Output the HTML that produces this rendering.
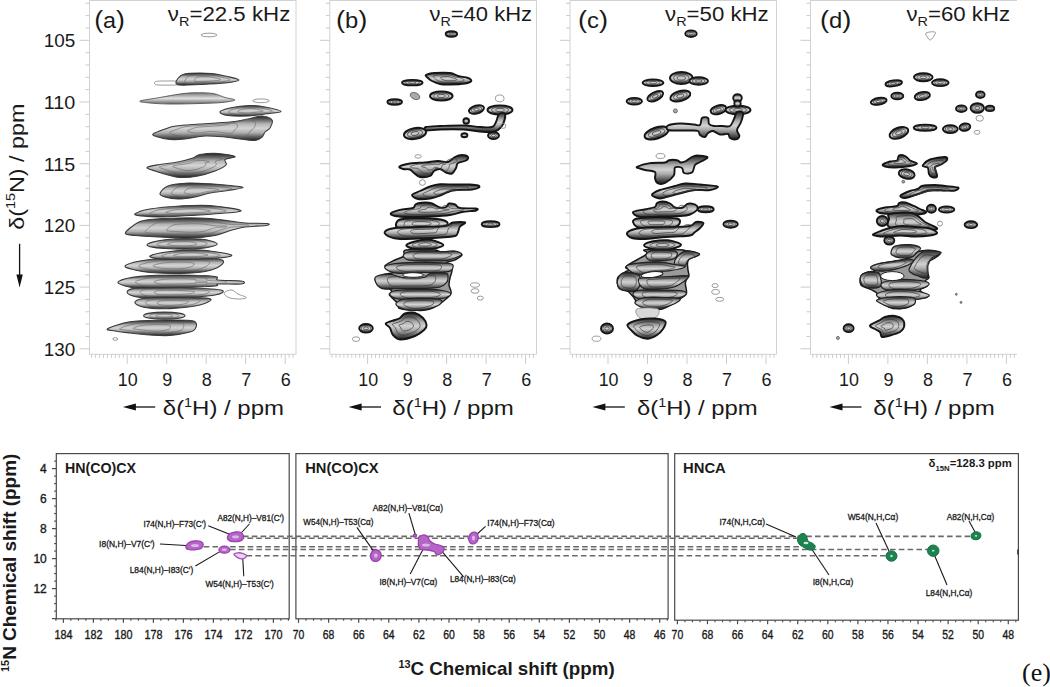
<!DOCTYPE html>
<html><head><meta charset="utf-8"><title>NMR spectra</title>
<style>
html,body{margin:0;padding:0;background:#fff;}
body{width:1050px;height:687px;overflow:hidden;}
svg{display:block;font-family:"Liberation Sans", sans-serif;}
</style></head>
<body>
<svg width="1050" height="687" viewBox="0 0 1050 687" fill="#1a1a1a">
<style>
.pa{fill:url(#ga);stroke:#3a3a3a;stroke-width:1.1}
.pal{fill:url(#gal);stroke:#555;stroke-width:0.9}
.pb,.pbn{fill:url(#gb);stroke:#151515;stroke-width:1.9}
.pbl{fill:#aaa;stroke:#555;stroke-width:0.8}
.ol{fill:none;stroke:#808080;stroke-width:0.8}
.hole{fill:#fff;stroke:#222;stroke-width:1}
.ia{fill:none;stroke:#666;stroke-width:0.6}
.ib{fill:none;stroke:#3a3a3a;stroke-width:0.7}
.neck{fill:#d8d8d8;stroke:#888;stroke-width:0.8}
.base{fill:#9a9a9a;stroke:#1a1a1a;stroke-width:1.5}
.bd{fill:url(#gb);stroke:#222;stroke-width:1.2}
.pu{fill:#b466c6;stroke:#9a40b0;stroke-width:1.3}
.gr{fill:#1c8250;stroke:#177445;stroke-width:1}
.grl{fill:#cfe3d8}
.pul{fill:#dcb6e4}
.puo{fill:#e9d3ee;stroke:#a84cbb;stroke-width:1.3}
</style>
<defs>
<linearGradient id="ga" x1="0" y1="0" x2="0" y2="1"><stop offset="0" stop-color="#222"/><stop offset="0.13" stop-color="#5a5a5a"/><stop offset="0.32" stop-color="#b4b4b4"/><stop offset="0.5" stop-color="#d4d4d4"/><stop offset="0.68" stop-color="#b0b0b0"/><stop offset="0.87" stop-color="#555"/><stop offset="1" stop-color="#222"/></linearGradient>
<linearGradient id="gal" x1="0" y1="0" x2="0" y2="1"><stop offset="0" stop-color="#777"/><stop offset="0.5" stop-color="#e0e0e0"/><stop offset="1" stop-color="#666"/></linearGradient>
<linearGradient id="gb" x1="0" y1="0" x2="0" y2="1"><stop offset="0" stop-color="#1e1e1e"/><stop offset="0.15" stop-color="#5e5e5e"/><stop offset="0.35" stop-color="#b0b0b0"/><stop offset="0.5" stop-color="#d2d2d2"/><stop offset="0.65" stop-color="#acacac"/><stop offset="0.85" stop-color="#585858"/><stop offset="1" stop-color="#1a1a1a"/></linearGradient>
</defs>
<line x1="89.50" y1="0.50" x2="296.00" y2="0.50" stroke="#d2d2d2" stroke-width="1.2"/>
<line x1="89.50" y1="0.50" x2="89.50" y2="354.30" stroke="#d2d2d2" stroke-width="1"/>
<line x1="89.50" y1="354.30" x2="296.00" y2="354.30" stroke="#d2d2d2" stroke-width="1"/>
<line x1="296.00" y1="0.50" x2="296.00" y2="354.30" stroke="#d2d2d2" stroke-width="1"/>
<line x1="85.50" y1="3.28" x2="89.50" y2="3.28" stroke="#cbcbcb" stroke-width="1"/>
<line x1="85.50" y1="15.62" x2="89.50" y2="15.62" stroke="#cbcbcb" stroke-width="1"/>
<line x1="85.50" y1="27.96" x2="89.50" y2="27.96" stroke="#cbcbcb" stroke-width="1"/>
<line x1="79.50" y1="40.30" x2="89.50" y2="40.30" stroke="#cbcbcb" stroke-width="1"/>
<line x1="85.50" y1="52.64" x2="89.50" y2="52.64" stroke="#cbcbcb" stroke-width="1"/>
<line x1="85.50" y1="64.98" x2="89.50" y2="64.98" stroke="#cbcbcb" stroke-width="1"/>
<line x1="85.50" y1="77.32" x2="89.50" y2="77.32" stroke="#cbcbcb" stroke-width="1"/>
<line x1="85.50" y1="89.66" x2="89.50" y2="89.66" stroke="#cbcbcb" stroke-width="1"/>
<line x1="79.50" y1="102.00" x2="89.50" y2="102.00" stroke="#cbcbcb" stroke-width="1"/>
<line x1="85.50" y1="114.34" x2="89.50" y2="114.34" stroke="#cbcbcb" stroke-width="1"/>
<line x1="85.50" y1="126.68" x2="89.50" y2="126.68" stroke="#cbcbcb" stroke-width="1"/>
<line x1="85.50" y1="139.02" x2="89.50" y2="139.02" stroke="#cbcbcb" stroke-width="1"/>
<line x1="85.50" y1="151.36" x2="89.50" y2="151.36" stroke="#cbcbcb" stroke-width="1"/>
<line x1="79.50" y1="163.70" x2="89.50" y2="163.70" stroke="#cbcbcb" stroke-width="1"/>
<line x1="85.50" y1="176.04" x2="89.50" y2="176.04" stroke="#cbcbcb" stroke-width="1"/>
<line x1="85.50" y1="188.38" x2="89.50" y2="188.38" stroke="#cbcbcb" stroke-width="1"/>
<line x1="85.50" y1="200.72" x2="89.50" y2="200.72" stroke="#cbcbcb" stroke-width="1"/>
<line x1="85.50" y1="213.06" x2="89.50" y2="213.06" stroke="#cbcbcb" stroke-width="1"/>
<line x1="79.50" y1="225.40" x2="89.50" y2="225.40" stroke="#cbcbcb" stroke-width="1"/>
<line x1="85.50" y1="237.74" x2="89.50" y2="237.74" stroke="#cbcbcb" stroke-width="1"/>
<line x1="85.50" y1="250.08" x2="89.50" y2="250.08" stroke="#cbcbcb" stroke-width="1"/>
<line x1="85.50" y1="262.42" x2="89.50" y2="262.42" stroke="#cbcbcb" stroke-width="1"/>
<line x1="85.50" y1="274.76" x2="89.50" y2="274.76" stroke="#cbcbcb" stroke-width="1"/>
<line x1="79.50" y1="287.10" x2="89.50" y2="287.10" stroke="#cbcbcb" stroke-width="1"/>
<line x1="85.50" y1="299.44" x2="89.50" y2="299.44" stroke="#cbcbcb" stroke-width="1"/>
<line x1="85.50" y1="311.78" x2="89.50" y2="311.78" stroke="#cbcbcb" stroke-width="1"/>
<line x1="85.50" y1="324.12" x2="89.50" y2="324.12" stroke="#cbcbcb" stroke-width="1"/>
<line x1="85.50" y1="336.46" x2="89.50" y2="336.46" stroke="#cbcbcb" stroke-width="1"/>
<line x1="79.50" y1="348.80" x2="89.50" y2="348.80" stroke="#cbcbcb" stroke-width="1"/>
<line x1="91.65" y1="354.30" x2="91.65" y2="357.80" stroke="#cbcbcb" stroke-width="1"/>
<line x1="95.60" y1="354.30" x2="95.60" y2="357.80" stroke="#cbcbcb" stroke-width="1"/>
<line x1="99.55" y1="354.30" x2="99.55" y2="357.80" stroke="#cbcbcb" stroke-width="1"/>
<line x1="103.50" y1="354.30" x2="103.50" y2="357.80" stroke="#cbcbcb" stroke-width="1"/>
<line x1="107.45" y1="354.30" x2="107.45" y2="357.80" stroke="#cbcbcb" stroke-width="1"/>
<line x1="111.40" y1="354.30" x2="111.40" y2="357.80" stroke="#cbcbcb" stroke-width="1"/>
<line x1="115.35" y1="354.30" x2="115.35" y2="357.80" stroke="#cbcbcb" stroke-width="1"/>
<line x1="119.30" y1="354.30" x2="119.30" y2="357.80" stroke="#cbcbcb" stroke-width="1"/>
<line x1="123.25" y1="354.30" x2="123.25" y2="357.80" stroke="#cbcbcb" stroke-width="1"/>
<line x1="127.20" y1="354.30" x2="127.20" y2="363.80" stroke="#cbcbcb" stroke-width="1"/>
<line x1="131.15" y1="354.30" x2="131.15" y2="357.80" stroke="#cbcbcb" stroke-width="1"/>
<line x1="135.10" y1="354.30" x2="135.10" y2="357.80" stroke="#cbcbcb" stroke-width="1"/>
<line x1="139.05" y1="354.30" x2="139.05" y2="357.80" stroke="#cbcbcb" stroke-width="1"/>
<line x1="143.00" y1="354.30" x2="143.00" y2="357.80" stroke="#cbcbcb" stroke-width="1"/>
<line x1="146.95" y1="354.30" x2="146.95" y2="357.80" stroke="#cbcbcb" stroke-width="1"/>
<line x1="150.90" y1="354.30" x2="150.90" y2="357.80" stroke="#cbcbcb" stroke-width="1"/>
<line x1="154.85" y1="354.30" x2="154.85" y2="357.80" stroke="#cbcbcb" stroke-width="1"/>
<line x1="158.80" y1="354.30" x2="158.80" y2="357.80" stroke="#cbcbcb" stroke-width="1"/>
<line x1="162.75" y1="354.30" x2="162.75" y2="357.80" stroke="#cbcbcb" stroke-width="1"/>
<line x1="166.70" y1="354.30" x2="166.70" y2="363.80" stroke="#cbcbcb" stroke-width="1"/>
<line x1="170.65" y1="354.30" x2="170.65" y2="357.80" stroke="#cbcbcb" stroke-width="1"/>
<line x1="174.60" y1="354.30" x2="174.60" y2="357.80" stroke="#cbcbcb" stroke-width="1"/>
<line x1="178.55" y1="354.30" x2="178.55" y2="357.80" stroke="#cbcbcb" stroke-width="1"/>
<line x1="182.50" y1="354.30" x2="182.50" y2="357.80" stroke="#cbcbcb" stroke-width="1"/>
<line x1="186.45" y1="354.30" x2="186.45" y2="357.80" stroke="#cbcbcb" stroke-width="1"/>
<line x1="190.40" y1="354.30" x2="190.40" y2="357.80" stroke="#cbcbcb" stroke-width="1"/>
<line x1="194.35" y1="354.30" x2="194.35" y2="357.80" stroke="#cbcbcb" stroke-width="1"/>
<line x1="198.30" y1="354.30" x2="198.30" y2="357.80" stroke="#cbcbcb" stroke-width="1"/>
<line x1="202.25" y1="354.30" x2="202.25" y2="357.80" stroke="#cbcbcb" stroke-width="1"/>
<line x1="206.20" y1="354.30" x2="206.20" y2="363.80" stroke="#cbcbcb" stroke-width="1"/>
<line x1="210.15" y1="354.30" x2="210.15" y2="357.80" stroke="#cbcbcb" stroke-width="1"/>
<line x1="214.10" y1="354.30" x2="214.10" y2="357.80" stroke="#cbcbcb" stroke-width="1"/>
<line x1="218.05" y1="354.30" x2="218.05" y2="357.80" stroke="#cbcbcb" stroke-width="1"/>
<line x1="222.00" y1="354.30" x2="222.00" y2="357.80" stroke="#cbcbcb" stroke-width="1"/>
<line x1="225.95" y1="354.30" x2="225.95" y2="357.80" stroke="#cbcbcb" stroke-width="1"/>
<line x1="229.90" y1="354.30" x2="229.90" y2="357.80" stroke="#cbcbcb" stroke-width="1"/>
<line x1="233.85" y1="354.30" x2="233.85" y2="357.80" stroke="#cbcbcb" stroke-width="1"/>
<line x1="237.80" y1="354.30" x2="237.80" y2="357.80" stroke="#cbcbcb" stroke-width="1"/>
<line x1="241.75" y1="354.30" x2="241.75" y2="357.80" stroke="#cbcbcb" stroke-width="1"/>
<line x1="245.70" y1="354.30" x2="245.70" y2="363.80" stroke="#cbcbcb" stroke-width="1"/>
<line x1="249.65" y1="354.30" x2="249.65" y2="357.80" stroke="#cbcbcb" stroke-width="1"/>
<line x1="253.60" y1="354.30" x2="253.60" y2="357.80" stroke="#cbcbcb" stroke-width="1"/>
<line x1="257.55" y1="354.30" x2="257.55" y2="357.80" stroke="#cbcbcb" stroke-width="1"/>
<line x1="261.50" y1="354.30" x2="261.50" y2="357.80" stroke="#cbcbcb" stroke-width="1"/>
<line x1="265.45" y1="354.30" x2="265.45" y2="357.80" stroke="#cbcbcb" stroke-width="1"/>
<line x1="269.40" y1="354.30" x2="269.40" y2="357.80" stroke="#cbcbcb" stroke-width="1"/>
<line x1="273.35" y1="354.30" x2="273.35" y2="357.80" stroke="#cbcbcb" stroke-width="1"/>
<line x1="277.30" y1="354.30" x2="277.30" y2="357.80" stroke="#cbcbcb" stroke-width="1"/>
<line x1="281.25" y1="354.30" x2="281.25" y2="357.80" stroke="#cbcbcb" stroke-width="1"/>
<line x1="285.20" y1="354.30" x2="285.20" y2="363.80" stroke="#cbcbcb" stroke-width="1"/>
<line x1="289.15" y1="354.30" x2="289.15" y2="357.80" stroke="#cbcbcb" stroke-width="1"/>
<line x1="293.10" y1="354.30" x2="293.10" y2="357.80" stroke="#cbcbcb" stroke-width="1"/>
<text x="127.8" y="386.2" font-size="18" text-anchor="middle" textLength="19.9" lengthAdjust="spacingAndGlyphs">10</text>
<text x="167.3" y="386.2" font-size="18" text-anchor="middle">9</text>
<text x="206.8" y="386.2" font-size="18" text-anchor="middle">8</text>
<text x="246.3" y="386.2" font-size="18" text-anchor="middle">7</text>
<text x="285.8" y="386.2" font-size="18" text-anchor="middle">6</text>
<line x1="132.90" y1="407.00" x2="155.20" y2="407.00" stroke="#111" stroke-width="1.3"/>
<path d="M122.9 407.0 L135.9 403.6 L135.9 410.4 Z" fill="#111"/>
<text x="162.8" y="415.3" font-size="20" textLength="121.2" lengthAdjust="spacingAndGlyphs">δ(<tspan font-size="12" dy="-8">1</tspan><tspan dy="8">H) / ppm</tspan></text>
<line x1="329.80" y1="0.50" x2="536.50" y2="0.50" stroke="#d2d2d2" stroke-width="1.2"/>
<line x1="329.80" y1="0.50" x2="329.80" y2="354.30" stroke="#d2d2d2" stroke-width="1"/>
<line x1="329.80" y1="354.30" x2="536.50" y2="354.30" stroke="#d2d2d2" stroke-width="1"/>
<line x1="536.50" y1="0.50" x2="536.50" y2="354.30" stroke="#d2d2d2" stroke-width="1"/>
<line x1="325.80" y1="3.28" x2="329.80" y2="3.28" stroke="#cbcbcb" stroke-width="1"/>
<line x1="325.80" y1="15.62" x2="329.80" y2="15.62" stroke="#cbcbcb" stroke-width="1"/>
<line x1="325.80" y1="27.96" x2="329.80" y2="27.96" stroke="#cbcbcb" stroke-width="1"/>
<line x1="319.80" y1="40.30" x2="329.80" y2="40.30" stroke="#cbcbcb" stroke-width="1"/>
<line x1="325.80" y1="52.64" x2="329.80" y2="52.64" stroke="#cbcbcb" stroke-width="1"/>
<line x1="325.80" y1="64.98" x2="329.80" y2="64.98" stroke="#cbcbcb" stroke-width="1"/>
<line x1="325.80" y1="77.32" x2="329.80" y2="77.32" stroke="#cbcbcb" stroke-width="1"/>
<line x1="325.80" y1="89.66" x2="329.80" y2="89.66" stroke="#cbcbcb" stroke-width="1"/>
<line x1="319.80" y1="102.00" x2="329.80" y2="102.00" stroke="#cbcbcb" stroke-width="1"/>
<line x1="325.80" y1="114.34" x2="329.80" y2="114.34" stroke="#cbcbcb" stroke-width="1"/>
<line x1="325.80" y1="126.68" x2="329.80" y2="126.68" stroke="#cbcbcb" stroke-width="1"/>
<line x1="325.80" y1="139.02" x2="329.80" y2="139.02" stroke="#cbcbcb" stroke-width="1"/>
<line x1="325.80" y1="151.36" x2="329.80" y2="151.36" stroke="#cbcbcb" stroke-width="1"/>
<line x1="319.80" y1="163.70" x2="329.80" y2="163.70" stroke="#cbcbcb" stroke-width="1"/>
<line x1="325.80" y1="176.04" x2="329.80" y2="176.04" stroke="#cbcbcb" stroke-width="1"/>
<line x1="325.80" y1="188.38" x2="329.80" y2="188.38" stroke="#cbcbcb" stroke-width="1"/>
<line x1="325.80" y1="200.72" x2="329.80" y2="200.72" stroke="#cbcbcb" stroke-width="1"/>
<line x1="325.80" y1="213.06" x2="329.80" y2="213.06" stroke="#cbcbcb" stroke-width="1"/>
<line x1="319.80" y1="225.40" x2="329.80" y2="225.40" stroke="#cbcbcb" stroke-width="1"/>
<line x1="325.80" y1="237.74" x2="329.80" y2="237.74" stroke="#cbcbcb" stroke-width="1"/>
<line x1="325.80" y1="250.08" x2="329.80" y2="250.08" stroke="#cbcbcb" stroke-width="1"/>
<line x1="325.80" y1="262.42" x2="329.80" y2="262.42" stroke="#cbcbcb" stroke-width="1"/>
<line x1="325.80" y1="274.76" x2="329.80" y2="274.76" stroke="#cbcbcb" stroke-width="1"/>
<line x1="319.80" y1="287.10" x2="329.80" y2="287.10" stroke="#cbcbcb" stroke-width="1"/>
<line x1="325.80" y1="299.44" x2="329.80" y2="299.44" stroke="#cbcbcb" stroke-width="1"/>
<line x1="325.80" y1="311.78" x2="329.80" y2="311.78" stroke="#cbcbcb" stroke-width="1"/>
<line x1="325.80" y1="324.12" x2="329.80" y2="324.12" stroke="#cbcbcb" stroke-width="1"/>
<line x1="325.80" y1="336.46" x2="329.80" y2="336.46" stroke="#cbcbcb" stroke-width="1"/>
<line x1="319.80" y1="348.80" x2="329.80" y2="348.80" stroke="#cbcbcb" stroke-width="1"/>
<line x1="332.05" y1="354.30" x2="332.05" y2="357.80" stroke="#cbcbcb" stroke-width="1"/>
<line x1="336.00" y1="354.30" x2="336.00" y2="357.80" stroke="#cbcbcb" stroke-width="1"/>
<line x1="339.95" y1="354.30" x2="339.95" y2="357.80" stroke="#cbcbcb" stroke-width="1"/>
<line x1="343.90" y1="354.30" x2="343.90" y2="357.80" stroke="#cbcbcb" stroke-width="1"/>
<line x1="347.85" y1="354.30" x2="347.85" y2="357.80" stroke="#cbcbcb" stroke-width="1"/>
<line x1="351.80" y1="354.30" x2="351.80" y2="357.80" stroke="#cbcbcb" stroke-width="1"/>
<line x1="355.75" y1="354.30" x2="355.75" y2="357.80" stroke="#cbcbcb" stroke-width="1"/>
<line x1="359.70" y1="354.30" x2="359.70" y2="357.80" stroke="#cbcbcb" stroke-width="1"/>
<line x1="363.65" y1="354.30" x2="363.65" y2="357.80" stroke="#cbcbcb" stroke-width="1"/>
<line x1="367.60" y1="354.30" x2="367.60" y2="363.80" stroke="#cbcbcb" stroke-width="1"/>
<line x1="371.55" y1="354.30" x2="371.55" y2="357.80" stroke="#cbcbcb" stroke-width="1"/>
<line x1="375.50" y1="354.30" x2="375.50" y2="357.80" stroke="#cbcbcb" stroke-width="1"/>
<line x1="379.45" y1="354.30" x2="379.45" y2="357.80" stroke="#cbcbcb" stroke-width="1"/>
<line x1="383.40" y1="354.30" x2="383.40" y2="357.80" stroke="#cbcbcb" stroke-width="1"/>
<line x1="387.35" y1="354.30" x2="387.35" y2="357.80" stroke="#cbcbcb" stroke-width="1"/>
<line x1="391.30" y1="354.30" x2="391.30" y2="357.80" stroke="#cbcbcb" stroke-width="1"/>
<line x1="395.25" y1="354.30" x2="395.25" y2="357.80" stroke="#cbcbcb" stroke-width="1"/>
<line x1="399.20" y1="354.30" x2="399.20" y2="357.80" stroke="#cbcbcb" stroke-width="1"/>
<line x1="403.15" y1="354.30" x2="403.15" y2="357.80" stroke="#cbcbcb" stroke-width="1"/>
<line x1="407.10" y1="354.30" x2="407.10" y2="363.80" stroke="#cbcbcb" stroke-width="1"/>
<line x1="411.05" y1="354.30" x2="411.05" y2="357.80" stroke="#cbcbcb" stroke-width="1"/>
<line x1="415.00" y1="354.30" x2="415.00" y2="357.80" stroke="#cbcbcb" stroke-width="1"/>
<line x1="418.95" y1="354.30" x2="418.95" y2="357.80" stroke="#cbcbcb" stroke-width="1"/>
<line x1="422.90" y1="354.30" x2="422.90" y2="357.80" stroke="#cbcbcb" stroke-width="1"/>
<line x1="426.85" y1="354.30" x2="426.85" y2="357.80" stroke="#cbcbcb" stroke-width="1"/>
<line x1="430.80" y1="354.30" x2="430.80" y2="357.80" stroke="#cbcbcb" stroke-width="1"/>
<line x1="434.75" y1="354.30" x2="434.75" y2="357.80" stroke="#cbcbcb" stroke-width="1"/>
<line x1="438.70" y1="354.30" x2="438.70" y2="357.80" stroke="#cbcbcb" stroke-width="1"/>
<line x1="442.65" y1="354.30" x2="442.65" y2="357.80" stroke="#cbcbcb" stroke-width="1"/>
<line x1="446.60" y1="354.30" x2="446.60" y2="363.80" stroke="#cbcbcb" stroke-width="1"/>
<line x1="450.55" y1="354.30" x2="450.55" y2="357.80" stroke="#cbcbcb" stroke-width="1"/>
<line x1="454.50" y1="354.30" x2="454.50" y2="357.80" stroke="#cbcbcb" stroke-width="1"/>
<line x1="458.45" y1="354.30" x2="458.45" y2="357.80" stroke="#cbcbcb" stroke-width="1"/>
<line x1="462.40" y1="354.30" x2="462.40" y2="357.80" stroke="#cbcbcb" stroke-width="1"/>
<line x1="466.35" y1="354.30" x2="466.35" y2="357.80" stroke="#cbcbcb" stroke-width="1"/>
<line x1="470.30" y1="354.30" x2="470.30" y2="357.80" stroke="#cbcbcb" stroke-width="1"/>
<line x1="474.25" y1="354.30" x2="474.25" y2="357.80" stroke="#cbcbcb" stroke-width="1"/>
<line x1="478.20" y1="354.30" x2="478.20" y2="357.80" stroke="#cbcbcb" stroke-width="1"/>
<line x1="482.15" y1="354.30" x2="482.15" y2="357.80" stroke="#cbcbcb" stroke-width="1"/>
<line x1="486.10" y1="354.30" x2="486.10" y2="363.80" stroke="#cbcbcb" stroke-width="1"/>
<line x1="490.05" y1="354.30" x2="490.05" y2="357.80" stroke="#cbcbcb" stroke-width="1"/>
<line x1="494.00" y1="354.30" x2="494.00" y2="357.80" stroke="#cbcbcb" stroke-width="1"/>
<line x1="497.95" y1="354.30" x2="497.95" y2="357.80" stroke="#cbcbcb" stroke-width="1"/>
<line x1="501.90" y1="354.30" x2="501.90" y2="357.80" stroke="#cbcbcb" stroke-width="1"/>
<line x1="505.85" y1="354.30" x2="505.85" y2="357.80" stroke="#cbcbcb" stroke-width="1"/>
<line x1="509.80" y1="354.30" x2="509.80" y2="357.80" stroke="#cbcbcb" stroke-width="1"/>
<line x1="513.75" y1="354.30" x2="513.75" y2="357.80" stroke="#cbcbcb" stroke-width="1"/>
<line x1="517.70" y1="354.30" x2="517.70" y2="357.80" stroke="#cbcbcb" stroke-width="1"/>
<line x1="521.65" y1="354.30" x2="521.65" y2="357.80" stroke="#cbcbcb" stroke-width="1"/>
<line x1="525.60" y1="354.30" x2="525.60" y2="363.80" stroke="#cbcbcb" stroke-width="1"/>
<line x1="529.55" y1="354.30" x2="529.55" y2="357.80" stroke="#cbcbcb" stroke-width="1"/>
<line x1="533.50" y1="354.30" x2="533.50" y2="357.80" stroke="#cbcbcb" stroke-width="1"/>
<text x="368.2" y="386.2" font-size="18" text-anchor="middle" textLength="19.9" lengthAdjust="spacingAndGlyphs">10</text>
<text x="407.7" y="386.2" font-size="18" text-anchor="middle">9</text>
<text x="447.2" y="386.2" font-size="18" text-anchor="middle">8</text>
<text x="486.7" y="386.2" font-size="18" text-anchor="middle">7</text>
<text x="526.2" y="386.2" font-size="18" text-anchor="middle">6</text>
<line x1="358.60" y1="407.00" x2="381.00" y2="407.00" stroke="#111" stroke-width="1.3"/>
<path d="M348.6 407.0 L361.6 403.6 L361.6 410.4 Z" fill="#111"/>
<text x="392.3" y="415.3" font-size="20" textLength="121.6" lengthAdjust="spacingAndGlyphs">δ(<tspan font-size="12" dy="-8">1</tspan><tspan dy="8">H) / ppm</tspan></text>
<line x1="570.00" y1="0.50" x2="776.50" y2="0.50" stroke="#d2d2d2" stroke-width="1.2"/>
<line x1="570.00" y1="0.50" x2="570.00" y2="354.30" stroke="#d2d2d2" stroke-width="1"/>
<line x1="570.00" y1="354.30" x2="776.50" y2="354.30" stroke="#d2d2d2" stroke-width="1"/>
<line x1="776.50" y1="0.50" x2="776.50" y2="354.30" stroke="#d2d2d2" stroke-width="1"/>
<line x1="566.00" y1="3.28" x2="570.00" y2="3.28" stroke="#cbcbcb" stroke-width="1"/>
<line x1="566.00" y1="15.62" x2="570.00" y2="15.62" stroke="#cbcbcb" stroke-width="1"/>
<line x1="566.00" y1="27.96" x2="570.00" y2="27.96" stroke="#cbcbcb" stroke-width="1"/>
<line x1="560.00" y1="40.30" x2="570.00" y2="40.30" stroke="#cbcbcb" stroke-width="1"/>
<line x1="566.00" y1="52.64" x2="570.00" y2="52.64" stroke="#cbcbcb" stroke-width="1"/>
<line x1="566.00" y1="64.98" x2="570.00" y2="64.98" stroke="#cbcbcb" stroke-width="1"/>
<line x1="566.00" y1="77.32" x2="570.00" y2="77.32" stroke="#cbcbcb" stroke-width="1"/>
<line x1="566.00" y1="89.66" x2="570.00" y2="89.66" stroke="#cbcbcb" stroke-width="1"/>
<line x1="560.00" y1="102.00" x2="570.00" y2="102.00" stroke="#cbcbcb" stroke-width="1"/>
<line x1="566.00" y1="114.34" x2="570.00" y2="114.34" stroke="#cbcbcb" stroke-width="1"/>
<line x1="566.00" y1="126.68" x2="570.00" y2="126.68" stroke="#cbcbcb" stroke-width="1"/>
<line x1="566.00" y1="139.02" x2="570.00" y2="139.02" stroke="#cbcbcb" stroke-width="1"/>
<line x1="566.00" y1="151.36" x2="570.00" y2="151.36" stroke="#cbcbcb" stroke-width="1"/>
<line x1="560.00" y1="163.70" x2="570.00" y2="163.70" stroke="#cbcbcb" stroke-width="1"/>
<line x1="566.00" y1="176.04" x2="570.00" y2="176.04" stroke="#cbcbcb" stroke-width="1"/>
<line x1="566.00" y1="188.38" x2="570.00" y2="188.38" stroke="#cbcbcb" stroke-width="1"/>
<line x1="566.00" y1="200.72" x2="570.00" y2="200.72" stroke="#cbcbcb" stroke-width="1"/>
<line x1="566.00" y1="213.06" x2="570.00" y2="213.06" stroke="#cbcbcb" stroke-width="1"/>
<line x1="560.00" y1="225.40" x2="570.00" y2="225.40" stroke="#cbcbcb" stroke-width="1"/>
<line x1="566.00" y1="237.74" x2="570.00" y2="237.74" stroke="#cbcbcb" stroke-width="1"/>
<line x1="566.00" y1="250.08" x2="570.00" y2="250.08" stroke="#cbcbcb" stroke-width="1"/>
<line x1="566.00" y1="262.42" x2="570.00" y2="262.42" stroke="#cbcbcb" stroke-width="1"/>
<line x1="566.00" y1="274.76" x2="570.00" y2="274.76" stroke="#cbcbcb" stroke-width="1"/>
<line x1="560.00" y1="287.10" x2="570.00" y2="287.10" stroke="#cbcbcb" stroke-width="1"/>
<line x1="566.00" y1="299.44" x2="570.00" y2="299.44" stroke="#cbcbcb" stroke-width="1"/>
<line x1="566.00" y1="311.78" x2="570.00" y2="311.78" stroke="#cbcbcb" stroke-width="1"/>
<line x1="566.00" y1="324.12" x2="570.00" y2="324.12" stroke="#cbcbcb" stroke-width="1"/>
<line x1="566.00" y1="336.46" x2="570.00" y2="336.46" stroke="#cbcbcb" stroke-width="1"/>
<line x1="560.00" y1="348.80" x2="570.00" y2="348.80" stroke="#cbcbcb" stroke-width="1"/>
<line x1="572.45" y1="354.30" x2="572.45" y2="357.80" stroke="#cbcbcb" stroke-width="1"/>
<line x1="576.40" y1="354.30" x2="576.40" y2="357.80" stroke="#cbcbcb" stroke-width="1"/>
<line x1="580.35" y1="354.30" x2="580.35" y2="357.80" stroke="#cbcbcb" stroke-width="1"/>
<line x1="584.30" y1="354.30" x2="584.30" y2="357.80" stroke="#cbcbcb" stroke-width="1"/>
<line x1="588.25" y1="354.30" x2="588.25" y2="357.80" stroke="#cbcbcb" stroke-width="1"/>
<line x1="592.20" y1="354.30" x2="592.20" y2="357.80" stroke="#cbcbcb" stroke-width="1"/>
<line x1="596.15" y1="354.30" x2="596.15" y2="357.80" stroke="#cbcbcb" stroke-width="1"/>
<line x1="600.10" y1="354.30" x2="600.10" y2="357.80" stroke="#cbcbcb" stroke-width="1"/>
<line x1="604.05" y1="354.30" x2="604.05" y2="357.80" stroke="#cbcbcb" stroke-width="1"/>
<line x1="608.00" y1="354.30" x2="608.00" y2="363.80" stroke="#cbcbcb" stroke-width="1"/>
<line x1="611.95" y1="354.30" x2="611.95" y2="357.80" stroke="#cbcbcb" stroke-width="1"/>
<line x1="615.90" y1="354.30" x2="615.90" y2="357.80" stroke="#cbcbcb" stroke-width="1"/>
<line x1="619.85" y1="354.30" x2="619.85" y2="357.80" stroke="#cbcbcb" stroke-width="1"/>
<line x1="623.80" y1="354.30" x2="623.80" y2="357.80" stroke="#cbcbcb" stroke-width="1"/>
<line x1="627.75" y1="354.30" x2="627.75" y2="357.80" stroke="#cbcbcb" stroke-width="1"/>
<line x1="631.70" y1="354.30" x2="631.70" y2="357.80" stroke="#cbcbcb" stroke-width="1"/>
<line x1="635.65" y1="354.30" x2="635.65" y2="357.80" stroke="#cbcbcb" stroke-width="1"/>
<line x1="639.60" y1="354.30" x2="639.60" y2="357.80" stroke="#cbcbcb" stroke-width="1"/>
<line x1="643.55" y1="354.30" x2="643.55" y2="357.80" stroke="#cbcbcb" stroke-width="1"/>
<line x1="647.50" y1="354.30" x2="647.50" y2="363.80" stroke="#cbcbcb" stroke-width="1"/>
<line x1="651.45" y1="354.30" x2="651.45" y2="357.80" stroke="#cbcbcb" stroke-width="1"/>
<line x1="655.40" y1="354.30" x2="655.40" y2="357.80" stroke="#cbcbcb" stroke-width="1"/>
<line x1="659.35" y1="354.30" x2="659.35" y2="357.80" stroke="#cbcbcb" stroke-width="1"/>
<line x1="663.30" y1="354.30" x2="663.30" y2="357.80" stroke="#cbcbcb" stroke-width="1"/>
<line x1="667.25" y1="354.30" x2="667.25" y2="357.80" stroke="#cbcbcb" stroke-width="1"/>
<line x1="671.20" y1="354.30" x2="671.20" y2="357.80" stroke="#cbcbcb" stroke-width="1"/>
<line x1="675.15" y1="354.30" x2="675.15" y2="357.80" stroke="#cbcbcb" stroke-width="1"/>
<line x1="679.10" y1="354.30" x2="679.10" y2="357.80" stroke="#cbcbcb" stroke-width="1"/>
<line x1="683.05" y1="354.30" x2="683.05" y2="357.80" stroke="#cbcbcb" stroke-width="1"/>
<line x1="687.00" y1="354.30" x2="687.00" y2="363.80" stroke="#cbcbcb" stroke-width="1"/>
<line x1="690.95" y1="354.30" x2="690.95" y2="357.80" stroke="#cbcbcb" stroke-width="1"/>
<line x1="694.90" y1="354.30" x2="694.90" y2="357.80" stroke="#cbcbcb" stroke-width="1"/>
<line x1="698.85" y1="354.30" x2="698.85" y2="357.80" stroke="#cbcbcb" stroke-width="1"/>
<line x1="702.80" y1="354.30" x2="702.80" y2="357.80" stroke="#cbcbcb" stroke-width="1"/>
<line x1="706.75" y1="354.30" x2="706.75" y2="357.80" stroke="#cbcbcb" stroke-width="1"/>
<line x1="710.70" y1="354.30" x2="710.70" y2="357.80" stroke="#cbcbcb" stroke-width="1"/>
<line x1="714.65" y1="354.30" x2="714.65" y2="357.80" stroke="#cbcbcb" stroke-width="1"/>
<line x1="718.60" y1="354.30" x2="718.60" y2="357.80" stroke="#cbcbcb" stroke-width="1"/>
<line x1="722.55" y1="354.30" x2="722.55" y2="357.80" stroke="#cbcbcb" stroke-width="1"/>
<line x1="726.50" y1="354.30" x2="726.50" y2="363.80" stroke="#cbcbcb" stroke-width="1"/>
<line x1="730.45" y1="354.30" x2="730.45" y2="357.80" stroke="#cbcbcb" stroke-width="1"/>
<line x1="734.40" y1="354.30" x2="734.40" y2="357.80" stroke="#cbcbcb" stroke-width="1"/>
<line x1="738.35" y1="354.30" x2="738.35" y2="357.80" stroke="#cbcbcb" stroke-width="1"/>
<line x1="742.30" y1="354.30" x2="742.30" y2="357.80" stroke="#cbcbcb" stroke-width="1"/>
<line x1="746.25" y1="354.30" x2="746.25" y2="357.80" stroke="#cbcbcb" stroke-width="1"/>
<line x1="750.20" y1="354.30" x2="750.20" y2="357.80" stroke="#cbcbcb" stroke-width="1"/>
<line x1="754.15" y1="354.30" x2="754.15" y2="357.80" stroke="#cbcbcb" stroke-width="1"/>
<line x1="758.10" y1="354.30" x2="758.10" y2="357.80" stroke="#cbcbcb" stroke-width="1"/>
<line x1="762.05" y1="354.30" x2="762.05" y2="357.80" stroke="#cbcbcb" stroke-width="1"/>
<line x1="766.00" y1="354.30" x2="766.00" y2="363.80" stroke="#cbcbcb" stroke-width="1"/>
<line x1="769.95" y1="354.30" x2="769.95" y2="357.80" stroke="#cbcbcb" stroke-width="1"/>
<line x1="773.90" y1="354.30" x2="773.90" y2="357.80" stroke="#cbcbcb" stroke-width="1"/>
<text x="608.6" y="386.2" font-size="18" text-anchor="middle" textLength="19.9" lengthAdjust="spacingAndGlyphs">10</text>
<text x="648.1" y="386.2" font-size="18" text-anchor="middle">9</text>
<text x="687.6" y="386.2" font-size="18" text-anchor="middle">8</text>
<text x="727.1" y="386.2" font-size="18" text-anchor="middle">7</text>
<text x="766.6" y="386.2" font-size="18" text-anchor="middle">6</text>
<line x1="602.40" y1="407.00" x2="624.80" y2="407.00" stroke="#111" stroke-width="1.3"/>
<path d="M592.4 407.0 L605.4 403.6 L605.4 410.4 Z" fill="#111"/>
<text x="637.1" y="415.3" font-size="20" textLength="120.6" lengthAdjust="spacingAndGlyphs">δ(<tspan font-size="12" dy="-8">1</tspan><tspan dy="8">H) / ppm</tspan></text>
<line x1="810.50" y1="0.50" x2="1017.00" y2="0.50" stroke="#d2d2d2" stroke-width="1.2"/>
<line x1="810.50" y1="0.50" x2="810.50" y2="354.30" stroke="#d2d2d2" stroke-width="1"/>
<line x1="810.50" y1="354.30" x2="1017.00" y2="354.30" stroke="#d2d2d2" stroke-width="1"/>
<line x1="806.50" y1="3.28" x2="810.50" y2="3.28" stroke="#cbcbcb" stroke-width="1"/>
<line x1="806.50" y1="15.62" x2="810.50" y2="15.62" stroke="#cbcbcb" stroke-width="1"/>
<line x1="806.50" y1="27.96" x2="810.50" y2="27.96" stroke="#cbcbcb" stroke-width="1"/>
<line x1="800.50" y1="40.30" x2="810.50" y2="40.30" stroke="#cbcbcb" stroke-width="1"/>
<line x1="806.50" y1="52.64" x2="810.50" y2="52.64" stroke="#cbcbcb" stroke-width="1"/>
<line x1="806.50" y1="64.98" x2="810.50" y2="64.98" stroke="#cbcbcb" stroke-width="1"/>
<line x1="806.50" y1="77.32" x2="810.50" y2="77.32" stroke="#cbcbcb" stroke-width="1"/>
<line x1="806.50" y1="89.66" x2="810.50" y2="89.66" stroke="#cbcbcb" stroke-width="1"/>
<line x1="800.50" y1="102.00" x2="810.50" y2="102.00" stroke="#cbcbcb" stroke-width="1"/>
<line x1="806.50" y1="114.34" x2="810.50" y2="114.34" stroke="#cbcbcb" stroke-width="1"/>
<line x1="806.50" y1="126.68" x2="810.50" y2="126.68" stroke="#cbcbcb" stroke-width="1"/>
<line x1="806.50" y1="139.02" x2="810.50" y2="139.02" stroke="#cbcbcb" stroke-width="1"/>
<line x1="806.50" y1="151.36" x2="810.50" y2="151.36" stroke="#cbcbcb" stroke-width="1"/>
<line x1="800.50" y1="163.70" x2="810.50" y2="163.70" stroke="#cbcbcb" stroke-width="1"/>
<line x1="806.50" y1="176.04" x2="810.50" y2="176.04" stroke="#cbcbcb" stroke-width="1"/>
<line x1="806.50" y1="188.38" x2="810.50" y2="188.38" stroke="#cbcbcb" stroke-width="1"/>
<line x1="806.50" y1="200.72" x2="810.50" y2="200.72" stroke="#cbcbcb" stroke-width="1"/>
<line x1="806.50" y1="213.06" x2="810.50" y2="213.06" stroke="#cbcbcb" stroke-width="1"/>
<line x1="800.50" y1="225.40" x2="810.50" y2="225.40" stroke="#cbcbcb" stroke-width="1"/>
<line x1="806.50" y1="237.74" x2="810.50" y2="237.74" stroke="#cbcbcb" stroke-width="1"/>
<line x1="806.50" y1="250.08" x2="810.50" y2="250.08" stroke="#cbcbcb" stroke-width="1"/>
<line x1="806.50" y1="262.42" x2="810.50" y2="262.42" stroke="#cbcbcb" stroke-width="1"/>
<line x1="806.50" y1="274.76" x2="810.50" y2="274.76" stroke="#cbcbcb" stroke-width="1"/>
<line x1="800.50" y1="287.10" x2="810.50" y2="287.10" stroke="#cbcbcb" stroke-width="1"/>
<line x1="806.50" y1="299.44" x2="810.50" y2="299.44" stroke="#cbcbcb" stroke-width="1"/>
<line x1="806.50" y1="311.78" x2="810.50" y2="311.78" stroke="#cbcbcb" stroke-width="1"/>
<line x1="806.50" y1="324.12" x2="810.50" y2="324.12" stroke="#cbcbcb" stroke-width="1"/>
<line x1="806.50" y1="336.46" x2="810.50" y2="336.46" stroke="#cbcbcb" stroke-width="1"/>
<line x1="800.50" y1="348.80" x2="810.50" y2="348.80" stroke="#cbcbcb" stroke-width="1"/>
<line x1="812.85" y1="354.30" x2="812.85" y2="357.80" stroke="#cbcbcb" stroke-width="1"/>
<line x1="816.80" y1="354.30" x2="816.80" y2="357.80" stroke="#cbcbcb" stroke-width="1"/>
<line x1="820.75" y1="354.30" x2="820.75" y2="357.80" stroke="#cbcbcb" stroke-width="1"/>
<line x1="824.70" y1="354.30" x2="824.70" y2="357.80" stroke="#cbcbcb" stroke-width="1"/>
<line x1="828.65" y1="354.30" x2="828.65" y2="357.80" stroke="#cbcbcb" stroke-width="1"/>
<line x1="832.60" y1="354.30" x2="832.60" y2="357.80" stroke="#cbcbcb" stroke-width="1"/>
<line x1="836.55" y1="354.30" x2="836.55" y2="357.80" stroke="#cbcbcb" stroke-width="1"/>
<line x1="840.50" y1="354.30" x2="840.50" y2="357.80" stroke="#cbcbcb" stroke-width="1"/>
<line x1="844.45" y1="354.30" x2="844.45" y2="357.80" stroke="#cbcbcb" stroke-width="1"/>
<line x1="848.40" y1="354.30" x2="848.40" y2="363.80" stroke="#cbcbcb" stroke-width="1"/>
<line x1="852.35" y1="354.30" x2="852.35" y2="357.80" stroke="#cbcbcb" stroke-width="1"/>
<line x1="856.30" y1="354.30" x2="856.30" y2="357.80" stroke="#cbcbcb" stroke-width="1"/>
<line x1="860.25" y1="354.30" x2="860.25" y2="357.80" stroke="#cbcbcb" stroke-width="1"/>
<line x1="864.20" y1="354.30" x2="864.20" y2="357.80" stroke="#cbcbcb" stroke-width="1"/>
<line x1="868.15" y1="354.30" x2="868.15" y2="357.80" stroke="#cbcbcb" stroke-width="1"/>
<line x1="872.10" y1="354.30" x2="872.10" y2="357.80" stroke="#cbcbcb" stroke-width="1"/>
<line x1="876.05" y1="354.30" x2="876.05" y2="357.80" stroke="#cbcbcb" stroke-width="1"/>
<line x1="880.00" y1="354.30" x2="880.00" y2="357.80" stroke="#cbcbcb" stroke-width="1"/>
<line x1="883.95" y1="354.30" x2="883.95" y2="357.80" stroke="#cbcbcb" stroke-width="1"/>
<line x1="887.90" y1="354.30" x2="887.90" y2="363.80" stroke="#cbcbcb" stroke-width="1"/>
<line x1="891.85" y1="354.30" x2="891.85" y2="357.80" stroke="#cbcbcb" stroke-width="1"/>
<line x1="895.80" y1="354.30" x2="895.80" y2="357.80" stroke="#cbcbcb" stroke-width="1"/>
<line x1="899.75" y1="354.30" x2="899.75" y2="357.80" stroke="#cbcbcb" stroke-width="1"/>
<line x1="903.70" y1="354.30" x2="903.70" y2="357.80" stroke="#cbcbcb" stroke-width="1"/>
<line x1="907.65" y1="354.30" x2="907.65" y2="357.80" stroke="#cbcbcb" stroke-width="1"/>
<line x1="911.60" y1="354.30" x2="911.60" y2="357.80" stroke="#cbcbcb" stroke-width="1"/>
<line x1="915.55" y1="354.30" x2="915.55" y2="357.80" stroke="#cbcbcb" stroke-width="1"/>
<line x1="919.50" y1="354.30" x2="919.50" y2="357.80" stroke="#cbcbcb" stroke-width="1"/>
<line x1="923.45" y1="354.30" x2="923.45" y2="357.80" stroke="#cbcbcb" stroke-width="1"/>
<line x1="927.40" y1="354.30" x2="927.40" y2="363.80" stroke="#cbcbcb" stroke-width="1"/>
<line x1="931.35" y1="354.30" x2="931.35" y2="357.80" stroke="#cbcbcb" stroke-width="1"/>
<line x1="935.30" y1="354.30" x2="935.30" y2="357.80" stroke="#cbcbcb" stroke-width="1"/>
<line x1="939.25" y1="354.30" x2="939.25" y2="357.80" stroke="#cbcbcb" stroke-width="1"/>
<line x1="943.20" y1="354.30" x2="943.20" y2="357.80" stroke="#cbcbcb" stroke-width="1"/>
<line x1="947.15" y1="354.30" x2="947.15" y2="357.80" stroke="#cbcbcb" stroke-width="1"/>
<line x1="951.10" y1="354.30" x2="951.10" y2="357.80" stroke="#cbcbcb" stroke-width="1"/>
<line x1="955.05" y1="354.30" x2="955.05" y2="357.80" stroke="#cbcbcb" stroke-width="1"/>
<line x1="959.00" y1="354.30" x2="959.00" y2="357.80" stroke="#cbcbcb" stroke-width="1"/>
<line x1="962.95" y1="354.30" x2="962.95" y2="357.80" stroke="#cbcbcb" stroke-width="1"/>
<line x1="966.90" y1="354.30" x2="966.90" y2="363.80" stroke="#cbcbcb" stroke-width="1"/>
<line x1="970.85" y1="354.30" x2="970.85" y2="357.80" stroke="#cbcbcb" stroke-width="1"/>
<line x1="974.80" y1="354.30" x2="974.80" y2="357.80" stroke="#cbcbcb" stroke-width="1"/>
<line x1="978.75" y1="354.30" x2="978.75" y2="357.80" stroke="#cbcbcb" stroke-width="1"/>
<line x1="982.70" y1="354.30" x2="982.70" y2="357.80" stroke="#cbcbcb" stroke-width="1"/>
<line x1="986.65" y1="354.30" x2="986.65" y2="357.80" stroke="#cbcbcb" stroke-width="1"/>
<line x1="990.60" y1="354.30" x2="990.60" y2="357.80" stroke="#cbcbcb" stroke-width="1"/>
<line x1="994.55" y1="354.30" x2="994.55" y2="357.80" stroke="#cbcbcb" stroke-width="1"/>
<line x1="998.50" y1="354.30" x2="998.50" y2="357.80" stroke="#cbcbcb" stroke-width="1"/>
<line x1="1002.45" y1="354.30" x2="1002.45" y2="357.80" stroke="#cbcbcb" stroke-width="1"/>
<line x1="1006.40" y1="354.30" x2="1006.40" y2="363.80" stroke="#cbcbcb" stroke-width="1"/>
<line x1="1010.35" y1="354.30" x2="1010.35" y2="357.80" stroke="#cbcbcb" stroke-width="1"/>
<line x1="1014.30" y1="354.30" x2="1014.30" y2="357.80" stroke="#cbcbcb" stroke-width="1"/>
<text x="849.0" y="386.2" font-size="18" text-anchor="middle" textLength="19.9" lengthAdjust="spacingAndGlyphs">10</text>
<text x="888.5" y="386.2" font-size="18" text-anchor="middle">9</text>
<text x="928.0" y="386.2" font-size="18" text-anchor="middle">8</text>
<text x="967.5" y="386.2" font-size="18" text-anchor="middle">7</text>
<text x="1007.0" y="386.2" font-size="18" text-anchor="middle">6</text>
<line x1="839.50" y1="407.00" x2="861.50" y2="407.00" stroke="#111" stroke-width="1.3"/>
<path d="M829.5 407.0 L842.5 403.6 L842.5 410.4 Z" fill="#111"/>
<text x="873.3" y="415.3" font-size="20" textLength="121.5" lengthAdjust="spacingAndGlyphs">δ(<tspan font-size="12" dy="-8">1</tspan><tspan dy="8">H) / ppm</tspan></text>
<text x="94.2" y="27.5" font-size="24.6" textLength="30.8" lengthAdjust="spacingAndGlyphs">(<tspan font-size="21.5">a</tspan>)</text>
<text x="167.8" y="21.3" font-size="20" textLength="122.5" lengthAdjust="spacingAndGlyphs">ν<tspan font-size="13" dy="5">R</tspan><tspan dy="-5">=22.5 kHz</tspan></text>
<text x="336.0" y="27.5" font-size="24.6" textLength="31.4" lengthAdjust="spacingAndGlyphs">(<tspan font-size="21.5">b</tspan>)</text>
<text x="429.5" y="21.3" font-size="20" textLength="102.5" lengthAdjust="spacingAndGlyphs">ν<tspan font-size="13" dy="5">R</tspan><tspan dy="-5">=40 kHz</tspan></text>
<text x="578.0" y="27.5" font-size="24.6" textLength="30.0" lengthAdjust="spacingAndGlyphs">(<tspan font-size="21.5">c</tspan>)</text>
<text x="665.1" y="21.3" font-size="20" textLength="103.5" lengthAdjust="spacingAndGlyphs">ν<tspan font-size="13" dy="5">R</tspan><tspan dy="-5">=50 kHz</tspan></text>
<text x="820.0" y="27.5" font-size="24.6" textLength="31.4" lengthAdjust="spacingAndGlyphs">(<tspan font-size="21.5">d</tspan>)</text>
<text x="906.5" y="21.3" font-size="20" textLength="103.5" lengthAdjust="spacingAndGlyphs">ν<tspan font-size="13" dy="5">R</tspan><tspan dy="-5">=60 kHz</tspan></text>
<text x="75.2" y="47.1" font-size="19" text-anchor="end" textLength="31.5" lengthAdjust="spacingAndGlyphs">105</text>
<text x="75.2" y="108.8" font-size="19" text-anchor="end" textLength="31.5" lengthAdjust="spacingAndGlyphs">110</text>
<text x="75.2" y="170.5" font-size="19" text-anchor="end" textLength="31.5" lengthAdjust="spacingAndGlyphs">115</text>
<text x="75.2" y="232.2" font-size="19" text-anchor="end" textLength="31.5" lengthAdjust="spacingAndGlyphs">120</text>
<text x="75.2" y="293.9" font-size="19" text-anchor="end" textLength="31.5" lengthAdjust="spacingAndGlyphs">125</text>
<text x="75.2" y="355.6" font-size="19" text-anchor="end" textLength="31.5" lengthAdjust="spacingAndGlyphs">130</text>
<g transform="translate(24.0,229.8) rotate(-90)">
<text x="0.0" y="0.0" font-size="21" textLength="126.2" lengthAdjust="spacingAndGlyphs">δ(<tspan font-size="13" dy="-9">15</tspan><tspan dy="9">N) / ppm</tspan></text>
</g>
<line x1="19.60" y1="243.80" x2="19.60" y2="276.00" stroke="#111" stroke-width="1.3"/>
<path d="M19.6 287.5 L16.4 274.4 L22.8 274.4 Z" fill="#111"/>
<ellipse class="ol" cx="209.0" cy="35.0" rx="8.0" ry="1.8"/>
<path class="ol" d="M154.5 83.0C154.5 82.4 154.4 81.5 158.0 81.2C161.6 80.9 172.0 81.0 176.0 81.0C180.0 81.0 181.0 80.9 182.0 81.5C183.0 82.1 183.0 83.9 182.0 84.5C181.0 85.1 180.0 84.9 176.0 85.0C172.0 85.1 161.6 85.3 158.0 85.0C154.4 84.7 154.5 83.6 154.5 83.0Z"/>
<path class="pa" d="M176.0 82.0C176.2 80.4 178.7 77.0 181.0 75.5C183.3 74.0 184.8 73.6 190.0 73.3C195.2 73.0 206.2 73.0 212.0 73.5C217.8 74.0 220.5 74.9 225.0 76.0C229.5 77.1 239.0 78.8 239.0 80.0C239.0 81.2 231.5 82.2 225.0 83.0C218.5 83.8 207.5 84.2 200.0 84.5C192.5 84.8 184.0 85.4 180.0 85.0C176.0 84.6 175.8 83.6 176.0 82.0Z"/><path class="ia" d="M184.8 81.2C184.9 80.1 186.7 77.6 188.4 76.5C190.1 75.5 191.2 75.2 194.9 74.9C198.6 74.7 206.5 74.8 210.7 75.1C214.9 75.4 216.9 76.1 220.1 76.9C223.3 77.7 230.2 78.9 230.2 79.8C230.2 80.6 224.8 81.4 220.1 81.9C215.4 82.5 207.5 82.8 202.1 83.0C196.7 83.2 190.6 83.7 187.7 83.4C184.8 83.1 184.7 82.3 184.8 81.2Z"/><path class="ia" d="M194.3 80.3C194.3 79.7 195.4 78.2 196.4 77.6C197.3 77.0 198.0 76.8 200.2 76.7C202.3 76.6 206.9 76.6 209.4 76.8C211.8 77.0 213.0 77.4 214.8 77.8C216.7 78.3 220.7 79.0 220.7 79.5C220.7 80.0 217.6 80.5 214.8 80.8C212.1 81.1 207.5 81.3 204.3 81.4C201.2 81.5 197.6 81.8 195.9 81.6C194.3 81.4 194.2 81.0 194.3 80.3Z"/>
<path class="pal" d="M140.0 101.0C141.7 100.1 153.3 98.7 160.0 97.5C166.7 96.3 174.2 94.8 180.0 94.0C185.8 93.2 189.5 92.9 195.0 92.8C200.5 92.7 208.0 92.7 213.0 93.5C218.0 94.3 221.3 96.4 225.0 97.5C228.7 98.6 235.5 99.2 235.0 100.0C234.5 100.8 227.8 101.9 222.0 102.5C216.2 103.1 208.7 103.2 200.0 103.5C191.3 103.8 178.3 104.1 170.0 104.0C161.7 103.9 155.0 103.5 150.0 103.0C145.0 102.5 138.3 101.9 140.0 101.0Z"/>
<ellipse class="ol" cx="261.0" cy="100.8" rx="8.3" ry="1.9"/>
<path class="pa" d="M220.0 112.0C220.3 110.8 225.0 109.1 230.0 108.0C235.0 106.9 244.2 105.7 250.0 105.5C255.8 105.3 259.8 106.0 265.0 107.0C270.2 108.0 281.0 110.3 281.0 111.5C281.0 112.7 270.5 113.2 265.0 114.0C259.5 114.8 254.2 115.8 248.0 116.0C241.8 116.2 232.7 116.2 228.0 115.5C223.3 114.8 219.7 113.2 220.0 112.0Z"/><path class="ia" d="M228.5 111.7C228.8 110.8 232.1 109.5 235.7 108.8C239.3 108.0 245.9 107.1 250.1 107.0C254.3 106.8 257.2 107.3 260.9 108.0C264.7 108.8 272.5 110.5 272.5 111.3C272.5 112.1 264.9 112.6 260.9 113.1C257.0 113.6 253.1 114.3 248.7 114.5C244.3 114.7 237.7 114.7 234.3 114.2C230.9 113.7 228.3 112.6 228.5 111.7Z"/><path class="ia" d="M237.7 111.3C237.8 110.8 239.8 110.0 241.9 109.6C244.0 109.1 247.8 108.6 250.3 108.5C252.7 108.5 254.4 108.8 256.6 109.2C258.8 109.6 263.3 110.6 263.3 111.1C263.3 111.6 258.9 111.8 256.6 112.1C254.3 112.4 252.0 112.8 249.4 113.0C246.9 113.1 243.0 113.0 241.1 112.7C239.1 112.5 237.6 111.8 237.7 111.3Z"/>
<path class="pa" d="M153.0 134.0C154.2 132.7 161.2 130.3 165.0 129.0C168.8 127.7 170.2 126.8 176.0 126.0C181.8 125.2 191.0 124.7 200.0 124.0C209.0 123.3 222.0 122.8 230.0 122.0C238.0 121.2 242.7 120.0 248.0 119.0C253.3 118.0 258.0 115.8 262.0 116.0C266.0 116.2 270.7 118.0 272.0 120.0C273.3 122.0 271.2 126.0 270.0 128.0C268.8 130.0 266.3 130.5 265.0 132.0C263.7 133.5 263.7 135.6 262.0 137.0C260.3 138.4 258.7 140.2 255.0 140.5C251.3 140.8 245.0 139.6 240.0 139.0C235.0 138.4 230.8 137.5 225.0 137.0C219.2 136.5 211.7 135.7 205.0 136.0C198.3 136.3 190.8 138.4 185.0 139.0C179.2 139.6 174.5 139.8 170.0 139.5C165.5 139.2 160.8 137.9 158.0 137.0C155.2 136.1 151.8 135.3 153.0 134.0Z"/><path class="ia" d="M169.7 132.4C170.5 131.4 175.5 129.8 178.3 128.8C181.1 127.8 182.0 127.2 186.2 126.6C190.4 126.0 197.0 125.7 203.5 125.2C210.0 124.7 219.3 124.3 225.1 123.8C230.9 123.2 234.2 122.3 238.1 121.6C241.9 120.9 245.3 119.3 248.1 119.4C251.0 119.6 254.4 120.9 255.3 122.3C256.3 123.8 254.7 126.6 253.9 128.1C253.1 129.5 251.3 129.9 250.3 130.9C249.3 132.0 249.3 133.5 248.1 134.6C246.9 135.6 245.7 136.8 243.1 137.1C240.5 137.3 235.9 136.4 232.3 136.0C228.7 135.6 225.7 134.9 221.5 134.6C217.3 134.2 211.9 133.6 207.1 133.8C202.3 134.1 196.9 135.6 192.7 136.0C188.5 136.4 185.1 136.6 181.9 136.3C178.7 136.1 175.3 135.2 173.3 134.6C171.2 133.9 168.8 133.3 169.7 132.4Z"/><path class="ia" d="M187.5 130.7C188.0 130.1 190.9 129.1 192.6 128.6C194.2 128.0 194.7 127.7 197.2 127.3C199.6 127.0 203.5 126.7 207.2 126.5C211.0 126.2 216.5 126.0 219.8 125.6C223.2 125.3 225.2 124.8 227.4 124.4C229.7 123.9 231.6 123.0 233.3 123.1C235.0 123.2 236.9 123.9 237.5 124.8C238.1 125.6 237.1 127.3 236.7 128.1C236.2 129.0 235.1 129.2 234.6 129.8C234.0 130.5 234.0 131.3 233.3 131.9C232.6 132.5 231.9 133.3 230.3 133.4C228.8 133.5 226.2 133.0 224.1 132.8C222.0 132.5 220.2 132.1 217.8 131.9C215.3 131.7 212.2 131.4 209.3 131.5C206.5 131.6 203.4 132.5 200.9 132.8C198.5 133.0 196.5 133.1 194.7 133.0C192.8 132.8 190.8 132.3 189.6 131.9C188.4 131.5 187.0 131.2 187.5 130.7Z"/>
<path class="pa" d="M147.0 167.5C147.8 166.4 154.8 165.4 160.0 164.5C165.2 163.6 172.5 163.1 178.0 162.0C183.5 160.9 189.3 159.2 193.0 158.0C196.7 156.8 195.8 155.2 200.0 154.5C204.2 153.8 212.2 153.2 218.0 153.5C223.8 153.8 233.8 155.4 235.0 156.4C236.2 157.4 226.5 158.1 225.0 159.5C223.5 160.9 227.7 163.1 226.0 165.0C224.3 166.9 219.7 169.2 215.0 171.0C210.3 172.8 203.8 174.9 198.0 176.0C192.2 177.1 185.0 177.7 180.0 177.5C175.0 177.3 172.2 176.1 168.0 175.0C163.8 173.9 158.5 172.2 155.0 171.0C151.5 169.8 146.2 168.6 147.0 167.5Z"/><path class="ia" d="M159.3 166.9C159.9 166.2 165.0 165.4 168.7 164.8C172.4 164.1 177.7 163.8 181.6 163.0C185.6 162.2 189.8 161.0 192.4 160.1C195.1 159.2 194.5 158.1 197.5 157.6C200.5 157.0 206.2 156.6 210.4 156.9C214.6 157.1 221.8 158.2 222.7 158.9C223.5 159.7 216.6 160.1 215.5 161.2C214.4 162.2 217.4 163.8 216.2 165.1C215.0 166.5 211.6 168.1 208.3 169.5C204.9 170.8 200.2 172.3 196.0 173.1C191.8 173.8 186.7 174.3 183.1 174.1C179.5 174.0 177.4 173.1 174.4 172.3C171.4 171.6 167.6 170.4 165.1 169.5C162.6 168.6 158.7 167.7 159.3 166.9Z"/><path class="ia" d="M172.5 166.3C172.9 165.9 175.8 165.5 178.0 165.1C180.1 164.7 183.2 164.5 185.5 164.0C187.8 163.6 190.3 162.9 191.8 162.3C193.4 161.8 193.0 161.2 194.8 160.9C196.5 160.6 199.9 160.3 202.3 160.5C204.8 160.6 209.0 161.3 209.5 161.7C210.0 162.1 205.9 162.4 205.3 163.0C204.7 163.6 206.4 164.5 205.7 165.3C205.0 166.1 203.0 167.0 201.1 167.8C199.1 168.6 196.4 169.5 193.9 169.9C191.5 170.4 188.5 170.6 186.4 170.5C184.3 170.5 183.1 169.9 181.3 169.5C179.6 169.0 177.3 168.3 175.9 167.8C174.4 167.3 172.2 166.8 172.5 166.3Z"/>
<path class="pa" d="M160.0 193.5C160.5 191.7 163.8 187.7 168.0 186.0C172.2 184.3 178.0 183.6 185.0 183.2C192.0 182.8 202.5 183.4 210.0 183.8C217.5 184.2 224.5 184.9 230.0 185.5C235.5 186.1 243.3 186.8 243.0 187.6C242.7 188.4 233.5 189.6 228.0 190.5C222.5 191.4 215.5 191.9 210.0 193.0C204.5 194.1 200.3 196.0 195.0 197.0C189.7 198.0 183.0 199.0 178.0 199.0C173.0 199.0 168.0 197.9 165.0 197.0C162.0 196.1 159.5 195.3 160.0 193.5Z"/><path class="ia" d="M171.6 192.8C172.0 191.5 174.4 188.7 177.4 187.4C180.4 186.2 184.6 185.7 189.6 185.4C194.7 185.1 202.2 185.6 207.6 185.8C213.0 186.1 218.1 186.6 222.0 187.1C226.0 187.5 231.6 188.0 231.4 188.6C231.1 189.2 224.5 190.0 220.6 190.7C216.6 191.3 211.6 191.7 207.6 192.5C203.7 193.2 200.7 194.6 196.8 195.3C193.0 196.1 188.2 196.8 184.6 196.8C181.0 196.8 177.4 196.0 175.2 195.3C173.1 194.7 171.3 194.1 171.6 192.8Z"/><path class="ia" d="M184.1 192.1C184.3 191.3 185.7 189.7 187.4 189.0C189.2 188.2 191.6 187.9 194.6 187.8C197.5 187.6 201.9 187.9 205.1 188.0C208.2 188.2 211.2 188.5 213.5 188.7C215.8 189.0 219.1 189.3 218.9 189.6C218.8 190.0 214.9 190.5 212.6 190.8C210.3 191.2 207.4 191.4 205.1 191.9C202.8 192.4 201.0 193.2 198.8 193.6C196.5 194.0 193.7 194.4 191.6 194.4C189.5 194.4 187.4 194.0 186.2 193.6C184.9 193.2 183.9 192.9 184.1 192.1Z"/>
<path class="pa" d="M135.0 214.0C136.3 212.8 142.5 210.3 150.0 209.0C157.5 207.7 170.0 206.6 180.0 206.0C190.0 205.4 199.8 204.7 210.0 205.5C220.2 206.3 239.3 209.3 241.0 210.6C242.7 211.9 228.5 212.7 220.0 213.5C211.5 214.3 200.0 214.9 190.0 215.5C180.0 216.1 168.0 216.9 160.0 217.0C152.0 217.1 146.2 216.5 142.0 216.0C137.8 215.5 133.7 215.2 135.0 214.0Z"/><path class="ia" d="M149.8 213.2C150.8 212.4 155.2 210.6 160.6 209.6C166.0 208.7 175.0 207.9 182.2 207.5C189.4 207.1 196.5 206.6 203.8 207.1C211.2 207.7 225.0 209.8 226.2 210.8C227.4 211.7 217.2 212.3 211.0 212.9C204.9 213.5 196.6 213.9 189.4 214.3C182.2 214.7 173.6 215.3 167.8 215.4C162.1 215.4 157.9 215.0 154.9 214.7C151.9 214.3 148.9 214.1 149.8 213.2Z"/><path class="ia" d="M165.7 212.4C166.3 211.9 168.9 210.9 172.0 210.3C175.2 209.7 180.4 209.3 184.6 209.0C188.8 208.8 193.0 208.5 197.2 208.8C201.5 209.2 209.6 210.4 210.3 211.0C211.0 211.5 205.0 211.9 201.4 212.2C197.9 212.5 193.0 212.8 188.8 213.0C184.6 213.3 179.6 213.6 176.2 213.7C172.9 213.7 170.4 213.5 168.7 213.2C166.9 213.0 165.2 212.9 165.7 212.4Z"/>
<path class="pa" d="M125.4 232.9C125.9 230.7 133.9 224.7 138.0 222.5C142.1 220.3 143.0 220.2 150.0 219.5C157.0 218.8 170.0 218.2 180.0 218.0C190.0 217.8 201.7 218.0 210.0 218.5C218.3 219.0 224.2 220.2 230.0 221.0C235.8 221.8 238.8 222.6 245.0 223.0C251.2 223.4 263.5 223.1 267.0 223.5C270.5 223.9 269.7 224.9 266.0 225.5C262.3 226.1 250.7 226.2 245.0 227.0C239.3 227.8 237.0 228.6 232.0 230.0C227.0 231.4 222.0 234.2 215.0 235.5C208.0 236.8 199.2 237.8 190.0 238.0C180.8 238.2 169.2 237.4 160.0 237.0C150.8 236.6 140.8 236.2 135.0 235.5C129.2 234.8 124.9 235.1 125.4 232.9Z"/><path class="ia" d="M145.2 231.5C145.6 230.0 151.3 225.6 154.3 224.0C157.2 222.4 157.9 222.4 162.9 221.9C168.0 221.3 177.3 220.9 184.5 220.8C191.7 220.7 200.1 220.8 206.1 221.2C212.1 221.5 216.3 222.4 220.5 223.0C224.7 223.5 226.9 224.1 231.3 224.4C235.8 224.7 244.7 224.5 247.2 224.8C249.7 225.1 249.1 225.8 246.5 226.2C243.8 226.6 235.4 226.7 231.3 227.3C227.3 227.8 225.6 228.4 222.0 229.4C218.4 230.5 214.8 232.4 209.7 233.4C204.7 234.4 198.3 235.0 191.7 235.2C185.1 235.4 176.7 234.8 170.1 234.5C163.5 234.2 156.3 233.9 152.1 233.4C148.0 232.9 144.9 233.1 145.2 231.5Z"/><path class="ia" d="M166.5 230.1C166.7 229.1 170.0 226.6 171.8 225.7C173.5 224.8 173.9 224.7 176.8 224.4C179.7 224.1 185.2 223.9 189.4 223.8C193.6 223.7 198.5 223.8 202.0 224.0C205.5 224.2 207.9 224.7 210.4 225.1C212.8 225.4 214.1 225.7 216.7 225.9C219.3 226.1 224.5 225.9 225.9 226.1C227.4 226.3 227.1 226.7 225.5 226.9C224.0 227.2 219.1 227.3 216.7 227.6C214.3 227.9 213.3 228.2 211.2 228.8C209.1 229.4 207.0 230.6 204.1 231.2C201.2 231.7 197.4 232.1 193.6 232.2C189.7 232.3 184.8 232.0 181.0 231.8C177.1 231.6 172.9 231.4 170.5 231.2C168.1 230.9 166.3 231.0 166.5 230.1Z"/>
<path class="pa" d="M147.0 244.9C147.0 243.4 156.2 240.7 165.0 239.7C173.8 238.7 191.3 238.3 200.0 239.0C208.7 239.7 217.2 242.4 217.2 244.0C217.2 245.6 208.7 247.8 200.0 248.5C191.3 249.2 173.8 249.1 165.0 248.5C156.2 247.9 147.0 246.4 147.0 244.9Z"/><path class="ia" d="M156.8 244.6C156.8 243.5 163.4 241.5 169.8 240.8C176.1 240.1 188.7 239.8 195.0 240.3C201.3 240.8 207.4 242.8 207.4 243.9C207.4 245.1 201.3 246.6 195.0 247.2C188.7 247.7 176.1 247.6 169.8 247.2C163.4 246.7 156.8 245.6 156.8 244.6Z"/><path class="ia" d="M167.4 244.2C167.4 243.6 171.2 242.5 174.9 242.0C178.6 241.6 186.0 241.5 189.6 241.8C193.3 242.1 196.8 243.2 196.8 243.9C196.8 244.5 193.3 245.4 189.6 245.7C186.0 246.1 178.6 246.0 174.9 245.7C171.2 245.5 167.4 244.8 167.4 244.2Z"/>
<path class="pa" d="M125.0 266.0C125.8 264.5 133.3 262.3 140.0 261.0C146.7 259.7 155.0 258.6 165.0 258.0C175.0 257.4 190.5 257.2 200.0 257.5C209.5 257.8 218.7 258.6 222.0 260.0C225.3 261.4 222.8 264.1 220.0 266.0C217.2 267.9 211.7 270.2 205.0 271.5C198.3 272.8 189.2 273.3 180.0 273.5C170.8 273.7 157.5 273.1 150.0 272.5C142.5 271.9 139.2 271.1 135.0 270.0C130.8 268.9 124.2 267.5 125.0 266.0Z"/><path class="ia" d="M138.6 265.9C139.2 264.8 144.6 263.2 149.4 262.3C154.2 261.3 160.2 260.5 167.4 260.1C174.6 259.7 185.7 259.5 192.6 259.7C199.4 260.0 206.0 260.5 208.4 261.5C210.8 262.6 209.0 264.5 207.0 265.9C204.9 267.2 201.0 268.9 196.2 269.8C191.4 270.7 184.8 271.1 178.2 271.3C171.6 271.4 162.0 271.0 156.6 270.5C151.2 270.1 148.8 269.5 145.8 268.7C142.8 268.0 138.0 266.9 138.6 265.9Z"/><path class="ia" d="M153.1 265.7C153.5 265.1 156.6 264.2 159.4 263.6C162.2 263.1 165.7 262.6 169.9 262.4C174.1 262.1 180.6 262.0 184.6 262.1C188.6 262.3 192.5 262.6 193.9 263.2C195.3 263.8 194.2 264.9 193.0 265.7C191.8 266.5 189.5 267.5 186.7 268.0C183.9 268.5 180.1 268.8 176.2 268.9C172.4 268.9 166.8 268.7 163.6 268.4C160.5 268.2 159.1 267.8 157.3 267.4C155.6 266.9 152.8 266.3 153.1 265.7Z"/>
<path class="pa" d="M150.0 256.0C151.7 254.8 161.7 252.5 170.0 251.5C178.3 250.5 189.8 249.4 200.0 250.0C210.2 250.6 228.9 253.6 231.4 255.0C233.9 256.4 223.6 257.8 215.0 258.5C206.4 259.2 189.2 259.4 180.0 259.5C170.8 259.6 165.0 259.6 160.0 259.0C155.0 258.4 148.3 257.2 150.0 256.0Z"/><path class="ia" d="M161.4 255.7C162.6 254.8 169.8 253.1 175.8 252.4C181.8 251.7 190.0 250.9 197.4 251.3C204.8 251.8 218.2 253.9 220.0 254.9C221.8 255.9 214.4 256.9 208.2 257.4C202.0 258.0 189.6 258.1 183.0 258.2C176.4 258.2 172.2 258.2 168.6 257.8C165.0 257.4 160.2 256.6 161.4 255.7Z"/><path class="ia" d="M173.6 255.3C174.3 254.8 178.5 253.8 182.0 253.4C185.5 253.0 190.3 252.5 194.6 252.8C198.9 253.0 206.7 254.3 207.8 254.9C208.8 255.4 204.5 256.0 200.9 256.3C197.3 256.6 190.1 256.7 186.2 256.7C182.4 256.8 179.9 256.8 177.8 256.5C175.7 256.3 172.9 255.8 173.6 255.3Z"/>
<path class="pa" d="M127.0 292.0C127.0 290.3 131.2 288.2 140.0 287.5C148.8 286.8 166.6 287.1 180.0 287.5C193.4 287.9 214.9 288.8 220.7 290.0C226.5 291.2 221.8 293.8 215.0 295.0C208.2 296.2 192.5 297.1 180.0 297.5C167.5 297.9 148.8 298.4 140.0 297.5C131.2 296.6 127.0 293.7 127.0 292.0Z"/><path class="ia" d="M140.1 292.1C140.1 290.9 143.1 289.4 149.5 288.9C155.8 288.4 168.6 288.6 178.3 288.9C188.0 289.2 203.4 289.8 207.6 290.7C211.8 291.6 208.4 293.4 203.5 294.3C198.6 295.2 187.3 295.8 178.3 296.1C169.3 296.4 155.8 296.8 149.5 296.1C143.1 295.4 140.1 293.3 140.1 292.1Z"/><path class="ia" d="M154.2 292.3C154.2 291.6 155.9 290.7 159.6 290.4C163.3 290.1 170.8 290.2 176.4 290.4C182.1 290.6 191.1 290.9 193.5 291.4C196.0 292.0 194.0 293.0 191.1 293.6C188.3 294.1 181.7 294.4 176.4 294.6C171.2 294.8 163.3 295.0 159.6 294.6C155.9 294.2 154.2 293.0 154.2 292.3Z"/>
<path class="pa" d="M135.0 302.0C135.8 300.3 140.8 298.2 150.0 297.5C159.2 296.8 179.9 297.2 190.0 297.5C200.1 297.8 209.0 297.8 210.7 299.0C212.4 300.2 206.8 303.4 200.0 305.0C193.2 306.6 179.2 308.2 170.0 308.6C160.8 309.0 150.8 308.6 145.0 307.5C139.2 306.4 134.2 303.7 135.0 302.0Z"/><path class="ia" d="M145.6 302.3C146.2 301.1 149.8 299.6 156.4 299.1C163.0 298.5 177.9 298.9 185.2 299.1C192.5 299.2 198.9 299.2 200.1 300.1C201.3 301.0 197.3 303.3 192.4 304.5C187.5 305.6 177.4 306.7 170.8 307.0C164.2 307.3 157.0 307.0 152.8 306.3C148.6 305.5 145.0 303.5 145.6 302.3Z"/><path class="ia" d="M157.0 302.6C157.3 301.9 159.4 301.0 163.3 300.7C167.1 300.4 175.8 300.6 180.1 300.7C184.3 300.8 188.0 300.8 188.7 301.3C189.4 301.9 187.1 303.2 184.3 303.9C181.4 304.5 175.5 305.2 171.7 305.4C167.8 305.6 163.6 305.4 161.2 304.9C158.7 304.5 156.6 303.3 157.0 302.6Z"/>
<path class="pa" d="M118.6 281.4C121.1 279.8 129.8 277.5 140.0 276.4C150.2 275.3 167.5 275.0 180.0 275.0C192.5 275.0 208.7 275.7 215.0 276.5C221.3 277.3 213.5 279.2 218.0 280.0C222.5 280.8 238.3 280.5 242.1 281.2C245.9 281.9 245.0 283.5 241.0 284.0C237.0 284.5 222.3 283.7 218.0 284.0C213.7 284.3 221.3 285.4 215.0 286.0C208.7 286.6 192.5 287.2 180.0 287.5C167.5 287.8 149.2 288.2 140.0 288.0C130.8 287.8 128.6 287.1 125.0 286.0C121.4 284.9 116.1 283.0 118.6 281.4Z"/><path class="ia" d="M135.9 281.4C137.7 280.3 143.9 278.6 151.3 277.8C158.7 277.1 171.1 276.8 180.1 276.8C189.1 276.8 200.7 277.3 205.3 277.9C209.9 278.5 204.2 279.9 207.5 280.4C210.7 281.0 222.1 280.8 224.8 281.3C227.6 281.8 226.9 283.0 224.0 283.3C221.1 283.6 210.6 283.1 207.5 283.3C204.3 283.5 209.9 284.3 205.3 284.7C200.7 285.2 189.1 285.6 180.1 285.8C171.1 286.1 157.9 286.4 151.3 286.2C144.7 286.0 143.1 285.5 140.5 284.7C137.9 283.9 134.1 282.6 135.9 281.4Z"/><path class="ia" d="M154.4 281.5C155.5 280.8 159.1 279.8 163.4 279.4C167.7 278.9 175.0 278.8 180.2 278.8C185.5 278.8 192.2 279.0 194.9 279.4C197.6 279.8 194.3 280.5 196.2 280.9C198.1 281.2 204.7 281.1 206.3 281.4C207.9 281.7 207.5 282.4 205.8 282.6C204.1 282.7 198.0 282.4 196.2 282.6C194.3 282.7 197.6 283.1 194.9 283.4C192.2 283.6 185.5 283.9 180.2 284.0C175.0 284.2 167.3 284.3 163.4 284.2C159.6 284.1 158.6 283.9 157.1 283.4C155.6 282.9 153.4 282.1 154.4 281.5Z"/>
<path class="ol" d="M225.0 292.0C226.2 291.2 229.8 289.7 232.0 290.0C234.2 290.3 235.6 292.8 238.0 294.0C240.4 295.2 246.1 296.7 246.4 297.5C246.7 298.3 242.7 298.9 240.0 299.0C237.3 299.1 232.5 298.7 230.0 298.0C227.5 297.3 225.8 296.0 225.0 295.0C224.2 294.0 223.8 292.8 225.0 292.0Z"/>
<ellipse class="pa" cx="164.3" cy="315.7" rx="20.7" ry="3.6"/><ellipse class="ia" cx="164.3" cy="315.7" rx="14.9" ry="2.6"/><ellipse class="ia" cx="164.3" cy="315.7" rx="8.7" ry="1.5"/>
<path class="pa" d="M107.6 328.7C110.1 327.2 121.3 323.3 130.0 321.9C138.7 320.5 150.0 320.4 160.0 320.2C170.0 320.0 184.0 320.0 190.0 320.5C196.0 321.0 195.2 321.6 196.0 323.0C196.8 324.4 196.0 327.5 195.0 329.0C194.0 330.5 194.2 330.9 190.0 332.0C185.8 333.1 176.7 335.0 170.0 335.5C163.3 336.0 156.7 335.4 150.0 335.0C143.3 334.6 135.8 333.7 130.0 333.0C124.2 332.3 118.7 331.7 115.0 331.0C111.3 330.3 105.1 330.2 107.6 328.7Z"/><path class="ia" d="M120.0 328.5C121.8 327.4 129.8 324.6 136.1 323.6C142.4 322.5 150.5 322.5 157.7 322.3C164.9 322.2 175.0 322.2 179.3 322.6C183.6 322.9 183.0 323.3 183.6 324.4C184.2 325.4 183.6 327.6 182.9 328.7C182.2 329.8 182.3 330.1 179.3 330.8C176.3 331.6 169.7 333.0 164.9 333.4C160.1 333.7 155.3 333.3 150.5 333.0C145.7 332.7 140.3 332.0 136.1 331.6C131.9 331.1 128.0 330.6 125.3 330.1C122.6 329.6 118.2 329.6 120.0 328.5Z"/><path class="ia" d="M133.2 328.2C134.3 327.6 139.0 325.9 142.6 325.4C146.3 324.8 151.0 324.7 155.2 324.6C159.4 324.5 165.3 324.6 167.8 324.8C170.4 325.0 170.0 325.2 170.4 325.8C170.7 326.4 170.4 327.7 169.9 328.3C169.5 329.0 169.6 329.1 167.8 329.6C166.1 330.0 162.2 330.9 159.4 331.1C156.6 331.3 153.8 331.0 151.0 330.9C148.2 330.7 145.1 330.3 142.6 330.0C140.2 329.7 137.9 329.5 136.3 329.2C134.8 328.9 132.2 328.8 133.2 328.2Z"/>
<ellipse class="ol" cx="115.3" cy="339.0" rx="2.5" ry="1.3"/>
<ellipse class="pb" cx="451.4" cy="34.0" rx="5.7" ry="2.7"/><ellipse class="ib" cx="451.4" cy="34.0" rx="3.9" ry="1.8"/><ellipse class="ib" cx="451.4" cy="34.0" rx="2.1" ry="1.0"/>
<ellipse class="pb" cx="412.3" cy="82.7" rx="10.3" ry="2.7"/><ellipse class="ib" cx="412.3" cy="82.7" rx="7.0" ry="1.8"/><ellipse class="ib" cx="412.3" cy="82.7" rx="3.7" ry="1.0"/>
<path class="pb" d="M426.0 75.0C427.2 74.2 431.0 73.3 435.0 73.0C439.0 72.7 446.2 72.5 450.0 73.0C453.8 73.5 455.0 75.2 458.0 76.0C461.0 76.8 465.8 77.2 468.0 78.0C470.2 78.8 471.8 80.1 471.3 81.0C470.8 81.9 468.6 82.9 465.0 83.5C461.4 84.1 454.2 84.4 450.0 84.5C445.8 84.6 443.0 84.6 440.0 84.0C437.0 83.4 434.0 82.0 432.0 81.0C430.0 80.0 429.0 79.0 428.0 78.0C427.0 77.0 424.8 75.8 426.0 75.0Z"/><path class="ib" d="M433.2 76.2C434.0 75.6 436.6 75.1 439.4 74.8C442.1 74.6 447.0 74.5 449.6 74.8C452.2 75.2 453.0 76.3 455.0 76.9C457.0 77.4 460.3 77.7 461.8 78.2C463.3 78.8 464.4 79.7 464.1 80.3C463.7 80.9 462.2 81.6 459.8 82.0C457.4 82.4 452.4 82.6 449.6 82.7C446.7 82.7 444.8 82.7 442.8 82.3C440.7 81.9 438.7 81.0 437.3 80.3C436.0 79.6 435.3 78.9 434.6 78.2C433.9 77.6 432.5 76.8 433.2 76.2Z"/><path class="ib" d="M440.5 77.4C440.9 77.1 442.3 76.8 443.7 76.7C445.2 76.6 447.8 76.5 449.1 76.7C450.5 76.9 450.9 77.5 452.0 77.8C453.1 78.1 454.8 78.2 455.6 78.5C456.4 78.8 457.0 79.2 456.8 79.6C456.6 79.9 455.8 80.2 454.5 80.5C453.3 80.7 450.6 80.8 449.1 80.8C447.6 80.8 446.6 80.8 445.5 80.6C444.5 80.4 443.4 79.9 442.7 79.6C441.9 79.2 441.6 78.8 441.2 78.5C440.9 78.1 440.1 77.7 440.5 77.4Z"/>
<ellipse class="pbl" cx="415.0" cy="96.0" rx="5.0" ry="3.2" transform="rotate(25 415.0 96.0)"/>
<ellipse class="pb" cx="441.3" cy="96.0" rx="11.3" ry="4.6"/><ellipse class="ib" cx="441.3" cy="96.0" rx="7.7" ry="3.1"/><ellipse class="ib" cx="441.3" cy="96.0" rx="4.1" ry="1.7"/>
<ellipse class="pb" cx="394.7" cy="102.0" rx="7.3" ry="2.7"/><ellipse class="ib" cx="394.7" cy="102.0" rx="5.0" ry="1.8"/><ellipse class="ib" cx="394.7" cy="102.0" rx="2.6" ry="1.0"/>
<ellipse class="pb" cx="476.5" cy="109.5" rx="7.7" ry="4.0" transform="rotate(-15 476.5 109.5)"/><ellipse class="ib" cx="476.5" cy="109.5" rx="5.2" ry="2.7" transform="rotate(-15 476.5 109.5)"/><ellipse class="ib" cx="476.5" cy="109.5" rx="2.8" ry="1.4" transform="rotate(-15 476.5 109.5)"/>
<ellipse class="pb" cx="500.0" cy="110.0" rx="12.5" ry="4.6"/><ellipse class="ib" cx="500.0" cy="110.0" rx="8.5" ry="3.1"/><ellipse class="ib" cx="500.0" cy="110.0" rx="4.5" ry="1.7"/>
<ellipse class="ol" cx="499.7" cy="98.4" rx="4.3" ry="3.4"/>
<path class="pbn" d="M426.0 127.0C428.3 126.2 433.7 126.2 440.0 126.0C446.3 125.8 457.3 125.3 464.0 125.5C470.7 125.7 475.3 126.8 480.0 127.0C484.7 127.2 489.3 127.8 492.0 127.0C494.7 126.2 494.8 124.2 496.0 122.0C497.2 119.8 497.5 115.3 499.0 114.0C500.5 112.7 504.3 112.3 505.0 114.0C505.7 115.7 504.2 121.3 503.0 124.0C501.8 126.7 499.8 128.7 498.0 130.0C496.2 131.3 495.0 131.8 492.0 132.0C489.0 132.2 484.7 131.9 480.0 131.5C475.3 131.1 470.7 129.8 464.0 129.5C457.3 129.2 446.3 129.3 440.0 129.5C433.7 129.7 428.3 130.9 426.0 130.5C423.7 130.1 423.7 127.8 426.0 127.0Z"/>
<ellipse class="pb" cx="415.0" cy="133.5" rx="11.2" ry="5.4" transform="rotate(-10 415.0 133.5)"/><ellipse class="ib" cx="415.0" cy="133.5" rx="7.6" ry="3.7" transform="rotate(-10 415.0 133.5)"/><ellipse class="ib" cx="415.0" cy="133.5" rx="4.0" ry="1.9" transform="rotate(-10 415.0 133.5)"/>
<ellipse class="pb" cx="466.2" cy="121.0" rx="2.8" ry="2.8"/>
<ellipse class="pb" cx="464.4" cy="135.2" rx="3.0" ry="2.0"/>
<ellipse class="pb" cx="493.5" cy="135.5" rx="5.5" ry="3.5"/><ellipse class="ib" cx="493.5" cy="135.5" rx="3.7" ry="2.4"/><ellipse class="ib" cx="493.5" cy="135.5" rx="2.0" ry="1.3"/>
<ellipse class="ol" cx="503.3" cy="125.9" rx="2.5" ry="2.5"/>
<ellipse class="ol" cx="418.1" cy="156.4" rx="3.3" ry="1.7"/>
<path class="pb" d="M399.5 166.5C400.7 165.6 405.8 164.2 410.0 163.5C414.2 162.8 420.3 162.9 425.0 162.5C429.7 162.1 434.2 161.1 438.0 161.0C441.8 160.9 445.2 162.7 448.0 162.0C450.8 161.3 452.7 158.2 455.0 157.0C457.3 155.8 459.8 155.0 462.0 155.0C464.2 155.0 467.3 156.1 468.0 157.0C468.7 157.9 467.7 159.5 466.0 160.5C464.3 161.5 459.7 161.8 458.0 163.0C456.3 164.2 457.0 166.2 456.0 168.0C455.0 169.8 453.7 172.8 452.0 173.5C450.3 174.2 448.0 173.2 446.0 172.5C444.0 171.8 442.0 169.2 440.0 169.0C438.0 168.8 435.7 169.8 434.0 171.0C432.3 172.2 432.3 175.0 430.0 176.0C427.7 177.0 422.7 177.5 420.0 177.0C417.3 176.5 415.7 174.2 414.0 173.0C412.3 171.8 411.8 170.2 410.0 169.5C408.2 168.8 404.8 169.5 403.0 169.0C401.2 168.5 398.3 167.4 399.5 166.5Z"/><path class="ib" d="M410.5 166.3C411.3 165.7 414.7 164.8 417.6 164.3C420.5 163.8 424.6 163.9 427.8 163.6C431.0 163.3 434.0 162.7 436.6 162.6C439.2 162.5 441.5 163.7 443.4 163.3C445.4 162.8 446.6 160.7 448.2 159.9C449.8 159.1 451.5 158.5 453.0 158.5C454.4 158.5 456.6 159.3 457.0 159.9C457.5 160.5 456.8 161.6 455.7 162.3C454.5 162.9 451.4 163.1 450.2 164.0C449.1 164.8 449.6 166.2 448.9 167.4C448.2 168.6 447.3 170.6 446.2 171.1C445.0 171.6 443.4 170.9 442.1 170.4C440.7 169.9 439.4 168.2 438.0 168.0C436.6 167.9 435.1 168.6 433.9 169.4C432.8 170.2 432.8 172.1 431.2 172.8C429.6 173.5 426.2 173.8 424.4 173.5C422.6 173.1 421.5 171.6 420.3 170.8C419.2 169.9 418.8 168.8 417.6 168.4C416.4 167.9 414.0 168.4 412.8 168.0C411.6 167.7 409.7 167.0 410.5 166.3Z"/><path class="ib" d="M421.4 166.2C421.8 165.8 423.7 165.3 425.2 165.1C426.7 164.9 428.9 164.9 430.6 164.7C432.3 164.6 433.9 164.2 435.3 164.2C436.7 164.2 437.9 164.8 438.9 164.6C439.9 164.3 440.6 163.2 441.4 162.8C442.2 162.3 443.1 162.0 443.9 162.0C444.7 162.0 445.8 162.4 446.1 162.8C446.3 163.1 446.0 163.7 445.4 164.0C444.8 164.4 443.1 164.5 442.5 164.9C441.9 165.4 442.1 166.1 441.8 166.7C441.4 167.3 440.9 168.4 440.3 168.7C439.7 169.0 438.9 168.6 438.2 168.3C437.4 168.1 436.7 167.2 436.0 167.1C435.3 167.0 434.4 167.4 433.8 167.8C433.2 168.2 433.2 169.2 432.4 169.6C431.6 170.0 429.8 170.1 428.8 170.0C427.8 169.8 427.2 169.0 426.6 168.5C426.0 168.1 425.9 167.5 425.2 167.3C424.5 167.0 423.3 167.3 422.7 167.1C422.1 166.9 421.0 166.5 421.4 166.2Z"/>
<ellipse class="ol" cx="422.4" cy="182.6" rx="3.0" ry="2.8"/>
<path class="pb" d="M412.0 195.0C412.3 193.7 417.0 192.4 420.0 191.0C423.0 189.6 426.7 187.6 430.0 186.5C433.3 185.4 435.8 184.6 440.0 184.3C444.2 184.0 450.0 184.5 455.0 184.5C460.0 184.5 466.2 184.3 470.0 184.5C473.8 184.7 476.5 185.0 478.0 185.5C479.5 186.0 480.0 186.8 479.0 187.5C478.0 188.2 476.0 189.1 472.0 189.5C468.0 189.9 459.0 189.6 455.0 190.0C451.0 190.4 450.5 191.1 448.0 192.0C445.5 192.9 443.0 194.4 440.0 195.5C437.0 196.6 433.7 197.9 430.0 198.5C426.3 199.1 421.0 199.6 418.0 199.0C415.0 198.4 411.7 196.3 412.0 195.0Z"/><path class="ib" d="M422.7 193.9C422.9 193.0 426.1 192.2 428.2 191.2C430.2 190.2 432.7 188.9 435.0 188.1C437.2 187.4 438.9 186.9 441.8 186.7C444.6 186.4 448.6 186.8 452.0 186.8C455.4 186.8 459.6 186.7 462.2 186.8C464.8 186.9 466.6 187.1 467.6 187.5C468.6 187.8 469.0 188.4 468.3 188.8C467.6 189.3 466.2 189.9 463.5 190.2C460.8 190.5 454.7 190.2 452.0 190.5C449.2 190.8 448.9 191.3 447.2 191.9C445.5 192.5 443.8 193.5 441.8 194.3C439.7 195.0 437.5 195.9 435.0 196.3C432.5 196.7 428.8 197.0 426.8 196.6C424.8 196.3 422.5 194.8 422.7 193.9Z"/><path class="ib" d="M433.4 192.9C433.6 192.4 435.2 191.9 436.3 191.4C437.4 190.9 438.7 190.2 439.9 189.8C441.1 189.4 442.0 189.1 443.5 189.0C445.0 188.9 447.1 189.1 448.9 189.1C450.7 189.1 452.9 189.0 454.3 189.1C455.7 189.1 456.7 189.3 457.2 189.4C457.7 189.6 457.9 189.9 457.6 190.2C457.2 190.4 456.5 190.7 455.0 190.9C453.6 191.0 450.4 190.9 448.9 191.1C447.5 191.2 447.3 191.4 446.4 191.8C445.5 192.1 444.6 192.6 443.5 193.0C442.4 193.4 441.2 193.9 439.9 194.1C438.6 194.3 436.7 194.5 435.6 194.3C434.5 194.1 433.3 193.3 433.4 192.9Z"/>
<path class="pb" d="M390.9 213.3C391.7 212.3 396.3 210.8 400.0 209.9C403.7 209.0 410.3 209.0 413.0 208.0C415.7 207.0 414.0 204.9 416.0 204.0C418.0 203.1 422.3 202.6 425.0 202.5C427.7 202.4 429.5 202.7 432.0 203.5C434.5 204.3 437.7 206.9 440.0 207.5C442.3 208.1 444.5 207.7 446.0 207.0C447.5 206.3 447.5 203.9 449.0 203.5C450.5 203.1 453.2 203.8 455.0 204.5C456.8 205.2 456.5 207.3 460.0 208.0C463.5 208.7 473.3 208.1 476.0 208.5C478.7 208.9 478.3 209.9 476.0 210.5C473.7 211.1 466.3 211.2 462.0 212.0C457.7 212.8 455.3 214.2 450.0 215.0C444.7 215.8 436.7 216.2 430.0 216.5C423.3 216.8 415.8 217.1 410.0 217.0C404.2 216.9 398.2 216.6 395.0 216.0C391.8 215.4 390.1 214.3 390.9 213.3Z"/><path class="ib" d="M404.5 212.2C405.1 211.5 408.2 210.5 410.7 209.9C413.2 209.3 417.7 209.2 419.5 208.6C421.4 207.9 420.2 206.5 421.6 205.8C422.9 205.2 425.9 204.9 427.7 204.8C429.5 204.8 430.8 204.9 432.5 205.5C434.2 206.1 436.3 207.8 437.9 208.2C439.5 208.6 441.0 208.3 442.0 207.9C443.0 207.4 443.0 205.8 444.0 205.5C445.0 205.2 446.9 205.7 448.1 206.2C449.4 206.7 449.1 208.1 451.5 208.6C453.9 209.0 460.6 208.6 462.4 208.9C464.2 209.2 464.0 209.9 462.4 210.3C460.8 210.7 455.8 210.8 452.9 211.3C449.9 211.8 448.3 212.8 444.7 213.3C441.1 213.8 435.6 214.1 431.1 214.3C426.6 214.6 421.5 214.7 417.5 214.7C413.5 214.6 409.5 214.4 407.3 214.0C405.1 213.6 403.9 212.9 404.5 212.2Z"/><path class="ib" d="M418.1 211.0C418.4 210.7 420.1 210.1 421.4 209.8C422.7 209.5 425.1 209.5 426.1 209.1C427.0 208.8 426.4 208.0 427.2 207.7C427.9 207.3 429.4 207.2 430.4 207.1C431.4 207.1 432.0 207.2 432.9 207.5C433.8 207.8 435.0 208.7 435.8 208.9C436.6 209.2 437.4 209.0 438.0 208.8C438.5 208.5 438.5 207.7 439.0 207.5C439.6 207.3 440.5 207.6 441.2 207.9C441.9 208.1 441.7 208.9 443.0 209.1C444.3 209.4 447.8 209.2 448.8 209.3C449.7 209.5 449.6 209.8 448.8 210.0C447.9 210.2 445.3 210.3 443.7 210.6C442.2 210.8 441.3 211.4 439.4 211.6C437.5 211.9 434.6 212.1 432.2 212.2C429.8 212.3 427.1 212.4 425.0 212.4C422.9 212.3 420.8 212.2 419.6 212.0C418.5 211.8 417.8 211.4 418.1 211.0Z"/>
<path class="pb" d="M396.0 224.0C396.3 222.6 396.8 220.5 400.0 219.5C403.2 218.5 408.8 218.1 415.0 218.0C421.2 217.9 431.7 218.3 437.0 219.0C442.3 219.7 445.7 220.7 447.0 222.0C448.3 223.3 447.8 225.8 445.0 227.0C442.2 228.2 435.8 228.7 430.0 229.0C424.2 229.3 415.3 229.2 410.0 229.0C404.7 228.8 400.3 228.8 398.0 228.0C395.7 227.2 395.7 225.4 396.0 224.0Z"/><path class="ib" d="M404.2 223.8C404.4 222.9 404.7 221.5 406.9 220.8C409.0 220.1 412.9 219.8 417.1 219.8C421.3 219.7 428.4 220.0 432.0 220.4C435.7 220.9 437.9 221.6 438.8 222.5C439.7 223.4 439.4 225.1 437.5 225.9C435.6 226.7 431.2 227.0 427.3 227.2C423.3 227.5 417.3 227.4 413.7 227.2C410.1 227.1 407.1 227.1 405.5 226.6C403.9 226.0 403.9 224.8 404.2 223.8Z"/><path class="ib" d="M412.3 223.7C412.4 223.2 412.6 222.4 413.8 222.1C414.9 221.7 416.9 221.6 419.2 221.5C421.4 221.5 425.2 221.6 427.1 221.9C429.0 222.1 430.2 222.5 430.7 223.0C431.2 223.4 431.0 224.3 430.0 224.8C428.9 225.2 426.7 225.4 424.6 225.5C422.5 225.6 419.3 225.5 417.4 225.5C415.4 225.4 413.9 225.4 413.0 225.1C412.2 224.8 412.2 224.2 412.3 223.7Z"/>
<path class="pb" d="M384.6 232.1C385.4 230.6 389.1 228.8 395.0 228.0C400.9 227.2 411.7 227.3 420.0 227.0C428.3 226.7 439.5 226.8 445.0 226.0C450.5 225.2 449.6 223.1 453.0 222.5C456.4 221.9 463.9 221.7 465.1 222.4C466.3 223.1 461.2 224.9 460.0 226.5C458.8 228.1 458.8 230.4 458.0 232.0C457.2 233.6 458.0 235.1 455.0 236.0C452.0 236.9 445.8 237.1 440.0 237.5C434.2 237.9 426.7 238.2 420.0 238.5C413.3 238.8 405.0 239.2 400.0 239.0C395.0 238.8 392.6 238.2 390.0 237.0C387.4 235.8 383.8 233.6 384.6 232.1Z"/><path class="ib" d="M397.5 231.7C398.0 230.6 400.5 229.4 404.6 228.9C408.6 228.3 415.9 228.4 421.6 228.2C427.2 228.0 434.8 228.0 438.6 227.5C442.3 227.0 441.7 225.5 444.0 225.1C446.3 224.7 451.4 224.6 452.2 225.1C453.0 225.5 449.6 226.8 448.8 227.8C447.9 228.9 448.0 230.5 447.4 231.6C446.8 232.7 447.4 233.7 445.4 234.3C443.3 234.9 439.1 235.0 435.2 235.3C431.2 235.6 426.1 235.8 421.6 236.0C417.0 236.2 411.4 236.5 408.0 236.3C404.6 236.2 402.9 235.8 401.2 235.0C399.4 234.2 396.9 232.7 397.5 231.7Z"/><path class="ib" d="M410.4 231.2C410.7 230.7 412.0 230.0 414.1 229.7C416.2 229.4 420.1 229.5 423.1 229.4C426.1 229.2 430.1 229.3 432.1 229.0C434.1 228.7 433.8 228.0 435.0 227.7C436.2 227.5 438.9 227.5 439.3 227.7C439.8 228.0 437.9 228.6 437.5 229.2C437.1 229.8 437.1 230.6 436.8 231.2C436.5 231.7 436.8 232.3 435.7 232.6C434.6 232.9 432.4 233.0 430.3 233.1C428.2 233.3 425.5 233.4 423.1 233.5C420.7 233.6 417.7 233.8 415.9 233.7C414.1 233.6 413.2 233.4 412.3 233.0C411.4 232.6 410.1 231.7 410.4 231.2Z"/>
<ellipse class="pb" cx="490.6" cy="224.2" rx="8.9" ry="2.9"/><ellipse class="ib" cx="490.6" cy="224.2" rx="6.1" ry="2.0"/><ellipse class="ib" cx="490.6" cy="224.2" rx="3.2" ry="1.0"/>
<path class="pb" d="M406.3 245.0C406.8 243.8 411.6 242.4 415.0 241.5C418.4 240.6 423.7 239.6 427.0 239.5C430.3 239.4 432.3 240.1 435.0 241.0C437.7 241.9 443.4 243.8 443.4 245.0C443.4 246.2 438.1 247.8 435.0 248.5C431.9 249.2 428.8 249.3 425.0 249.3C421.2 249.3 415.1 249.2 412.0 248.5C408.9 247.8 405.8 246.2 406.3 245.0Z"/><path class="ib" d="M412.2 244.8C412.6 244.0 415.8 243.1 418.2 242.4C420.5 241.8 424.0 241.1 426.3 241.1C428.6 241.0 429.9 241.5 431.8 242.1C433.6 242.7 437.5 244.0 437.5 244.8C437.5 245.7 433.8 246.7 431.8 247.2C429.7 247.7 427.6 247.7 425.0 247.7C422.3 247.7 418.2 247.7 416.1 247.2C414.0 246.7 411.9 245.6 412.2 244.8Z"/><path class="ib" d="M418.2 244.6C418.4 244.2 420.1 243.7 421.3 243.4C422.5 243.0 424.4 242.7 425.6 242.6C426.8 242.6 427.5 242.8 428.5 243.2C429.5 243.5 431.5 244.2 431.5 244.6C431.5 245.1 429.6 245.6 428.5 245.9C427.4 246.1 426.3 246.2 424.9 246.2C423.5 246.2 421.3 246.1 420.2 245.9C419.1 245.6 418.0 245.0 418.2 244.6Z"/>
<path class="base" d="M406.0 250.0C410.9 249.0 428.2 249.7 434.0 250.0C439.8 250.3 436.4 251.2 441.0 251.9C445.6 252.6 459.1 252.8 461.4 254.1C463.7 255.4 457.6 258.4 455.0 259.9C452.4 261.4 446.5 261.5 446.0 263.0C445.5 264.5 451.3 266.5 452.0 269.0C452.7 271.5 450.5 275.3 450.0 278.0C449.5 280.7 448.9 282.3 449.0 285.0C449.1 287.7 452.3 290.9 450.8 294.0C449.3 297.1 443.5 301.1 440.0 303.6C436.5 306.1 433.3 307.9 430.0 309.0C426.7 310.1 425.0 310.5 420.0 310.4C415.0 310.3 403.7 309.7 400.0 308.6C396.3 307.5 399.8 305.9 398.0 303.6C396.2 301.3 390.5 296.9 389.5 295.0C388.5 293.1 392.2 293.2 392.0 292.0C391.8 290.8 390.0 288.8 388.0 288.0C386.0 287.2 382.1 288.4 380.0 287.0C377.9 285.6 374.8 281.3 375.1 279.3C375.4 277.3 379.2 276.1 382.0 275.0C384.8 273.9 389.8 273.8 392.0 273.0C394.2 272.2 396.2 271.1 395.0 270.0C393.8 268.9 384.9 267.8 384.9 266.1C384.9 264.4 391.8 261.7 395.0 260.0C398.2 258.3 402.5 257.6 404.3 255.9C406.1 254.2 401.1 251.0 406.0 250.0Z"/>
<path class="bd" d="M403.3 255.5C403.6 254.1 406.4 252.3 410.0 251.5C413.6 250.7 420.3 250.9 425.0 250.9C429.7 250.9 434.5 251.4 438.0 251.5C441.5 251.6 443.2 251.6 446.0 251.5C448.8 251.4 452.4 250.6 455.0 251.0C457.6 251.4 461.7 253.0 461.7 254.2C461.7 255.4 457.6 256.9 455.0 258.0C452.4 259.1 449.7 260.2 446.4 260.7C443.1 261.2 439.4 260.9 435.0 261.0C430.6 261.1 424.5 261.2 420.0 261.0C415.5 260.8 410.8 260.9 408.0 260.0C405.2 259.1 403.0 256.9 403.3 255.5Z"/><path class="ib" d="M413.2 255.7C413.4 254.7 415.3 253.5 417.6 253.0C420.0 252.5 424.5 252.6 427.6 252.6C430.6 252.6 433.8 252.9 436.1 253.0C438.4 253.1 439.5 253.1 441.4 253.0C443.3 253.0 445.6 252.4 447.4 252.7C449.1 253.0 451.8 254.0 451.8 254.8C451.8 255.6 449.0 256.6 447.4 257.3C445.7 258.0 443.9 258.8 441.7 259.1C439.5 259.4 437.1 259.2 434.1 259.3C431.2 259.3 427.2 259.4 424.2 259.3C421.3 259.2 418.2 259.2 416.3 258.6C414.5 258.0 413.0 256.6 413.2 255.7Z"/>
<path class="bd" d="M384.7 266.7C385.5 265.4 390.8 264.2 395.0 263.5C399.2 262.8 404.2 262.7 410.0 262.5C415.8 262.3 423.3 262.3 430.0 262.5C436.7 262.7 446.2 262.7 450.0 263.5C453.8 264.3 453.3 265.9 453.0 267.3C452.7 268.7 451.8 270.8 448.0 271.7C444.2 272.6 435.5 272.4 430.0 272.5C424.5 272.6 420.0 272.3 415.0 272.5C410.0 272.7 404.2 273.7 400.0 273.5C395.8 273.3 392.6 272.6 390.0 271.5C387.4 270.4 383.9 268.0 384.7 266.7Z"/><path class="ib" d="M396.3 267.1C396.9 266.3 400.3 265.5 403.1 265.0C405.9 264.6 409.2 264.5 413.0 264.4C416.9 264.3 421.8 264.3 426.2 264.4C430.6 264.5 436.9 264.5 439.4 265.0C441.9 265.6 441.6 266.6 441.4 267.5C441.2 268.4 440.6 269.9 438.1 270.4C435.6 271.0 429.8 270.9 426.2 271.0C422.6 271.1 419.6 270.9 416.3 271.0C413.0 271.1 409.2 271.7 406.4 271.6C403.7 271.5 401.5 271.1 399.8 270.3C398.1 269.6 395.8 268.0 396.3 267.1Z"/>
<path class="bd" d="M374.9 278.2C375.2 276.4 377.1 275.6 380.0 275.0C382.9 274.4 388.3 274.1 392.0 274.5C395.7 274.9 396.7 277.0 402.0 277.5C407.3 278.0 419.3 278.2 424.0 277.5C428.7 276.8 426.3 274.2 430.0 273.5C433.7 272.8 443.0 272.2 446.0 273.0C449.0 273.8 447.9 276.4 448.0 278.0C448.1 279.6 447.7 281.1 446.4 282.6C445.1 284.1 443.6 286.0 440.0 287.0C436.4 288.0 431.7 288.2 425.0 288.5C418.3 288.8 406.7 288.4 400.0 288.5C393.3 288.6 388.7 289.5 385.0 289.1C381.3 288.7 379.7 287.8 378.0 286.0C376.3 284.2 374.6 280.0 374.9 278.2Z"/><path class="ib" d="M387.3 279.2C387.5 278.0 388.8 277.5 390.7 277.1C392.6 276.7 396.2 276.5 398.6 276.7C401.0 277.0 401.7 278.4 405.2 278.7C408.7 279.0 416.7 279.1 419.7 278.7C422.8 278.3 421.3 276.6 423.7 276.1C426.1 275.6 432.3 275.2 434.3 275.7C436.2 276.2 435.5 278.0 435.6 279.0C435.6 280.1 435.4 281.1 434.5 282.1C433.6 283.1 432.6 284.3 430.3 285.0C427.9 285.6 424.8 285.8 420.4 286.0C416.0 286.1 408.3 285.9 403.9 286.0C399.5 286.0 396.4 286.6 394.0 286.4C391.6 286.1 390.5 285.5 389.4 284.3C388.3 283.1 387.1 280.4 387.3 279.2Z"/>
<path class="bd" d="M389.7 294.0C389.7 292.5 392.9 290.9 398.0 290.2C403.1 289.4 413.0 289.5 420.0 289.5C427.0 289.5 434.9 289.2 440.0 290.0C445.1 290.8 450.5 292.6 450.8 294.0C451.1 295.4 447.1 297.6 442.0 298.5C436.9 299.4 427.3 299.4 420.0 299.5C412.7 299.6 403.1 299.9 398.0 299.0C392.9 298.1 389.7 295.5 389.7 294.0Z"/><path class="ib" d="M400.1 294.2C400.1 293.2 402.2 292.2 405.6 291.7C408.9 291.2 415.5 291.2 420.1 291.2C424.7 291.2 429.9 291.0 433.3 291.5C436.7 292.0 440.2 293.2 440.4 294.2C440.6 295.1 438.0 296.5 434.6 297.1C431.2 297.7 424.9 297.7 420.1 297.8C415.2 297.9 408.9 298.1 405.6 297.5C402.2 296.9 400.1 295.1 400.1 294.2Z"/>
<path class="bd" d="M396.2 303.0C397.2 301.7 399.4 299.8 405.0 299.0C410.6 298.2 424.0 298.3 430.0 298.5C436.0 298.7 439.5 298.9 441.0 300.0C442.5 301.1 441.7 303.4 439.0 305.0C436.3 306.6 429.8 308.6 425.0 309.5C420.2 310.4 414.3 310.8 410.0 310.4C405.7 310.0 401.3 308.2 399.0 307.0C396.7 305.8 395.2 304.3 396.2 303.0Z"/><path class="ib" d="M403.8 303.5C404.5 302.6 405.9 301.3 409.6 300.9C413.3 300.4 422.2 300.4 426.1 300.5C430.1 300.6 432.4 300.8 433.4 301.5C434.4 302.2 433.8 303.8 432.1 304.8C430.3 305.9 426.0 307.2 422.8 307.8C419.6 308.4 415.8 308.7 412.9 308.4C410.1 308.1 407.2 306.9 405.7 306.1C404.1 305.3 403.2 304.4 403.8 303.5Z"/>
<ellipse class="hole" cx="413.0" cy="275.0" rx="10.5" ry="2.3"/>
<ellipse class="ol" cx="475.0" cy="285.0" rx="4.5" ry="2.2"/>
<ellipse class="ol" cx="475.0" cy="291.0" rx="4.0" ry="2.3"/>
<ellipse class="ol" cx="480.3" cy="298.1" rx="3.0" ry="2.0"/>
<path class="pb" d="M385.8 323.5C386.6 322.2 392.6 320.9 395.0 320.0C397.4 319.1 398.3 319.1 400.0 318.0C401.7 316.9 402.5 314.3 405.0 313.5C407.5 312.7 412.0 312.2 415.0 313.0C418.0 313.8 421.1 316.0 423.0 318.0C424.9 320.0 426.4 323.0 426.6 325.0C426.8 327.0 425.9 328.2 424.0 330.0C422.1 331.8 419.0 334.4 415.0 336.0C411.0 337.6 403.7 339.7 400.0 339.5C396.3 339.3 394.7 336.9 393.0 335.0C391.3 333.1 391.2 329.9 390.0 328.0C388.8 326.1 385.0 324.8 385.8 323.5Z"/><path class="ib" d="M392.3 324.4C392.9 323.5 397.0 322.6 398.6 322.0C400.2 321.4 400.9 321.4 402.0 320.6C403.1 319.9 403.7 318.1 405.4 317.6C407.1 317.0 410.1 316.7 412.2 317.2C414.2 317.8 416.3 319.3 417.6 320.6C418.9 322.0 420.0 324.0 420.1 325.4C420.2 326.8 419.6 327.6 418.3 328.8C417.0 330.0 414.9 331.8 412.2 332.9C409.5 334.0 404.5 335.4 402.0 335.3C399.5 335.1 398.4 333.5 397.2 332.2C396.1 330.9 396.0 328.7 395.2 327.4C394.4 326.1 391.8 325.3 392.3 324.4Z"/><path class="ib" d="M398.9 325.3C399.2 324.8 401.3 324.3 402.2 324.0C403.0 323.7 403.4 323.7 404.0 323.3C404.6 322.9 404.9 322.0 405.8 321.7C406.7 321.4 408.3 321.2 409.4 321.5C410.4 321.8 411.6 322.6 412.2 323.3C412.9 324.0 413.5 325.1 413.5 325.8C413.6 326.5 413.3 326.9 412.6 327.6C411.9 328.3 410.8 329.2 409.4 329.8C407.9 330.3 405.3 331.1 404.0 331.0C402.6 331.0 402.0 330.1 401.4 329.4C400.8 328.7 400.8 327.6 400.4 326.9C399.9 326.2 398.6 325.7 398.9 325.3Z"/>
<ellipse class="pb" cx="366.0" cy="328.3" rx="6.8" ry="4.3"/><ellipse class="ib" cx="366.0" cy="328.3" rx="4.6" ry="2.9"/><ellipse class="ib" cx="366.0" cy="328.3" rx="2.4" ry="1.5"/>
<ellipse class="ol" cx="356.1" cy="339.1" rx="3.7" ry="2.3"/>
<ellipse class="pb" cx="691.0" cy="33.7" rx="5.7" ry="3.3"/><ellipse class="ib" cx="691.0" cy="33.7" rx="3.9" ry="2.2"/><ellipse class="ib" cx="691.0" cy="33.7" rx="2.1" ry="1.2"/>
<ellipse class="pb" cx="653.0" cy="82.7" rx="10.3" ry="3.3"/><ellipse class="ib" cx="653.0" cy="82.7" rx="7.0" ry="2.2"/><ellipse class="ib" cx="653.0" cy="82.7" rx="3.7" ry="1.2"/>
<ellipse class="pb" cx="681.3" cy="78.0" rx="11.3" ry="6.0"/><ellipse class="ib" cx="681.3" cy="78.0" rx="7.7" ry="4.1"/><ellipse class="ib" cx="681.3" cy="78.0" rx="4.1" ry="2.2"/>
<ellipse class="pb" cx="698.7" cy="81.0" rx="9.3" ry="3.7"/><ellipse class="ib" cx="698.7" cy="81.0" rx="6.3" ry="2.5"/><ellipse class="ib" cx="698.7" cy="81.0" rx="3.3" ry="1.3"/>
<ellipse class="pb" cx="655.3" cy="96.3" rx="8.5" ry="4.2" transform="rotate(-25 655.3 96.3)"/><ellipse class="ib" cx="655.3" cy="96.3" rx="5.8" ry="2.9" transform="rotate(-25 655.3 96.3)"/><ellipse class="ib" cx="655.3" cy="96.3" rx="3.1" ry="1.5" transform="rotate(-25 655.3 96.3)"/>
<ellipse class="pb" cx="680.3" cy="96.0" rx="10.3" ry="5.0" transform="rotate(-15 680.3 96.0)"/><ellipse class="ib" cx="680.3" cy="96.0" rx="7.0" ry="3.4" transform="rotate(-15 680.3 96.0)"/><ellipse class="ib" cx="680.3" cy="96.0" rx="3.7" ry="1.8" transform="rotate(-15 680.3 96.0)"/>
<ellipse class="pb" cx="634.3" cy="101.3" rx="7.7" ry="3.3"/><ellipse class="ib" cx="634.3" cy="101.3" rx="5.2" ry="2.2"/><ellipse class="ib" cx="634.3" cy="101.3" rx="2.8" ry="1.2"/>
<ellipse class="pbl" cx="675.4" cy="110.9" rx="2.0" ry="2.0"/>
<ellipse class="pb" cx="718.5" cy="109.7" rx="8.0" ry="4.3" transform="rotate(-15 718.5 109.7)"/><ellipse class="ib" cx="718.5" cy="109.7" rx="5.4" ry="2.9" transform="rotate(-15 718.5 109.7)"/><ellipse class="ib" cx="718.5" cy="109.7" rx="2.9" ry="1.5" transform="rotate(-15 718.5 109.7)"/>
<ellipse class="pb" cx="738.0" cy="110.0" rx="12.5" ry="4.3"/><ellipse class="ib" cx="738.0" cy="110.0" rx="8.5" ry="2.9"/><ellipse class="ib" cx="738.0" cy="110.0" rx="4.5" ry="1.5"/>
<ellipse class="pbn" cx="737.5" cy="98.0" rx="4.3" ry="3.8"/>
<path class="pbn" d="M735.0 101.0C735.8 100.2 739.2 100.2 740.0 101.0C740.8 101.8 740.8 105.2 740.0 106.0C739.2 106.8 735.8 106.8 735.0 106.0C734.2 105.2 734.2 101.8 735.0 101.0Z"/>
<ellipse class="pb" cx="656.6" cy="133.0" rx="12.5" ry="5.5" transform="rotate(-18 656.6 133.0)"/><ellipse class="ib" cx="656.6" cy="133.0" rx="8.5" ry="3.7" transform="rotate(-18 656.6 133.0)"/><ellipse class="ib" cx="656.6" cy="133.0" rx="4.5" ry="2.0" transform="rotate(-18 656.6 133.0)"/>
<path class="pbn" d="M668.0 125.5C670.0 124.4 675.7 123.7 680.0 123.5C684.3 123.3 690.7 124.2 694.0 124.5C697.3 124.8 698.7 126.1 700.0 125.0C701.3 123.9 700.7 119.2 702.0 118.0C703.3 116.8 706.8 117.0 708.0 118.0C709.2 119.0 708.0 122.7 709.0 124.0C710.0 125.3 711.8 125.7 714.0 126.0C716.2 126.3 719.3 126.0 722.0 126.0C724.7 126.0 728.0 127.2 730.0 126.0C732.0 124.8 732.8 121.3 734.0 119.0C735.2 116.7 735.5 113.0 737.0 112.0C738.5 111.0 742.3 111.3 743.0 113.0C743.7 114.7 742.0 119.2 741.0 122.0C740.0 124.8 737.3 127.7 737.0 130.0C736.7 132.3 739.6 134.4 739.4 136.0C739.2 137.6 737.6 139.1 736.0 139.4C734.4 139.7 731.3 138.9 730.0 138.0C728.7 137.1 729.7 134.6 728.0 134.0C726.3 133.4 722.5 135.0 720.0 134.5C717.5 134.0 715.0 131.2 713.0 131.0C711.0 130.8 709.3 132.0 708.0 133.0C706.7 134.0 706.3 136.7 705.0 137.0C703.7 137.3 701.2 136.0 700.0 135.0C698.8 134.0 699.7 131.8 698.0 131.0C696.3 130.2 693.0 130.6 690.0 130.5C687.0 130.4 683.7 130.6 680.0 130.5C676.3 130.4 670.0 130.8 668.0 130.0C666.0 129.2 666.0 126.6 668.0 125.5Z"/>
<ellipse class="ol" cx="660.5" cy="156.0" rx="4.5" ry="2.5"/>
<path class="pbn" d="M637.1 166.9C638.8 166.0 645.4 163.8 650.0 163.1C654.6 162.4 661.8 163.0 665.0 162.5C668.2 162.0 667.0 160.6 669.0 160.2C671.0 159.8 675.0 159.8 677.0 160.2C679.0 160.6 679.5 162.4 681.0 162.5C682.5 162.6 684.3 161.8 686.0 161.0C687.7 160.2 689.2 158.4 691.0 157.5C692.8 156.6 694.2 155.5 697.0 155.5C699.8 155.5 707.1 156.3 707.6 157.4C708.1 158.5 702.1 160.7 700.0 162.0C697.9 163.3 696.3 163.2 695.0 165.0C693.7 166.8 693.8 171.3 692.0 172.6C690.2 173.9 685.7 173.8 684.0 173.0C682.3 172.2 683.5 168.9 682.0 168.0C680.5 167.1 676.4 166.2 675.0 167.5C673.6 168.8 675.5 172.9 673.8 175.5C672.1 178.1 667.7 181.7 665.0 183.0C662.3 184.3 659.3 183.9 657.6 183.1C655.9 182.3 655.4 179.8 655.0 178.0C654.6 176.2 656.7 173.3 655.0 172.0C653.3 170.7 647.5 170.6 645.0 170.0C642.5 169.4 641.3 169.0 640.0 168.5C638.7 168.0 635.4 167.8 637.1 166.9Z"/>
<path class="pb" d="M651.9 195.0C651.9 193.6 656.1 191.5 660.0 190.0C663.9 188.5 670.8 187.1 675.0 186.0C679.2 184.9 680.8 183.8 685.0 183.5C689.2 183.2 694.6 184.0 700.0 184.5C705.4 185.0 715.9 185.6 717.6 186.5C719.3 187.4 713.8 189.4 710.0 190.0C706.2 190.6 699.2 189.7 695.0 190.0C690.8 190.3 689.2 191.0 685.0 192.0C680.8 193.0 674.2 194.9 670.0 196.0C665.8 197.1 663.0 198.7 660.0 198.5C657.0 198.3 651.9 196.4 651.9 195.0Z"/><path class="ib" d="M662.4 193.7C662.4 192.8 665.3 191.3 667.9 190.3C670.5 189.3 675.3 188.3 678.1 187.6C681.0 186.9 682.1 186.1 684.9 185.9C687.8 185.7 691.4 186.2 695.1 186.6C698.8 186.9 706.0 187.3 707.1 187.9C708.2 188.6 704.5 189.9 701.9 190.3C699.4 190.7 694.6 190.1 691.7 190.3C688.9 190.5 687.8 191.0 684.9 191.7C682.1 192.4 677.6 193.7 674.7 194.4C671.9 195.1 670.0 196.2 667.9 196.1C665.9 196.0 662.4 194.7 662.4 193.7Z"/><path class="ib" d="M672.9 192.4C672.9 191.9 674.5 191.2 675.8 190.6C677.2 190.1 679.7 189.6 681.2 189.2C682.7 188.8 683.3 188.4 684.8 188.3C686.3 188.2 688.3 188.5 690.2 188.7C692.2 188.8 696.0 189.1 696.6 189.4C697.2 189.7 695.2 190.4 693.8 190.6C692.5 190.8 689.9 190.5 688.4 190.6C686.9 190.8 686.3 191.0 684.8 191.4C683.3 191.7 680.9 192.4 679.4 192.8C677.9 193.2 676.9 193.8 675.8 193.7C674.8 193.6 672.9 192.9 672.9 192.4Z"/>
<path class="pb" d="M633.1 212.1C633.9 210.8 641.4 210.2 645.0 209.3C648.6 208.5 653.0 208.1 655.0 207.0C657.0 205.9 655.7 203.9 657.0 203.0C658.3 202.1 660.8 201.4 663.0 201.5C665.2 201.6 668.0 202.5 670.0 203.5C672.0 204.5 672.8 206.8 675.0 207.5C677.2 208.2 681.0 208.1 683.0 207.5C685.0 206.9 685.5 204.7 687.0 204.0C688.5 203.3 690.3 203.3 692.0 203.6C693.7 203.9 696.2 204.9 697.0 206.0C697.8 207.1 698.2 208.6 697.0 210.0C695.8 211.4 692.8 213.5 690.0 214.5C687.2 215.5 685.0 215.7 680.0 216.0C675.0 216.3 666.7 216.3 660.0 216.5C653.3 216.7 644.5 217.7 640.0 217.0C635.5 216.3 632.3 213.4 633.1 212.1Z"/><path class="ib" d="M643.3 211.2C643.9 210.3 648.9 209.9 651.4 209.3C653.9 208.7 656.9 208.4 658.2 207.7C659.6 207.0 658.7 205.6 659.6 205.0C660.5 204.4 662.2 203.9 663.7 204.0C665.1 204.0 667.1 204.7 668.4 205.3C669.8 206.0 670.3 207.6 671.8 208.1C673.3 208.5 675.9 208.5 677.3 208.1C678.6 207.7 679.0 206.1 680.0 205.7C681.0 205.2 682.2 205.2 683.4 205.4C684.5 205.6 686.2 206.3 686.8 207.0C687.3 207.8 687.6 208.8 686.8 209.8C686.0 210.7 683.9 212.1 682.0 212.8C680.1 213.5 678.6 213.6 675.2 213.8C671.8 214.1 666.1 214.1 661.6 214.2C657.1 214.3 651.1 215.0 648.0 214.5C645.0 214.0 642.8 212.1 643.3 211.2Z"/><path class="ib" d="M653.5 210.3C653.8 209.8 656.5 209.6 657.8 209.3C659.1 209.0 660.7 208.8 661.4 208.4C662.2 208.1 661.7 207.3 662.2 207.0C662.6 206.7 663.5 206.4 664.3 206.5C665.1 206.5 666.1 206.8 666.8 207.2C667.6 207.5 667.9 208.4 668.6 208.6C669.4 208.9 670.8 208.8 671.5 208.6C672.2 208.4 672.4 207.6 673.0 207.4C673.5 207.1 674.2 207.1 674.8 207.2C675.4 207.3 676.3 207.7 676.6 208.1C676.9 208.5 677.0 209.0 676.6 209.5C676.1 210.0 675.1 210.8 674.0 211.1C673.0 211.5 672.2 211.6 670.4 211.7C668.6 211.8 665.6 211.8 663.2 211.9C660.8 211.9 657.6 212.3 656.0 212.0C654.4 211.8 653.2 210.7 653.5 210.3Z"/>
<ellipse class="pb" cx="705.7" cy="209.2" rx="8.0" ry="3.0"/><ellipse class="ib" cx="705.7" cy="209.2" rx="5.4" ry="2.0"/><ellipse class="ib" cx="705.7" cy="209.2" rx="2.9" ry="1.1"/>
<path class="pb" d="M633.0 222.0C632.5 220.4 634.2 219.2 637.0 218.5C639.8 217.8 645.3 217.7 650.0 217.5C654.7 217.3 660.5 217.3 665.0 217.5C669.5 217.7 674.5 217.8 677.0 218.5C679.5 219.2 680.3 220.6 680.0 222.0C679.7 223.4 678.3 226.0 675.0 227.0C671.7 228.0 665.8 227.8 660.0 228.0C654.2 228.2 644.5 229.0 640.0 228.0C635.5 227.0 633.5 223.6 633.0 222.0Z"/><path class="ib" d="M640.5 222.2C640.2 221.2 641.3 220.4 643.2 219.9C645.2 219.4 648.9 219.3 652.1 219.2C655.3 219.1 659.2 219.1 662.3 219.2C665.3 219.3 668.7 219.4 670.4 219.9C672.1 220.4 672.7 221.3 672.5 222.2C672.3 223.2 671.3 225.0 669.1 225.6C666.8 226.3 662.8 226.2 658.9 226.3C654.9 226.4 648.3 227.0 645.3 226.3C642.2 225.6 640.9 223.3 640.5 222.2Z"/><path class="ib" d="M648.0 222.5C647.9 221.9 648.5 221.5 649.5 221.2C650.5 220.9 652.5 220.9 654.2 220.9C655.8 220.8 657.9 220.8 659.6 220.9C661.2 220.9 663.0 220.9 663.9 221.2C664.8 221.5 665.1 222.0 665.0 222.5C664.8 223.0 664.4 223.9 663.2 224.3C662.0 224.6 659.9 224.6 657.8 224.6C655.7 224.7 652.2 225.0 650.6 224.6C648.9 224.3 648.2 223.0 648.0 222.5Z"/>
<path class="pb" d="M626.9 233.3C627.4 231.8 631.1 230.0 635.0 229.0C638.9 228.0 643.3 227.8 650.0 227.5C656.7 227.2 668.3 227.2 675.0 227.0C681.7 226.8 686.5 226.8 690.0 226.0C693.5 225.2 693.8 222.4 696.0 221.9C698.2 221.4 702.7 222.0 703.4 223.0C704.1 224.0 701.4 226.5 700.0 228.0C698.6 229.5 696.7 230.8 695.0 232.0C693.3 233.2 693.3 234.8 690.0 235.5C686.7 236.2 680.0 236.2 675.0 236.5C670.0 236.8 665.0 237.1 660.0 237.5C655.0 237.9 649.7 238.9 645.0 239.0C640.3 239.1 635.0 238.9 632.0 238.0C629.0 237.1 626.4 234.8 626.9 233.3Z"/><path class="ib" d="M639.1 232.4C639.5 231.4 642.0 230.1 644.6 229.5C647.3 228.8 650.3 228.7 654.8 228.4C659.4 228.2 667.3 228.3 671.8 228.1C676.4 227.9 679.7 228.0 682.0 227.4C684.4 226.8 684.6 225.0 686.1 224.6C687.6 224.3 690.7 224.7 691.2 225.4C691.6 226.1 689.8 227.8 688.8 228.8C687.9 229.8 686.6 230.7 685.4 231.5C684.3 232.4 684.3 233.4 682.0 233.9C679.8 234.4 675.2 234.3 671.8 234.6C668.4 234.8 665.0 235.0 661.6 235.2C658.2 235.5 654.6 236.2 651.4 236.3C648.3 236.3 644.7 236.2 642.6 235.6C640.6 234.9 638.8 233.4 639.1 232.4Z"/><path class="ib" d="M651.4 231.5C651.6 230.9 652.9 230.3 654.3 229.9C655.7 229.6 657.3 229.5 659.7 229.4C662.1 229.3 666.3 229.3 668.7 229.2C671.1 229.1 672.8 229.2 674.1 228.8C675.4 228.5 675.5 227.6 676.3 227.4C677.1 227.2 678.7 227.4 678.9 227.8C679.2 228.1 678.2 229.0 677.7 229.6C677.2 230.1 676.5 230.6 675.9 231.0C675.3 231.5 675.3 232.0 674.1 232.3C672.9 232.5 670.5 232.5 668.7 232.6C666.9 232.7 665.1 232.8 663.3 233.0C661.5 233.1 659.6 233.5 657.9 233.5C656.2 233.6 654.3 233.5 653.2 233.2C652.1 232.8 651.2 232.0 651.4 231.5Z"/>
<ellipse class="pb" cx="730.6" cy="224.2" rx="7.2" ry="3.5"/><ellipse class="ib" cx="730.6" cy="224.2" rx="4.9" ry="2.4"/><ellipse class="ib" cx="730.6" cy="224.2" rx="2.6" ry="1.3"/>
<path class="pb" d="M644.0 245.3C644.3 244.1 648.0 242.3 652.0 241.5C656.0 240.7 663.2 239.8 668.0 240.3C672.8 240.8 680.3 243.1 681.0 244.5C681.7 245.9 675.5 248.1 672.0 249.0C668.5 249.9 663.7 250.0 660.0 249.9C656.3 249.8 652.7 249.3 650.0 248.5C647.3 247.7 643.7 246.5 644.0 245.3Z"/><path class="ib" d="M649.9 245.2C650.1 244.4 652.6 243.2 655.4 242.7C658.1 242.1 663.0 241.5 666.2 241.8C669.5 242.2 674.6 243.7 675.1 244.7C675.5 245.7 671.3 247.1 669.0 247.8C666.6 248.4 663.3 248.4 660.8 248.4C658.3 248.3 655.8 247.9 654.0 247.4C652.2 246.9 649.7 246.0 649.9 245.2Z"/><path class="ib" d="M655.8 245.2C656.0 244.8 657.3 244.1 658.7 243.8C660.2 243.5 662.7 243.2 664.5 243.4C666.2 243.6 668.9 244.4 669.2 244.9C669.4 245.4 667.2 246.2 665.9 246.5C664.7 246.8 662.9 246.9 661.6 246.8C660.3 246.8 659.0 246.6 658.0 246.3C657.0 246.0 655.7 245.6 655.8 245.2Z"/>
<path class="base" d="M645.4 249.8C650.9 249.1 672.9 249.6 679.7 249.8C686.5 250.0 683.1 250.2 686.4 250.9C689.7 251.6 699.1 252.7 699.5 254.2C699.9 255.7 690.6 257.4 688.6 259.7C686.6 262.0 687.7 265.4 687.7 267.9C687.8 270.4 688.8 273.3 688.9 274.7C689.0 276.1 689.2 274.7 688.6 276.0C688.0 277.3 685.8 279.8 685.4 282.7C685.0 285.6 687.3 290.8 686.4 293.5C685.5 296.2 681.8 297.5 679.9 299.0C678.0 300.5 677.8 301.0 674.9 302.6C672.0 304.2 666.4 308.0 662.3 308.9C658.1 309.8 653.9 308.9 650.0 308.2C646.1 307.5 642.1 306.7 639.2 304.7C636.4 302.7 634.9 298.6 632.9 296.3C630.9 294.0 629.3 292.0 627.0 290.7C624.7 289.4 620.7 290.5 619.1 288.4C617.5 286.3 616.6 280.8 617.6 278.1C618.6 275.4 622.9 273.4 625.0 272.0C627.1 270.6 629.8 271.0 630.0 270.0C630.2 269.0 623.6 268.8 626.4 266.2C629.2 263.6 643.4 256.8 646.6 254.1C649.8 251.4 639.9 250.5 645.4 249.8Z"/>
<path class="bd" d="M646.0 255.0C646.3 253.3 648.8 251.4 652.0 250.6C655.2 249.8 660.9 250.2 665.0 250.4C669.1 250.6 674.9 250.7 676.6 252.0C678.3 253.3 676.9 256.6 675.0 258.0C673.1 259.4 669.2 260.3 665.0 260.7C660.8 261.1 653.2 261.4 650.0 260.5C646.8 259.6 645.7 256.6 646.0 255.0Z"/><path class="ib" d="M651.2 255.2C651.4 254.1 653.1 252.8 655.2 252.3C657.3 251.8 661.0 252.0 663.7 252.2C666.4 252.3 670.3 252.4 671.4 253.2C672.5 254.0 671.6 256.2 670.3 257.2C669.1 258.1 666.5 258.7 663.7 258.9C661.0 259.2 655.9 259.4 653.8 258.8C651.8 258.2 651.0 256.3 651.2 255.2Z"/>
<path class="bd" d="M674.4 265.1C673.9 263.3 675.0 259.4 677.0 257.0C679.0 254.6 682.6 251.4 686.4 250.9C690.1 250.4 699.1 252.7 699.5 254.2C699.9 255.7 691.0 257.7 688.6 259.7C686.2 261.7 686.7 264.8 685.3 266.2C683.9 267.6 681.8 268.2 680.0 268.0C678.2 267.8 674.9 266.9 674.4 265.1Z"/><path class="ib" d="M678.7 263.2C678.3 262.0 679.1 259.4 680.4 257.8C681.7 256.3 684.1 254.1 686.6 253.8C689.1 253.5 695.0 255.0 695.2 256.0C695.5 257.0 689.6 258.3 688.0 259.6C686.5 260.9 686.8 263.0 685.9 263.9C684.9 264.8 683.6 265.2 682.4 265.1C681.2 265.0 679.0 264.4 678.7 263.2Z"/>
<path class="bd" d="M626.4 266.2C626.9 264.2 634.4 263.6 640.0 262.9C645.6 262.2 654.2 261.7 660.0 262.0C665.8 262.3 670.8 263.8 675.0 264.6C679.2 265.4 685.8 266.0 685.0 267.0C684.2 268.0 675.8 269.8 670.0 270.6C664.2 271.4 655.5 271.3 650.0 272.0C644.5 272.7 640.9 276.0 637.0 275.0C633.1 274.0 625.9 268.2 626.4 266.2Z"/><path class="ib" d="M636.4 267.0C636.7 265.7 641.6 265.3 645.3 264.8C649.0 264.3 654.7 264.0 658.5 264.2C662.4 264.4 665.7 265.4 668.4 265.9C671.2 266.5 675.6 266.8 675.0 267.5C674.5 268.2 669.0 269.3 665.1 269.9C661.3 270.4 655.6 270.3 651.9 270.8C648.3 271.3 646.0 273.4 643.4 272.8C640.8 272.2 636.0 268.3 636.4 267.0Z"/>
<path class="bd" d="M617.6 280.0C618.3 277.9 619.6 274.7 622.0 273.5C624.4 272.3 629.1 272.4 632.0 272.8C634.9 273.2 638.2 273.8 639.5 276.0C640.8 278.2 640.4 283.4 639.5 286.0C638.6 288.6 636.9 290.6 634.0 291.3C631.1 292.0 624.7 290.9 622.0 290.0C619.3 289.1 618.7 287.7 618.0 286.0C617.3 284.3 616.9 282.1 617.6 280.0Z"/><path class="ib" d="M621.3 280.7C621.8 279.3 622.6 277.2 624.2 276.4C625.8 275.6 628.9 275.7 630.8 275.9C632.8 276.2 635.0 276.6 635.8 278.1C636.6 279.5 636.4 283.0 635.8 284.7C635.2 286.3 634.1 287.7 632.1 288.2C630.2 288.6 626.0 287.9 624.2 287.3C622.5 286.7 622.1 285.8 621.6 284.7C621.1 283.6 620.9 282.1 621.3 280.7Z"/>
<path class="bd" d="M638.4 279.3C639.2 277.4 644.7 278.0 650.0 277.5C655.3 277.0 663.6 276.8 670.0 276.5C676.4 276.2 686.9 274.8 688.6 276.0C690.3 277.2 683.1 282.0 680.0 284.0C676.9 286.0 675.8 287.2 670.0 288.0C664.2 288.8 650.3 290.4 645.0 289.0C639.7 287.6 637.6 281.2 638.4 279.3Z"/><path class="ib" d="M646.9 280.4C647.5 279.1 651.1 279.5 654.6 279.2C658.1 278.9 663.5 278.7 667.8 278.5C672.0 278.4 679.0 277.4 680.1 278.2C681.2 279.0 676.4 282.2 674.4 283.5C672.3 284.8 671.6 285.6 667.8 286.1C663.9 286.7 654.8 287.7 651.3 286.8C647.8 285.8 646.4 281.7 646.9 280.4Z"/>
<path class="bd" d="M632.9 294.0C632.9 292.5 635.5 290.9 640.0 290.2C644.5 289.5 653.3 289.9 660.0 290.0C666.7 290.1 675.6 289.9 680.0 290.5C684.4 291.1 686.7 292.2 686.4 293.5C686.1 294.8 682.4 297.0 678.0 298.0C673.6 299.0 666.3 299.3 660.0 299.5C653.7 299.7 644.5 299.9 640.0 299.0C635.5 298.1 632.9 295.5 632.9 294.0Z"/><path class="ib" d="M642.0 294.3C642.0 293.3 643.7 292.2 646.7 291.7C649.7 291.3 655.5 291.6 659.9 291.6C664.3 291.6 670.2 291.6 673.1 291.9C676.0 292.3 677.5 293.1 677.3 293.9C677.1 294.8 674.7 296.2 671.8 296.9C668.9 297.6 664.1 297.8 659.9 297.9C655.7 298.0 649.7 298.2 646.7 297.6C643.7 296.9 642.0 295.2 642.0 294.3Z"/>
<path class="bd" d="M635.1 302.0C636.3 300.7 640.0 298.2 645.0 297.5C650.0 296.8 659.2 297.2 665.0 297.5C670.8 297.8 678.4 297.9 679.9 299.0C681.4 300.1 677.3 302.4 674.0 304.0C670.7 305.6 664.8 307.8 660.0 308.5C655.2 309.2 648.7 308.7 645.0 308.2C641.3 307.7 639.6 306.5 638.0 305.5C636.4 304.5 633.9 303.3 635.1 302.0Z"/><path class="ib" d="M642.7 302.3C643.5 301.5 646.0 299.9 649.2 299.4C652.5 298.9 658.6 299.2 662.5 299.4C666.3 299.5 671.3 299.6 672.3 300.4C673.3 301.1 670.6 302.6 668.4 303.7C666.2 304.7 662.3 306.2 659.1 306.6C656.0 307.1 651.7 306.8 649.2 306.4C646.8 306.1 645.7 305.3 644.6 304.6C643.5 304.0 641.9 303.2 642.7 302.3Z"/>
<ellipse class="hole" cx="652.0" cy="274.6" rx="11.0" ry="2.8" transform="rotate(-6 652.0 274.6)"/>
<path class="neck" d="M637.0 309.0C640.0 307.5 655.0 307.5 658.0 309.0C661.0 310.5 658.0 316.5 655.0 318.0C652.0 319.5 643.0 319.5 640.0 318.0C637.0 316.5 634.0 310.5 637.0 309.0Z"/>
<ellipse class="ol" cx="715.1" cy="285.6" rx="3.0" ry="2.0"/>
<ellipse class="ol" cx="715.6" cy="291.9" rx="4.0" ry="2.5"/>
<ellipse class="ol" cx="719.7" cy="299.3" rx="4.0" ry="2.0"/>
<path class="pb" d="M627.7 324.5C629.2 322.8 635.5 320.5 640.0 319.5C644.5 318.5 650.8 318.2 655.0 318.5C659.2 318.8 664.1 319.8 665.4 321.5C666.7 323.2 664.4 326.8 663.0 329.0C661.6 331.2 659.5 333.4 657.0 335.0C654.5 336.6 651.2 338.6 648.0 338.8C644.8 339.0 640.8 337.5 638.0 336.0C635.2 334.5 632.7 331.9 631.0 330.0C629.3 328.1 626.2 326.2 627.7 324.5Z"/><path class="ib" d="M633.7 325.8C634.8 324.6 639.0 323.1 642.1 322.4C645.2 321.7 649.4 321.5 652.3 321.7C655.2 322.0 658.5 322.6 659.4 323.8C660.3 325.0 658.7 327.4 657.7 328.9C656.8 330.4 655.4 331.9 653.7 333.0C652.0 334.1 649.7 335.4 647.5 335.6C645.4 335.7 642.7 334.6 640.7 333.6C638.8 332.7 637.1 330.9 636.0 329.6C634.8 328.3 632.7 327.0 633.7 325.8Z"/><path class="ib" d="M639.8 327.2C640.3 326.5 642.6 325.7 644.2 325.4C645.8 325.0 648.1 324.9 649.6 325.0C651.1 325.1 652.9 325.4 653.3 326.1C653.8 326.7 653.0 328.0 652.5 328.8C652.0 329.6 651.2 330.3 650.3 330.9C649.4 331.5 648.2 332.2 647.1 332.3C645.9 332.4 644.5 331.8 643.5 331.3C642.5 330.8 641.6 329.8 641.0 329.1C640.3 328.4 639.2 327.8 639.8 327.2Z"/>
<ellipse class="pb" cx="607.0" cy="328.5" rx="6.0" ry="5.0"/><ellipse class="ib" cx="607.0" cy="328.5" rx="4.1" ry="3.4"/><ellipse class="ib" cx="607.0" cy="328.5" rx="2.2" ry="1.8"/>
<ellipse class="ol" cx="596.5" cy="338.7" rx="4.4" ry="2.6"/>
<path class="ol" d="M926.0 33.0C927.2 32.0 934.5 31.2 935.3 32.3C936.1 33.4 932.2 38.8 931.0 39.7C929.8 40.7 928.8 39.1 928.0 38.0C927.2 36.9 924.8 34.0 926.0 33.0Z"/>
<ellipse class="pb" cx="893.7" cy="83.3" rx="8.3" ry="2.9" transform="rotate(-8 893.7 83.3)"/><ellipse class="ib" cx="893.7" cy="83.3" rx="5.6" ry="2.0" transform="rotate(-8 893.7 83.3)"/><ellipse class="ib" cx="893.7" cy="83.3" rx="3.0" ry="1.0" transform="rotate(-8 893.7 83.3)"/>
<ellipse class="pb" cx="923.3" cy="77.3" rx="9.3" ry="4.0"/><ellipse class="ib" cx="923.3" cy="77.3" rx="6.3" ry="2.7"/><ellipse class="ib" cx="923.3" cy="77.3" rx="3.3" ry="1.4"/>
<ellipse class="pb" cx="940.3" cy="82.7" rx="8.3" ry="3.4"/><ellipse class="ib" cx="940.3" cy="82.7" rx="5.6" ry="2.3"/><ellipse class="ib" cx="940.3" cy="82.7" rx="3.0" ry="1.2"/>
<ellipse class="pb" cx="897.3" cy="96.0" rx="6.0" ry="3.3"/><ellipse class="ib" cx="897.3" cy="96.0" rx="4.1" ry="2.2"/><ellipse class="ib" cx="897.3" cy="96.0" rx="2.2" ry="1.2"/>
<ellipse class="pb" cx="922.3" cy="96.0" rx="7.7" ry="4.0" transform="rotate(-10 922.3 96.0)"/><ellipse class="ib" cx="922.3" cy="96.0" rx="5.2" ry="2.7" transform="rotate(-10 922.3 96.0)"/><ellipse class="ib" cx="922.3" cy="96.0" rx="2.8" ry="1.4" transform="rotate(-10 922.3 96.0)"/>
<ellipse class="pb" cx="878.7" cy="101.3" rx="8.0" ry="3.3" transform="rotate(-10 878.7 101.3)"/><ellipse class="ib" cx="878.7" cy="101.3" rx="5.4" ry="2.2" transform="rotate(-10 878.7 101.3)"/><ellipse class="ib" cx="878.7" cy="101.3" rx="2.9" ry="1.2" transform="rotate(-10 878.7 101.3)"/>
<ellipse class="pb" cx="980.3" cy="94.7" rx="4.3" ry="3.3"/><ellipse class="ib" cx="980.3" cy="94.7" rx="2.9" ry="2.2"/><ellipse class="ib" cx="980.3" cy="94.7" rx="1.5" ry="1.2"/>
<ellipse class="pb" cx="961.3" cy="108.7" rx="5.3" ry="3.3"/><ellipse class="ib" cx="961.3" cy="108.7" rx="3.6" ry="2.2"/><ellipse class="ib" cx="961.3" cy="108.7" rx="1.9" ry="1.2"/>
<ellipse class="pb" cx="977.3" cy="108.0" rx="6.7" ry="4.8"/><ellipse class="ib" cx="977.3" cy="108.0" rx="4.6" ry="3.3"/><ellipse class="ib" cx="977.3" cy="108.0" rx="2.4" ry="1.7"/>
<ellipse class="pb" cx="990.0" cy="108.4" rx="4.2" ry="2.6"/><ellipse class="ib" cx="990.0" cy="108.4" rx="2.9" ry="1.8"/><ellipse class="ib" cx="990.0" cy="108.4" rx="1.5" ry="0.9"/>
<ellipse class="pb" cx="898.9" cy="132.9" rx="9.8" ry="5.2" transform="rotate(-20 898.9 132.9)"/><ellipse class="ib" cx="898.9" cy="132.9" rx="6.7" ry="3.5" transform="rotate(-20 898.9 132.9)"/><ellipse class="ib" cx="898.9" cy="132.9" rx="3.5" ry="1.9" transform="rotate(-20 898.9 132.9)"/>
<ellipse class="pb" cx="925.1" cy="127.7" rx="11.4" ry="3.1"/><ellipse class="ib" cx="925.1" cy="127.7" rx="7.8" ry="2.1"/><ellipse class="ib" cx="925.1" cy="127.7" rx="4.1" ry="1.1"/>
<ellipse class="pb" cx="950.3" cy="129.1" rx="7.4" ry="4.0"/><ellipse class="ib" cx="950.3" cy="129.1" rx="5.0" ry="2.7"/><ellipse class="ib" cx="950.3" cy="129.1" rx="2.7" ry="1.4"/>
<ellipse class="pb" cx="964.9" cy="127.1" rx="5.4" ry="3.7" transform="rotate(-10 964.9 127.1)"/><ellipse class="ib" cx="964.9" cy="127.1" rx="3.7" ry="2.5" transform="rotate(-10 964.9 127.1)"/><ellipse class="ib" cx="964.9" cy="127.1" rx="1.9" ry="1.3" transform="rotate(-10 964.9 127.1)"/>
<ellipse class="ol" cx="977.1" cy="132.3" rx="2.9" ry="2.0"/>
<ellipse class="ol" cx="979.7" cy="118.3" rx="3.7" ry="2.9"/>
<path class="pb" d="M883.0 164.5C883.8 163.7 887.7 162.2 890.0 161.5C892.3 160.8 895.5 161.5 897.0 160.5C898.5 159.5 897.7 156.2 899.0 155.5C900.3 154.8 903.2 155.2 905.0 156.0C906.8 156.8 908.0 159.2 910.0 160.5C912.0 161.8 917.0 162.6 917.0 163.5C917.0 164.4 913.7 165.3 910.0 166.0C906.3 166.7 899.2 167.4 895.0 167.5C890.8 167.6 887.0 167.0 885.0 166.5C883.0 166.0 882.2 165.3 883.0 164.5Z"/><path class="ib" d="M888.4 163.5C889.0 163.0 891.6 162.0 893.2 161.5C894.8 161.0 896.9 161.5 898.0 160.8C899.0 160.1 898.4 157.9 899.3 157.4C900.2 156.9 902.2 157.2 903.4 157.8C904.6 158.3 905.4 160.0 906.8 160.8C908.2 161.7 911.6 162.2 911.6 162.9C911.6 163.5 909.3 164.1 906.8 164.6C904.3 165.0 899.4 165.5 896.6 165.6C893.8 165.6 891.2 165.2 889.8 164.9C888.4 164.6 887.9 164.1 888.4 163.5Z"/><path class="ib" d="M893.9 162.6C894.2 162.3 895.6 161.7 896.4 161.5C897.2 161.3 898.4 161.5 898.9 161.1C899.5 160.8 899.2 159.6 899.6 159.3C900.1 159.1 901.1 159.2 901.8 159.5C902.5 159.8 902.9 160.7 903.6 161.1C904.3 161.6 906.1 161.9 906.1 162.2C906.1 162.6 904.9 162.9 903.6 163.1C902.3 163.4 899.7 163.6 898.2 163.7C896.7 163.7 895.3 163.5 894.6 163.3C893.9 163.1 893.6 162.9 893.9 162.6Z"/>
<ellipse class="pb" cx="906.7" cy="174.0" rx="8.0" ry="4.7" transform="rotate(10 906.7 174.0)"/><ellipse class="ib" cx="906.7" cy="174.0" rx="5.4" ry="3.2" transform="rotate(10 906.7 174.0)"/><ellipse class="ib" cx="906.7" cy="174.0" rx="2.9" ry="1.7" transform="rotate(10 906.7 174.0)"/>
<path class="pb" d="M923.0 165.0C924.0 163.8 926.3 160.8 930.0 159.5C933.7 158.2 942.2 156.9 945.0 157.0C947.8 157.1 947.5 158.8 947.0 160.0C946.5 161.2 944.0 162.8 942.0 164.0C940.0 165.2 936.1 166.0 935.0 167.0C933.9 168.0 935.2 168.4 935.5 170.0C935.8 171.6 937.6 175.3 937.0 176.5C936.4 177.7 933.3 177.4 932.0 177.0C930.7 176.6 929.7 175.5 929.0 174.0C928.3 172.5 928.8 169.2 928.0 168.0C927.2 166.8 924.8 167.0 924.0 166.5C923.2 166.0 922.0 166.2 923.0 165.0Z"/><path class="ib" d="M926.8 165.6C927.5 164.8 929.1 162.8 931.6 161.9C934.1 161.0 939.9 160.1 941.8 160.2C943.7 160.3 943.5 161.4 943.2 162.2C942.8 163.0 941.1 164.2 939.8 165.0C938.4 165.8 935.7 166.3 935.0 167.0C934.3 167.7 935.1 168.0 935.3 169.0C935.6 170.1 936.8 172.7 936.4 173.5C936.0 174.3 933.9 174.1 933.0 173.8C932.1 173.5 931.4 172.8 930.9 171.8C930.5 170.7 930.8 168.5 930.2 167.7C929.7 166.8 928.1 167.0 927.5 166.7C927.0 166.3 926.2 166.4 926.8 165.6Z"/><path class="ib" d="M930.7 166.3C931.0 165.9 931.9 164.8 933.2 164.3C934.5 163.8 937.6 163.4 938.6 163.4C939.6 163.4 939.5 164.1 939.3 164.5C939.1 164.9 938.2 165.5 937.5 165.9C936.8 166.3 935.4 166.6 935.0 167.0C934.6 167.4 935.1 167.5 935.2 168.1C935.3 168.7 935.9 170.0 935.7 170.4C935.5 170.8 934.4 170.8 933.9 170.6C933.4 170.4 933.1 170.1 932.8 169.5C932.6 169.0 932.8 167.8 932.5 167.4C932.2 166.9 931.3 167.0 931.0 166.8C930.7 166.6 930.3 166.7 930.7 166.3Z"/>
<ellipse class="pbl" cx="903.3" cy="181.7" rx="1.4" ry="1.4"/>
<path class="pb" d="M900.5 195.5C901.3 194.3 907.1 192.1 910.0 191.0C912.9 189.9 916.0 189.8 918.0 189.0C920.0 188.2 919.2 186.7 922.0 186.0C924.8 185.3 931.2 185.0 935.0 185.0C938.8 185.0 941.2 185.6 945.0 186.0C948.8 186.4 956.3 186.8 958.0 187.5C959.7 188.2 957.2 190.0 955.0 190.5C952.8 191.0 948.3 190.6 945.0 190.5C941.7 190.4 938.3 189.8 935.0 190.0C931.7 190.2 927.8 190.8 925.0 191.5C922.2 192.2 921.3 192.9 918.0 194.0C914.7 195.1 907.9 197.8 905.0 198.0C902.1 198.2 899.7 196.7 900.5 195.5Z"/><path class="ib" d="M909.7 194.2C910.3 193.4 914.2 191.9 916.2 191.2C918.1 190.4 920.2 190.4 921.6 189.8C923.0 189.2 922.4 188.2 924.3 187.8C926.2 187.3 930.6 187.1 933.2 187.1C935.8 187.1 937.4 187.5 940.0 187.8C942.6 188.0 947.7 188.3 948.8 188.8C949.9 189.3 948.2 190.5 946.8 190.8C945.3 191.2 942.2 190.9 940.0 190.8C937.7 190.8 935.4 190.4 933.2 190.5C930.9 190.6 928.3 191.0 926.4 191.5C924.4 192.0 923.9 192.5 921.6 193.2C919.3 193.9 914.7 195.8 912.8 195.9C910.8 196.1 909.1 195.0 909.7 194.2Z"/><path class="ib" d="M918.9 192.9C919.2 192.5 921.3 191.7 922.3 191.3C923.4 190.9 924.5 190.9 925.2 190.6C925.9 190.3 925.6 189.8 926.6 189.5C927.7 189.3 929.9 189.2 931.3 189.2C932.7 189.2 933.5 189.4 934.9 189.5C936.3 189.7 939.0 189.8 939.6 190.1C940.2 190.3 939.3 191.0 938.5 191.1C937.7 191.3 936.1 191.2 934.9 191.1C933.7 191.1 932.5 190.9 931.3 191.0C930.1 191.0 928.7 191.3 927.7 191.5C926.7 191.7 926.4 192.0 925.2 192.4C924.0 192.8 921.6 193.8 920.5 193.8C919.5 193.9 918.6 193.4 918.9 192.9Z"/>
<path class="pb" d="M876.6 210.4C877.4 209.5 881.6 208.2 885.0 207.5C888.4 206.8 894.7 206.8 897.0 206.0C899.3 205.2 897.7 203.6 899.0 203.0C900.3 202.4 902.5 202.0 905.0 202.5C907.5 203.0 911.2 204.8 913.7 205.9C916.2 207.0 917.9 208.0 920.0 209.0C922.1 210.0 926.6 211.2 926.3 212.1C926.0 213.0 921.5 214.2 918.0 214.5C914.5 214.8 909.7 214.1 905.0 214.0C900.3 213.9 894.2 214.2 890.0 214.0C885.8 213.8 882.2 213.6 880.0 213.0C877.8 212.4 875.8 211.3 876.6 210.4Z"/><path class="ib" d="M884.6 209.8C885.1 209.2 888.0 208.3 890.3 207.8C892.6 207.3 896.8 207.3 898.4 206.8C900.0 206.3 898.9 205.2 899.8 204.8C900.7 204.4 902.2 204.1 903.9 204.4C905.5 204.7 908.1 206.0 909.8 206.7C911.5 207.5 912.6 208.1 914.1 208.8C915.5 209.5 918.6 210.3 918.3 210.9C918.1 211.6 915.1 212.4 912.7 212.6C910.3 212.8 907.0 212.3 903.9 212.2C900.7 212.2 896.5 212.4 893.7 212.2C890.8 212.1 888.4 212.0 886.9 211.6C885.3 211.2 884.0 210.4 884.6 209.8Z"/><path class="ib" d="M892.5 209.2C892.8 208.9 894.3 208.4 895.5 208.1C896.8 207.9 899.0 207.9 899.8 207.6C900.7 207.3 900.1 206.7 900.6 206.5C901.0 206.3 901.8 206.2 902.7 206.3C903.6 206.5 905.0 207.2 905.9 207.6C906.8 208.0 907.4 208.3 908.1 208.7C908.9 209.1 910.5 209.5 910.4 209.8C910.3 210.1 908.7 210.5 907.4 210.7C906.1 210.8 904.4 210.5 902.7 210.5C901.0 210.4 898.8 210.5 897.3 210.5C895.8 210.4 894.5 210.3 893.7 210.1C892.9 209.9 892.2 209.5 892.5 209.2Z"/>
<path class="pb" d="M890.0 214.0C893.8 213.0 906.2 211.7 912.0 213.0C917.8 214.3 920.8 219.3 925.0 222.0C929.2 224.7 938.7 227.5 937.0 229.0C935.3 230.5 921.5 230.9 915.0 231.0C908.5 231.1 902.5 230.3 898.0 229.5C893.5 228.7 889.5 227.8 888.0 226.0C886.5 224.2 888.7 221.0 889.0 219.0C889.3 217.0 886.2 215.0 890.0 214.0Z"/><path class="ib" d="M897.2 216.6C899.8 215.9 908.2 215.0 912.2 215.9C916.1 216.8 918.2 220.2 921.0 222.0C923.8 223.8 930.3 225.7 929.2 226.8C928.0 227.8 918.6 228.1 914.2 228.1C909.8 228.2 905.7 227.7 902.6 227.1C899.6 226.5 896.9 225.9 895.8 224.7C894.8 223.5 896.3 221.3 896.5 220.0C896.7 218.6 894.6 217.2 897.2 216.6Z"/><path class="ib" d="M904.4 219.1C905.8 218.8 910.2 218.3 912.3 218.8C914.4 219.2 915.5 221.0 917.0 222.0C918.5 223.0 921.9 224.0 921.3 224.5C920.7 225.1 915.7 225.2 913.4 225.2C911.1 225.3 908.9 225.0 907.3 224.7C905.7 224.4 904.2 224.1 903.7 223.4C903.1 222.8 903.9 221.6 904.0 220.9C904.2 220.2 903.0 219.5 904.4 219.1Z"/>
<path class="pb" d="M873.1 234.4C873.9 233.5 878.9 231.7 882.0 230.5C885.1 229.3 888.7 228.2 892.0 227.5C895.3 226.8 898.2 226.1 902.0 226.0C905.8 225.9 910.7 226.7 915.0 227.0C919.3 227.3 924.3 227.1 928.0 228.0C931.7 228.9 936.8 231.4 937.1 232.7C937.4 233.9 933.7 234.9 930.0 235.5C926.3 236.1 920.0 236.5 915.0 236.5C910.0 236.5 905.0 235.5 900.0 235.5C895.0 235.5 888.8 236.4 885.0 236.5C881.2 236.6 879.0 236.3 877.0 236.0C875.0 235.7 872.3 235.3 873.1 234.4Z"/><path class="ib" d="M883.3 233.4C883.9 232.8 887.2 231.5 889.4 230.7C891.5 230.0 893.9 229.2 896.2 228.7C898.5 228.2 900.4 227.7 903.0 227.7C905.6 227.6 908.9 228.1 911.8 228.4C914.8 228.6 918.2 228.4 920.7 229.0C923.2 229.7 926.6 231.4 926.9 232.2C927.1 233.1 924.5 233.7 922.0 234.1C919.5 234.6 915.2 234.8 911.8 234.8C908.4 234.8 905.0 234.1 901.6 234.1C898.2 234.1 894.0 234.8 891.4 234.8C888.8 234.9 887.3 234.7 886.0 234.5C884.6 234.2 882.8 234.0 883.3 233.4Z"/><path class="ib" d="M893.6 232.4C893.9 232.1 895.6 231.4 896.8 231.0C897.9 230.6 899.2 230.2 900.4 229.9C901.6 229.6 902.6 229.4 904.0 229.4C905.4 229.3 907.1 229.6 908.7 229.7C910.2 229.8 912.0 229.7 913.3 230.1C914.7 230.4 916.5 231.3 916.6 231.8C916.7 232.2 915.4 232.6 914.1 232.8C912.7 233.0 910.5 233.1 908.7 233.1C906.9 233.1 905.1 232.8 903.3 232.8C901.5 232.8 899.2 233.1 897.9 233.1C896.5 233.2 895.7 233.1 895.0 233.0C894.3 232.8 893.3 232.7 893.6 232.4Z"/>
<ellipse class="pb" cx="882.3" cy="221.0" rx="5.5" ry="5.0"/><ellipse class="ib" cx="882.3" cy="221.0" rx="3.7" ry="3.4"/><ellipse class="ib" cx="882.3" cy="221.0" rx="2.0" ry="1.8"/>
<ellipse class="pb" cx="889.3" cy="240.6" rx="5.0" ry="4.0"/><ellipse class="ib" cx="889.3" cy="240.6" rx="3.4" ry="2.7"/><ellipse class="ib" cx="889.3" cy="240.6" rx="1.8" ry="1.4"/>
<ellipse class="pb" cx="931.4" cy="208.7" rx="4.5" ry="4.0"/><ellipse class="ib" cx="931.4" cy="208.7" rx="3.1" ry="2.7"/><ellipse class="ib" cx="931.4" cy="208.7" rx="1.6" ry="1.4"/>
<ellipse class="pb" cx="946.6" cy="209.5" rx="7.7" ry="3.1"/><ellipse class="ib" cx="946.6" cy="209.5" rx="5.2" ry="2.1"/><ellipse class="ib" cx="946.6" cy="209.5" rx="2.8" ry="1.1"/>
<ellipse class="pb" cx="970.9" cy="224.7" rx="6.3" ry="3.4"/><ellipse class="ib" cx="970.9" cy="224.7" rx="4.3" ry="2.3"/><ellipse class="ib" cx="970.9" cy="224.7" rx="2.3" ry="1.2"/>
<ellipse class="ol" cx="940.0" cy="223.6" rx="2.5" ry="2.5"/>
<path class="base" d="M871.0 267.0C871.8 265.8 876.0 264.5 880.0 263.5C884.0 262.5 890.8 261.8 895.0 261.0C899.2 260.2 902.0 259.8 905.0 259.0C908.0 258.2 910.7 257.2 913.0 256.0C915.3 254.8 916.1 252.4 918.6 251.5C921.1 250.6 924.5 250.2 928.0 250.5C931.5 250.8 938.5 251.8 939.7 253.0C940.9 254.2 937.0 256.5 935.0 258.0C933.0 259.5 929.3 260.0 928.0 262.0C926.7 264.0 926.9 267.4 927.0 270.0C927.1 272.6 929.2 275.9 928.9 277.7C928.6 279.5 925.3 279.6 925.0 281.0C924.7 282.4 928.1 284.5 927.3 286.0C926.5 287.5 920.0 288.2 920.0 290.0C920.0 291.8 928.1 295.5 927.3 297.0C926.4 298.5 917.1 297.9 914.9 299.1C912.6 300.3 916.1 302.8 913.8 304.4C911.5 306.0 905.4 308.2 901.2 308.6C897.0 309.0 892.4 308.7 888.7 307.0C885.0 305.3 881.1 300.9 879.2 298.6C877.3 296.3 878.6 295.0 877.1 293.4C875.6 291.8 872.7 290.4 870.0 289.0C867.3 287.6 862.5 287.2 861.0 285.0C859.5 282.8 859.8 278.2 861.0 276.0C862.2 273.8 865.7 272.8 868.0 272.0C870.3 271.2 874.5 271.8 875.0 271.0C875.5 270.2 870.2 268.2 871.0 267.0Z"/>
<path class="bd" d="M891.2 251.5C891.7 250.0 891.9 247.1 895.0 246.0C898.1 244.9 905.8 244.4 910.0 244.7C914.2 245.0 919.5 246.6 920.5 248.0C921.5 249.4 917.4 251.5 916.0 253.0C914.6 254.5 914.7 256.2 912.0 257.0C909.3 257.8 903.3 258.1 900.0 257.8C896.7 257.5 893.5 256.1 892.0 255.0C890.5 253.9 890.7 253.0 891.2 251.5Z"/><path class="ib" d="M896.2 251.4C896.5 250.4 896.6 248.5 898.7 247.8C900.8 247.0 905.8 246.7 908.6 246.9C911.4 247.1 914.9 248.2 915.5 249.1C916.2 250.0 913.5 251.4 912.5 252.4C911.6 253.4 911.7 254.5 909.9 255.0C908.1 255.6 904.2 255.8 902.0 255.6C899.8 255.4 897.7 254.4 896.7 253.7C895.7 253.0 895.9 252.4 896.2 251.4Z"/>
<path class="bd" d="M909.5 268.0C910.5 265.7 913.2 260.9 915.8 258.0C918.4 255.1 921.1 251.6 925.0 250.5C928.9 249.4 936.3 251.0 938.9 251.5C941.5 252.0 941.5 252.5 940.4 253.6C939.2 254.7 934.1 256.1 932.0 258.0C929.9 259.9 928.8 261.7 928.0 265.0C927.2 268.3 929.0 275.9 927.3 277.7C925.6 279.5 920.9 276.9 918.0 276.0C915.1 275.1 911.4 273.3 910.0 272.0C908.6 270.7 908.5 270.3 909.5 268.0Z"/><path class="ib" d="M914.8 266.7C915.4 265.1 917.2 262.0 918.9 260.1C920.6 258.1 922.4 255.8 925.0 255.1C927.5 254.4 932.5 255.4 934.2 255.8C935.9 256.1 935.9 256.5 935.1 257.2C934.4 257.9 931.0 258.8 929.6 260.1C928.2 261.3 927.5 262.5 927.0 264.7C926.4 266.9 927.6 271.9 926.5 273.1C925.4 274.3 922.3 272.6 920.4 272.0C918.5 271.3 916.0 270.2 915.1 269.3C914.1 268.4 914.1 268.2 914.8 266.7Z"/>
<path class="bd" d="M870.7 267.3C871.5 266.2 875.1 264.7 880.0 263.6C884.9 262.5 895.0 261.3 900.0 260.5C905.0 259.7 907.8 258.8 910.0 259.0C912.2 259.2 914.7 260.5 913.0 262.0C911.3 263.5 904.7 266.5 900.0 268.0C895.3 269.5 889.2 270.6 885.0 271.0C880.8 271.4 877.4 271.1 875.0 270.5C872.6 269.9 869.9 268.4 870.7 267.3Z"/><path class="ib" d="M877.9 266.5C878.4 265.8 880.8 264.8 884.0 264.1C887.3 263.3 893.9 262.5 897.2 262.0C900.5 261.5 902.4 260.9 903.8 261.0C905.3 261.2 906.9 262.0 905.8 263.0C904.7 264.0 900.3 266.0 897.2 267.0C894.1 268.0 890.1 268.7 887.3 269.0C884.6 269.2 882.3 269.0 880.7 268.6C879.2 268.2 877.3 267.3 877.9 266.5Z"/>
<path class="bd" d="M860.8 276.0C861.7 274.4 863.1 273.1 866.0 272.5C868.9 271.9 875.5 271.6 878.0 272.5C880.5 273.4 880.2 275.8 880.7 278.0C881.2 280.2 881.8 284.3 880.7 286.0C879.6 287.7 876.8 288.1 874.0 288.2C871.2 288.3 866.2 287.5 864.0 286.5C861.8 285.5 861.3 283.8 860.8 282.0C860.3 280.2 859.9 277.6 860.8 276.0Z"/><path class="ib" d="M864.2 277.5C864.8 276.4 865.7 275.6 867.6 275.2C869.5 274.8 873.9 274.6 875.5 275.2C877.2 275.8 877.0 277.3 877.3 278.8C877.6 280.3 878.1 283.0 877.3 284.1C876.6 285.2 874.7 285.5 872.9 285.5C871.1 285.6 867.7 285.1 866.3 284.4C864.8 283.7 864.5 282.6 864.2 281.4C863.8 280.3 863.6 278.5 864.2 277.5Z"/>
<path class="bd" d="M881.2 284.0C882.2 282.6 885.2 281.2 890.0 280.5C894.8 279.8 903.8 279.2 910.0 279.5C916.2 279.8 924.4 280.9 927.3 282.0C930.2 283.1 929.3 284.8 927.3 286.1C925.2 287.4 920.4 289.2 915.0 290.0C909.6 290.8 900.2 291.2 895.0 291.0C889.8 290.8 886.3 290.2 884.0 289.0C881.7 287.8 880.2 285.4 881.2 284.0Z"/><path class="ib" d="M889.0 284.4C889.7 283.5 891.7 282.6 894.8 282.1C898.0 281.6 903.9 281.3 908.0 281.5C912.1 281.6 917.6 282.4 919.5 283.1C921.4 283.8 920.8 284.9 919.5 285.8C918.1 286.7 914.9 287.8 911.3 288.4C907.8 288.9 901.6 289.2 898.1 289.0C894.7 288.9 892.4 288.5 890.9 287.7C889.4 287.0 888.4 285.4 889.0 284.4Z"/>
<path class="bd" d="M877.0 294.0C878.7 292.7 884.5 290.7 890.0 290.0C895.5 289.3 903.8 289.3 910.0 290.0C916.2 290.7 924.4 292.8 927.3 294.0C930.2 295.2 929.8 296.0 927.3 297.0C924.8 298.0 918.2 299.5 912.0 300.0C905.8 300.5 895.3 300.3 890.0 300.0C884.7 299.7 882.2 299.0 880.0 298.0C877.8 297.0 875.3 295.3 877.0 294.0Z"/><path class="ib" d="M885.6 294.3C886.7 293.5 890.5 292.1 894.1 291.7C897.8 291.3 903.2 291.3 907.3 291.7C911.4 292.1 916.8 293.6 918.7 294.3C920.7 295.1 920.4 295.7 918.7 296.3C917.1 297.0 912.8 298.0 908.7 298.3C904.5 298.6 897.7 298.5 894.1 298.3C890.6 298.1 889.0 297.6 887.5 297.0C886.1 296.3 884.5 295.2 885.6 294.3Z"/>
<path class="bd" d="M877.0 300.0C878.7 299.0 884.5 297.5 890.0 297.0C895.5 296.5 905.9 296.6 910.0 297.0C914.1 297.4 914.3 297.9 914.9 299.1C915.5 300.3 916.1 302.8 913.8 304.4C911.5 306.0 905.4 308.2 901.2 308.6C897.0 309.0 892.2 307.9 888.7 307.0C885.2 306.1 882.0 304.2 880.0 303.0C878.0 301.8 875.3 301.0 877.0 300.0Z"/><path class="ib" d="M883.4 301.0C884.5 300.3 888.4 299.3 892.0 299.0C895.7 298.6 902.5 298.7 905.2 299.0C908.0 299.2 908.0 299.5 908.5 300.4C908.9 301.2 909.2 302.8 907.7 303.9C906.2 304.9 902.2 306.3 899.4 306.6C896.7 306.9 893.5 306.2 891.2 305.6C888.8 305.0 886.7 303.7 885.4 302.9C884.1 302.2 882.3 301.6 883.4 301.0Z"/>
<ellipse class="hole" cx="892.3" cy="276.1" rx="11.8" ry="4.5"/>
<path class="pb" d="M870.0 325.5C870.8 324.0 877.5 321.4 880.0 320.0C882.5 318.6 882.5 317.7 885.0 317.0C887.5 316.3 892.0 315.5 895.0 316.0C898.0 316.5 901.5 318.2 903.0 320.0C904.5 321.8 904.5 325.0 904.0 327.0C903.5 329.0 902.3 330.6 900.0 332.0C897.7 333.4 893.0 334.7 890.0 335.5C887.0 336.3 883.7 337.6 882.0 337.0C880.3 336.4 881.2 333.3 880.0 332.0C878.8 330.7 876.7 330.1 875.0 329.0C873.3 327.9 869.2 327.0 870.0 325.5Z"/><path class="ib" d="M875.4 325.8C876.0 324.8 880.5 323.0 882.2 322.1C883.9 321.1 883.9 320.5 885.6 320.0C887.3 319.6 890.4 319.0 892.4 319.4C894.5 319.7 896.9 320.8 897.9 322.1C898.9 323.3 898.9 325.5 898.6 326.8C898.2 328.2 897.4 329.3 895.8 330.2C894.3 331.2 891.1 332.1 889.0 332.6C887.0 333.2 884.7 334.0 883.6 333.6C882.5 333.2 883.0 331.1 882.2 330.2C881.4 329.3 880.0 328.9 878.8 328.2C877.7 327.5 874.9 326.8 875.4 325.8Z"/><path class="ib" d="M880.9 326.1C881.2 325.6 883.6 324.7 884.5 324.2C885.4 323.7 885.4 323.3 886.3 323.1C887.2 322.8 888.8 322.5 889.9 322.7C891.0 322.9 892.2 323.5 892.8 324.2C893.3 324.8 893.3 326.0 893.1 326.7C892.9 327.4 892.5 328.0 891.7 328.5C890.8 329.0 889.2 329.4 888.1 329.7C887.0 330.0 885.8 330.5 885.2 330.3C884.6 330.1 884.9 329.0 884.5 328.5C884.1 328.0 883.3 327.8 882.7 327.4C882.1 327.0 880.6 326.7 880.9 326.1Z"/>
<ellipse class="pb" cx="848.6" cy="328.2" rx="5.0" ry="3.9"/><ellipse class="ib" cx="848.6" cy="328.2" rx="3.4" ry="2.7"/><ellipse class="ib" cx="848.6" cy="328.2" rx="1.8" ry="1.4"/>
<ellipse class="pbl" cx="837.9" cy="337.9" rx="1.5" ry="1.5"/>
<ellipse class="pbl" cx="956.3" cy="294.3" rx="1.0" ry="1.0"/>
<ellipse class="pbl" cx="961.0" cy="302.4" rx="1.0" ry="1.0"/>
<rect x="56.3" y="453.6" width="232.9" height="165.2" fill="none" stroke="#4a4a4a" stroke-width="1.2"/>
<rect x="295.9" y="453.6" width="372.2" height="165.2" fill="none" stroke="#4a4a4a" stroke-width="1.2"/>
<rect x="674.7" y="453.6" width="343.7" height="166.6" fill="none" stroke="#4a4a4a" stroke-width="1.2"/>
<line x1="54.10" y1="461.10" x2="56.30" y2="461.10" stroke="#4a4a4a" stroke-width="1.1"/>
<line x1="52.00" y1="468.60" x2="56.30" y2="468.60" stroke="#4a4a4a" stroke-width="1.2"/>
<line x1="54.10" y1="476.10" x2="56.30" y2="476.10" stroke="#4a4a4a" stroke-width="1.1"/>
<line x1="54.10" y1="483.60" x2="56.30" y2="483.60" stroke="#4a4a4a" stroke-width="1.1"/>
<line x1="54.10" y1="491.10" x2="56.30" y2="491.10" stroke="#4a4a4a" stroke-width="1.1"/>
<line x1="52.00" y1="498.60" x2="56.30" y2="498.60" stroke="#4a4a4a" stroke-width="1.2"/>
<line x1="54.10" y1="506.10" x2="56.30" y2="506.10" stroke="#4a4a4a" stroke-width="1.1"/>
<line x1="54.10" y1="513.60" x2="56.30" y2="513.60" stroke="#4a4a4a" stroke-width="1.1"/>
<line x1="54.10" y1="521.10" x2="56.30" y2="521.10" stroke="#4a4a4a" stroke-width="1.1"/>
<line x1="52.00" y1="528.60" x2="56.30" y2="528.60" stroke="#4a4a4a" stroke-width="1.2"/>
<line x1="54.10" y1="536.10" x2="56.30" y2="536.10" stroke="#4a4a4a" stroke-width="1.1"/>
<line x1="54.10" y1="543.60" x2="56.30" y2="543.60" stroke="#4a4a4a" stroke-width="1.1"/>
<line x1="54.10" y1="551.10" x2="56.30" y2="551.10" stroke="#4a4a4a" stroke-width="1.1"/>
<line x1="52.00" y1="558.60" x2="56.30" y2="558.60" stroke="#4a4a4a" stroke-width="1.2"/>
<line x1="54.10" y1="566.10" x2="56.30" y2="566.10" stroke="#4a4a4a" stroke-width="1.1"/>
<line x1="54.10" y1="573.60" x2="56.30" y2="573.60" stroke="#4a4a4a" stroke-width="1.1"/>
<line x1="54.10" y1="581.10" x2="56.30" y2="581.10" stroke="#4a4a4a" stroke-width="1.1"/>
<line x1="52.00" y1="588.60" x2="56.30" y2="588.60" stroke="#4a4a4a" stroke-width="1.2"/>
<line x1="54.10" y1="596.10" x2="56.30" y2="596.10" stroke="#4a4a4a" stroke-width="1.1"/>
<line x1="54.10" y1="603.60" x2="56.30" y2="603.60" stroke="#4a4a4a" stroke-width="1.1"/>
<line x1="54.10" y1="611.10" x2="56.30" y2="611.10" stroke="#4a4a4a" stroke-width="1.1"/>
<line x1="52.00" y1="618.60" x2="56.30" y2="618.60" stroke="#4a4a4a" stroke-width="1.2"/>
<text x="46.8" y="472.9" font-size="12" text-anchor="end" stroke="#1a1a1a" stroke-width="0.35">4</text>
<text x="46.8" y="502.9" font-size="12" text-anchor="end" stroke="#1a1a1a" stroke-width="0.35">6</text>
<text x="46.8" y="532.9" font-size="12" text-anchor="end" stroke="#1a1a1a" stroke-width="0.35">8</text>
<text x="46.8" y="562.9" font-size="12" text-anchor="end" stroke="#1a1a1a" stroke-width="0.35">10</text>
<text x="46.8" y="592.9" font-size="12" text-anchor="end" stroke="#1a1a1a" stroke-width="0.35">12</text>
<line x1="55.90" y1="618.80" x2="55.90" y2="620.80" stroke="#4a4a4a" stroke-width="1.1"/>
<line x1="63.40" y1="618.80" x2="63.40" y2="622.80" stroke="#4a4a4a" stroke-width="1.2"/>
<line x1="70.90" y1="618.80" x2="70.90" y2="620.80" stroke="#4a4a4a" stroke-width="1.1"/>
<line x1="78.40" y1="618.80" x2="78.40" y2="620.80" stroke="#4a4a4a" stroke-width="1.1"/>
<line x1="85.90" y1="618.80" x2="85.90" y2="620.80" stroke="#4a4a4a" stroke-width="1.1"/>
<line x1="93.40" y1="618.80" x2="93.40" y2="622.80" stroke="#4a4a4a" stroke-width="1.2"/>
<line x1="100.90" y1="618.80" x2="100.90" y2="620.80" stroke="#4a4a4a" stroke-width="1.1"/>
<line x1="108.40" y1="618.80" x2="108.40" y2="620.80" stroke="#4a4a4a" stroke-width="1.1"/>
<line x1="115.90" y1="618.80" x2="115.90" y2="620.80" stroke="#4a4a4a" stroke-width="1.1"/>
<line x1="123.40" y1="618.80" x2="123.40" y2="622.80" stroke="#4a4a4a" stroke-width="1.2"/>
<line x1="130.90" y1="618.80" x2="130.90" y2="620.80" stroke="#4a4a4a" stroke-width="1.1"/>
<line x1="138.40" y1="618.80" x2="138.40" y2="620.80" stroke="#4a4a4a" stroke-width="1.1"/>
<line x1="145.90" y1="618.80" x2="145.90" y2="620.80" stroke="#4a4a4a" stroke-width="1.1"/>
<line x1="153.40" y1="618.80" x2="153.40" y2="622.80" stroke="#4a4a4a" stroke-width="1.2"/>
<line x1="160.90" y1="618.80" x2="160.90" y2="620.80" stroke="#4a4a4a" stroke-width="1.1"/>
<line x1="168.40" y1="618.80" x2="168.40" y2="620.80" stroke="#4a4a4a" stroke-width="1.1"/>
<line x1="175.90" y1="618.80" x2="175.90" y2="620.80" stroke="#4a4a4a" stroke-width="1.1"/>
<line x1="183.40" y1="618.80" x2="183.40" y2="622.80" stroke="#4a4a4a" stroke-width="1.2"/>
<line x1="190.90" y1="618.80" x2="190.90" y2="620.80" stroke="#4a4a4a" stroke-width="1.1"/>
<line x1="198.40" y1="618.80" x2="198.40" y2="620.80" stroke="#4a4a4a" stroke-width="1.1"/>
<line x1="205.90" y1="618.80" x2="205.90" y2="620.80" stroke="#4a4a4a" stroke-width="1.1"/>
<line x1="213.40" y1="618.80" x2="213.40" y2="622.80" stroke="#4a4a4a" stroke-width="1.2"/>
<line x1="220.90" y1="618.80" x2="220.90" y2="620.80" stroke="#4a4a4a" stroke-width="1.1"/>
<line x1="228.40" y1="618.80" x2="228.40" y2="620.80" stroke="#4a4a4a" stroke-width="1.1"/>
<line x1="235.90" y1="618.80" x2="235.90" y2="620.80" stroke="#4a4a4a" stroke-width="1.1"/>
<line x1="243.40" y1="618.80" x2="243.40" y2="622.80" stroke="#4a4a4a" stroke-width="1.2"/>
<line x1="250.90" y1="618.80" x2="250.90" y2="620.80" stroke="#4a4a4a" stroke-width="1.1"/>
<line x1="258.40" y1="618.80" x2="258.40" y2="620.80" stroke="#4a4a4a" stroke-width="1.1"/>
<line x1="265.90" y1="618.80" x2="265.90" y2="620.80" stroke="#4a4a4a" stroke-width="1.1"/>
<line x1="273.40" y1="618.80" x2="273.40" y2="622.80" stroke="#4a4a4a" stroke-width="1.2"/>
<line x1="280.90" y1="618.80" x2="280.90" y2="620.80" stroke="#4a4a4a" stroke-width="1.1"/>
<line x1="288.40" y1="618.80" x2="288.40" y2="620.80" stroke="#4a4a4a" stroke-width="1.1"/>
<text x="63.4" y="638.5" font-size="12" text-anchor="middle" textLength="18.0" lengthAdjust="spacingAndGlyphs" stroke="#1a1a1a" stroke-width="0.35">184</text>
<text x="93.4" y="638.5" font-size="12" text-anchor="middle" textLength="18.0" lengthAdjust="spacingAndGlyphs" stroke="#1a1a1a" stroke-width="0.35">182</text>
<text x="123.4" y="638.5" font-size="12" text-anchor="middle" textLength="18.0" lengthAdjust="spacingAndGlyphs" stroke="#1a1a1a" stroke-width="0.35">180</text>
<text x="153.4" y="638.5" font-size="12" text-anchor="middle" textLength="18.0" lengthAdjust="spacingAndGlyphs" stroke="#1a1a1a" stroke-width="0.35">178</text>
<text x="183.4" y="638.5" font-size="12" text-anchor="middle" textLength="18.0" lengthAdjust="spacingAndGlyphs" stroke="#1a1a1a" stroke-width="0.35">176</text>
<text x="213.4" y="638.5" font-size="12" text-anchor="middle" textLength="18.0" lengthAdjust="spacingAndGlyphs" stroke="#1a1a1a" stroke-width="0.35">174</text>
<text x="243.4" y="638.5" font-size="12" text-anchor="middle" textLength="18.0" lengthAdjust="spacingAndGlyphs" stroke="#1a1a1a" stroke-width="0.35">172</text>
<text x="273.4" y="638.5" font-size="12" text-anchor="middle" textLength="18.0" lengthAdjust="spacingAndGlyphs" stroke="#1a1a1a" stroke-width="0.35">170</text>
<line x1="298.50" y1="618.80" x2="298.50" y2="622.80" stroke="#4a4a4a" stroke-width="1.2"/>
<line x1="306.02" y1="618.80" x2="306.02" y2="620.80" stroke="#4a4a4a" stroke-width="1.1"/>
<line x1="313.55" y1="618.80" x2="313.55" y2="620.80" stroke="#4a4a4a" stroke-width="1.1"/>
<line x1="321.07" y1="618.80" x2="321.07" y2="620.80" stroke="#4a4a4a" stroke-width="1.1"/>
<line x1="328.60" y1="618.80" x2="328.60" y2="622.80" stroke="#4a4a4a" stroke-width="1.2"/>
<line x1="336.12" y1="618.80" x2="336.12" y2="620.80" stroke="#4a4a4a" stroke-width="1.1"/>
<line x1="343.65" y1="618.80" x2="343.65" y2="620.80" stroke="#4a4a4a" stroke-width="1.1"/>
<line x1="351.18" y1="618.80" x2="351.18" y2="620.80" stroke="#4a4a4a" stroke-width="1.1"/>
<line x1="358.70" y1="618.80" x2="358.70" y2="622.80" stroke="#4a4a4a" stroke-width="1.2"/>
<line x1="366.23" y1="618.80" x2="366.23" y2="620.80" stroke="#4a4a4a" stroke-width="1.1"/>
<line x1="373.75" y1="618.80" x2="373.75" y2="620.80" stroke="#4a4a4a" stroke-width="1.1"/>
<line x1="381.27" y1="618.80" x2="381.27" y2="620.80" stroke="#4a4a4a" stroke-width="1.1"/>
<line x1="388.80" y1="618.80" x2="388.80" y2="622.80" stroke="#4a4a4a" stroke-width="1.2"/>
<line x1="396.32" y1="618.80" x2="396.32" y2="620.80" stroke="#4a4a4a" stroke-width="1.1"/>
<line x1="403.85" y1="618.80" x2="403.85" y2="620.80" stroke="#4a4a4a" stroke-width="1.1"/>
<line x1="411.38" y1="618.80" x2="411.38" y2="620.80" stroke="#4a4a4a" stroke-width="1.1"/>
<line x1="418.90" y1="618.80" x2="418.90" y2="622.80" stroke="#4a4a4a" stroke-width="1.2"/>
<line x1="426.43" y1="618.80" x2="426.43" y2="620.80" stroke="#4a4a4a" stroke-width="1.1"/>
<line x1="433.95" y1="618.80" x2="433.95" y2="620.80" stroke="#4a4a4a" stroke-width="1.1"/>
<line x1="441.48" y1="618.80" x2="441.48" y2="620.80" stroke="#4a4a4a" stroke-width="1.1"/>
<line x1="449.00" y1="618.80" x2="449.00" y2="622.80" stroke="#4a4a4a" stroke-width="1.2"/>
<line x1="456.52" y1="618.80" x2="456.52" y2="620.80" stroke="#4a4a4a" stroke-width="1.1"/>
<line x1="464.05" y1="618.80" x2="464.05" y2="620.80" stroke="#4a4a4a" stroke-width="1.1"/>
<line x1="471.58" y1="618.80" x2="471.58" y2="620.80" stroke="#4a4a4a" stroke-width="1.1"/>
<line x1="479.10" y1="618.80" x2="479.10" y2="622.80" stroke="#4a4a4a" stroke-width="1.2"/>
<line x1="486.62" y1="618.80" x2="486.62" y2="620.80" stroke="#4a4a4a" stroke-width="1.1"/>
<line x1="494.15" y1="618.80" x2="494.15" y2="620.80" stroke="#4a4a4a" stroke-width="1.1"/>
<line x1="501.68" y1="618.80" x2="501.68" y2="620.80" stroke="#4a4a4a" stroke-width="1.1"/>
<line x1="509.20" y1="618.80" x2="509.20" y2="622.80" stroke="#4a4a4a" stroke-width="1.2"/>
<line x1="516.73" y1="618.80" x2="516.73" y2="620.80" stroke="#4a4a4a" stroke-width="1.1"/>
<line x1="524.25" y1="618.80" x2="524.25" y2="620.80" stroke="#4a4a4a" stroke-width="1.1"/>
<line x1="531.77" y1="618.80" x2="531.77" y2="620.80" stroke="#4a4a4a" stroke-width="1.1"/>
<line x1="539.30" y1="618.80" x2="539.30" y2="622.80" stroke="#4a4a4a" stroke-width="1.2"/>
<line x1="546.83" y1="618.80" x2="546.83" y2="620.80" stroke="#4a4a4a" stroke-width="1.1"/>
<line x1="554.35" y1="618.80" x2="554.35" y2="620.80" stroke="#4a4a4a" stroke-width="1.1"/>
<line x1="561.88" y1="618.80" x2="561.88" y2="620.80" stroke="#4a4a4a" stroke-width="1.1"/>
<line x1="569.40" y1="618.80" x2="569.40" y2="622.80" stroke="#4a4a4a" stroke-width="1.2"/>
<line x1="576.92" y1="618.80" x2="576.92" y2="620.80" stroke="#4a4a4a" stroke-width="1.1"/>
<line x1="584.45" y1="618.80" x2="584.45" y2="620.80" stroke="#4a4a4a" stroke-width="1.1"/>
<line x1="591.98" y1="618.80" x2="591.98" y2="620.80" stroke="#4a4a4a" stroke-width="1.1"/>
<line x1="599.50" y1="618.80" x2="599.50" y2="622.80" stroke="#4a4a4a" stroke-width="1.2"/>
<line x1="607.03" y1="618.80" x2="607.03" y2="620.80" stroke="#4a4a4a" stroke-width="1.1"/>
<line x1="614.55" y1="618.80" x2="614.55" y2="620.80" stroke="#4a4a4a" stroke-width="1.1"/>
<line x1="622.08" y1="618.80" x2="622.08" y2="620.80" stroke="#4a4a4a" stroke-width="1.1"/>
<line x1="629.60" y1="618.80" x2="629.60" y2="622.80" stroke="#4a4a4a" stroke-width="1.2"/>
<line x1="637.12" y1="618.80" x2="637.12" y2="620.80" stroke="#4a4a4a" stroke-width="1.1"/>
<line x1="644.65" y1="618.80" x2="644.65" y2="620.80" stroke="#4a4a4a" stroke-width="1.1"/>
<line x1="652.17" y1="618.80" x2="652.17" y2="620.80" stroke="#4a4a4a" stroke-width="1.1"/>
<line x1="659.70" y1="618.80" x2="659.70" y2="622.80" stroke="#4a4a4a" stroke-width="1.2"/>
<line x1="667.23" y1="618.80" x2="667.23" y2="620.80" stroke="#4a4a4a" stroke-width="1.1"/>
<text x="298.5" y="638.5" font-size="12" text-anchor="middle" textLength="11.6" lengthAdjust="spacingAndGlyphs" stroke="#1a1a1a" stroke-width="0.35">70</text>
<text x="328.6" y="638.5" font-size="12" text-anchor="middle" textLength="11.6" lengthAdjust="spacingAndGlyphs" stroke="#1a1a1a" stroke-width="0.35">68</text>
<text x="358.7" y="638.5" font-size="12" text-anchor="middle" textLength="11.6" lengthAdjust="spacingAndGlyphs" stroke="#1a1a1a" stroke-width="0.35">66</text>
<text x="388.8" y="638.5" font-size="12" text-anchor="middle" textLength="11.6" lengthAdjust="spacingAndGlyphs" stroke="#1a1a1a" stroke-width="0.35">64</text>
<text x="418.9" y="638.5" font-size="12" text-anchor="middle" textLength="11.6" lengthAdjust="spacingAndGlyphs" stroke="#1a1a1a" stroke-width="0.35">62</text>
<text x="449.0" y="638.5" font-size="12" text-anchor="middle" textLength="11.6" lengthAdjust="spacingAndGlyphs" stroke="#1a1a1a" stroke-width="0.35">60</text>
<text x="479.1" y="638.5" font-size="12" text-anchor="middle" textLength="11.6" lengthAdjust="spacingAndGlyphs" stroke="#1a1a1a" stroke-width="0.35">58</text>
<text x="509.2" y="638.5" font-size="12" text-anchor="middle" textLength="11.6" lengthAdjust="spacingAndGlyphs" stroke="#1a1a1a" stroke-width="0.35">56</text>
<text x="539.3" y="638.5" font-size="12" text-anchor="middle" textLength="11.6" lengthAdjust="spacingAndGlyphs" stroke="#1a1a1a" stroke-width="0.35">54</text>
<text x="569.4" y="638.5" font-size="12" text-anchor="middle" textLength="11.6" lengthAdjust="spacingAndGlyphs" stroke="#1a1a1a" stroke-width="0.35">52</text>
<text x="599.5" y="638.5" font-size="12" text-anchor="middle" textLength="11.6" lengthAdjust="spacingAndGlyphs" stroke="#1a1a1a" stroke-width="0.35">50</text>
<text x="629.6" y="638.5" font-size="12" text-anchor="middle" textLength="11.6" lengthAdjust="spacingAndGlyphs" stroke="#1a1a1a" stroke-width="0.35">48</text>
<text x="659.7" y="638.5" font-size="12" text-anchor="middle" textLength="11.6" lengthAdjust="spacingAndGlyphs" stroke="#1a1a1a" stroke-width="0.35">46</text>
<line x1="677.40" y1="620.20" x2="677.40" y2="624.20" stroke="#4a4a4a" stroke-width="1.2"/>
<line x1="684.92" y1="620.20" x2="684.92" y2="622.20" stroke="#4a4a4a" stroke-width="1.1"/>
<line x1="692.44" y1="620.20" x2="692.44" y2="622.20" stroke="#4a4a4a" stroke-width="1.1"/>
<line x1="699.96" y1="620.20" x2="699.96" y2="622.20" stroke="#4a4a4a" stroke-width="1.1"/>
<line x1="707.48" y1="620.20" x2="707.48" y2="624.20" stroke="#4a4a4a" stroke-width="1.2"/>
<line x1="715.00" y1="620.20" x2="715.00" y2="622.20" stroke="#4a4a4a" stroke-width="1.1"/>
<line x1="722.52" y1="620.20" x2="722.52" y2="622.20" stroke="#4a4a4a" stroke-width="1.1"/>
<line x1="730.04" y1="620.20" x2="730.04" y2="622.20" stroke="#4a4a4a" stroke-width="1.1"/>
<line x1="737.56" y1="620.20" x2="737.56" y2="624.20" stroke="#4a4a4a" stroke-width="1.2"/>
<line x1="745.08" y1="620.20" x2="745.08" y2="622.20" stroke="#4a4a4a" stroke-width="1.1"/>
<line x1="752.60" y1="620.20" x2="752.60" y2="622.20" stroke="#4a4a4a" stroke-width="1.1"/>
<line x1="760.12" y1="620.20" x2="760.12" y2="622.20" stroke="#4a4a4a" stroke-width="1.1"/>
<line x1="767.64" y1="620.20" x2="767.64" y2="624.20" stroke="#4a4a4a" stroke-width="1.2"/>
<line x1="775.16" y1="620.20" x2="775.16" y2="622.20" stroke="#4a4a4a" stroke-width="1.1"/>
<line x1="782.68" y1="620.20" x2="782.68" y2="622.20" stroke="#4a4a4a" stroke-width="1.1"/>
<line x1="790.20" y1="620.20" x2="790.20" y2="622.20" stroke="#4a4a4a" stroke-width="1.1"/>
<line x1="797.72" y1="620.20" x2="797.72" y2="624.20" stroke="#4a4a4a" stroke-width="1.2"/>
<line x1="805.24" y1="620.20" x2="805.24" y2="622.20" stroke="#4a4a4a" stroke-width="1.1"/>
<line x1="812.76" y1="620.20" x2="812.76" y2="622.20" stroke="#4a4a4a" stroke-width="1.1"/>
<line x1="820.28" y1="620.20" x2="820.28" y2="622.20" stroke="#4a4a4a" stroke-width="1.1"/>
<line x1="827.80" y1="620.20" x2="827.80" y2="624.20" stroke="#4a4a4a" stroke-width="1.2"/>
<line x1="835.32" y1="620.20" x2="835.32" y2="622.20" stroke="#4a4a4a" stroke-width="1.1"/>
<line x1="842.84" y1="620.20" x2="842.84" y2="622.20" stroke="#4a4a4a" stroke-width="1.1"/>
<line x1="850.36" y1="620.20" x2="850.36" y2="622.20" stroke="#4a4a4a" stroke-width="1.1"/>
<line x1="857.88" y1="620.20" x2="857.88" y2="624.20" stroke="#4a4a4a" stroke-width="1.2"/>
<line x1="865.40" y1="620.20" x2="865.40" y2="622.20" stroke="#4a4a4a" stroke-width="1.1"/>
<line x1="872.92" y1="620.20" x2="872.92" y2="622.20" stroke="#4a4a4a" stroke-width="1.1"/>
<line x1="880.44" y1="620.20" x2="880.44" y2="622.20" stroke="#4a4a4a" stroke-width="1.1"/>
<line x1="887.96" y1="620.20" x2="887.96" y2="624.20" stroke="#4a4a4a" stroke-width="1.2"/>
<line x1="895.48" y1="620.20" x2="895.48" y2="622.20" stroke="#4a4a4a" stroke-width="1.1"/>
<line x1="903.00" y1="620.20" x2="903.00" y2="622.20" stroke="#4a4a4a" stroke-width="1.1"/>
<line x1="910.52" y1="620.20" x2="910.52" y2="622.20" stroke="#4a4a4a" stroke-width="1.1"/>
<line x1="918.04" y1="620.20" x2="918.04" y2="624.20" stroke="#4a4a4a" stroke-width="1.2"/>
<line x1="925.56" y1="620.20" x2="925.56" y2="622.20" stroke="#4a4a4a" stroke-width="1.1"/>
<line x1="933.08" y1="620.20" x2="933.08" y2="622.20" stroke="#4a4a4a" stroke-width="1.1"/>
<line x1="940.60" y1="620.20" x2="940.60" y2="622.20" stroke="#4a4a4a" stroke-width="1.1"/>
<line x1="948.12" y1="620.20" x2="948.12" y2="624.20" stroke="#4a4a4a" stroke-width="1.2"/>
<line x1="955.64" y1="620.20" x2="955.64" y2="622.20" stroke="#4a4a4a" stroke-width="1.1"/>
<line x1="963.16" y1="620.20" x2="963.16" y2="622.20" stroke="#4a4a4a" stroke-width="1.1"/>
<line x1="970.68" y1="620.20" x2="970.68" y2="622.20" stroke="#4a4a4a" stroke-width="1.1"/>
<line x1="978.20" y1="620.20" x2="978.20" y2="624.20" stroke="#4a4a4a" stroke-width="1.2"/>
<line x1="985.72" y1="620.20" x2="985.72" y2="622.20" stroke="#4a4a4a" stroke-width="1.1"/>
<line x1="993.24" y1="620.20" x2="993.24" y2="622.20" stroke="#4a4a4a" stroke-width="1.1"/>
<line x1="1000.76" y1="620.20" x2="1000.76" y2="622.20" stroke="#4a4a4a" stroke-width="1.1"/>
<line x1="1008.28" y1="620.20" x2="1008.28" y2="624.20" stroke="#4a4a4a" stroke-width="1.2"/>
<line x1="1015.80" y1="620.20" x2="1015.80" y2="622.20" stroke="#4a4a4a" stroke-width="1.1"/>
<text x="677.4" y="638.5" font-size="12" text-anchor="middle" textLength="11.6" lengthAdjust="spacingAndGlyphs" stroke="#1a1a1a" stroke-width="0.35">70</text>
<text x="707.5" y="638.5" font-size="12" text-anchor="middle" textLength="11.6" lengthAdjust="spacingAndGlyphs" stroke="#1a1a1a" stroke-width="0.35">68</text>
<text x="737.6" y="638.5" font-size="12" text-anchor="middle" textLength="11.6" lengthAdjust="spacingAndGlyphs" stroke="#1a1a1a" stroke-width="0.35">66</text>
<text x="767.6" y="638.5" font-size="12" text-anchor="middle" textLength="11.6" lengthAdjust="spacingAndGlyphs" stroke="#1a1a1a" stroke-width="0.35">64</text>
<text x="797.7" y="638.5" font-size="12" text-anchor="middle" textLength="11.6" lengthAdjust="spacingAndGlyphs" stroke="#1a1a1a" stroke-width="0.35">62</text>
<text x="827.8" y="638.5" font-size="12" text-anchor="middle" textLength="11.6" lengthAdjust="spacingAndGlyphs" stroke="#1a1a1a" stroke-width="0.35">60</text>
<text x="857.9" y="638.5" font-size="12" text-anchor="middle" textLength="11.6" lengthAdjust="spacingAndGlyphs" stroke="#1a1a1a" stroke-width="0.35">58</text>
<text x="888.0" y="638.5" font-size="12" text-anchor="middle" textLength="11.6" lengthAdjust="spacingAndGlyphs" stroke="#1a1a1a" stroke-width="0.35">56</text>
<text x="918.0" y="638.5" font-size="12" text-anchor="middle" textLength="11.6" lengthAdjust="spacingAndGlyphs" stroke="#1a1a1a" stroke-width="0.35">54</text>
<text x="948.1" y="638.5" font-size="12" text-anchor="middle" textLength="11.6" lengthAdjust="spacingAndGlyphs" stroke="#1a1a1a" stroke-width="0.35">52</text>
<text x="978.2" y="638.5" font-size="12" text-anchor="middle" textLength="11.6" lengthAdjust="spacingAndGlyphs" stroke="#1a1a1a" stroke-width="0.35">50</text>
<text x="1008.3" y="638.5" font-size="12" text-anchor="middle" textLength="11.6" lengthAdjust="spacingAndGlyphs" stroke="#1a1a1a" stroke-width="0.35">48</text>
<line x1="243.0" y1="536.4" x2="971.0" y2="536.4" stroke="#6a6a6a" stroke-width="1.6" stroke-dasharray="5.6 3.2" stroke-dashoffset="0"/>
<line x1="243.0" y1="538.2" x2="798.0" y2="538.2" stroke="#6a6a6a" stroke-width="1.6" stroke-dasharray="5.6 3.2" stroke-dashoffset="4.4"/>
<line x1="203.7" y1="546.8" x2="800.0" y2="546.8" stroke="#6a6a6a" stroke-width="1.6" stroke-dasharray="5.6 3.2" stroke-dashoffset="0"/>
<line x1="230.0" y1="549.5" x2="927.5" y2="549.5" stroke="#6a6a6a" stroke-width="1.6" stroke-dasharray="5.6 3.2" stroke-dashoffset="0"/>
<line x1="246.5" y1="555.7" x2="886.0" y2="555.7" stroke="#6a6a6a" stroke-width="1.6" stroke-dasharray="5.6 3.2" stroke-dashoffset="0"/>
<line x1="208.30" y1="525.70" x2="231.40" y2="535.10" stroke="#1a1a1a" stroke-width="1.1"/>
<line x1="249.40" y1="524.00" x2="238.30" y2="536.00" stroke="#1a1a1a" stroke-width="1.1"/>
<line x1="160.00" y1="544.00" x2="186.00" y2="545.50" stroke="#1a1a1a" stroke-width="1.1"/>
<line x1="195.40" y1="566.00" x2="220.30" y2="551.40" stroke="#1a1a1a" stroke-width="1.1"/>
<line x1="242.60" y1="555.70" x2="243.80" y2="576.30" stroke="#1a1a1a" stroke-width="1.1"/>
<line x1="408.90" y1="513.10" x2="415.40" y2="535.00" stroke="#1a1a1a" stroke-width="1.1"/>
<line x1="356.90" y1="527.40" x2="375.00" y2="553.10" stroke="#1a1a1a" stroke-width="1.1"/>
<line x1="485.50" y1="526.40" x2="475.00" y2="536.00" stroke="#1a1a1a" stroke-width="1.1"/>
<line x1="410.20" y1="574.00" x2="424.50" y2="546.40" stroke="#1a1a1a" stroke-width="1.1"/>
<line x1="463.60" y1="576.90" x2="441.70" y2="551.20" stroke="#1a1a1a" stroke-width="1.1"/>
<line x1="766.00" y1="524.00" x2="796.00" y2="536.90" stroke="#1a1a1a" stroke-width="1.1"/>
<line x1="829.00" y1="575.00" x2="811.00" y2="548.00" stroke="#1a1a1a" stroke-width="1.1"/>
<line x1="876.00" y1="523.00" x2="889.00" y2="551.00" stroke="#1a1a1a" stroke-width="1.1"/>
<line x1="969.00" y1="521.00" x2="975.60" y2="533.00" stroke="#1a1a1a" stroke-width="1.1"/>
<line x1="947.00" y1="585.00" x2="934.40" y2="555.00" stroke="#1a1a1a" stroke-width="1.1"/>
<path class="pu" d="M227.5 537.0C227.8 536.0 228.6 534.3 230.0 533.5C231.4 532.7 234.2 532.2 236.0 532.0C237.8 531.8 239.8 531.9 241.0 532.5C242.2 533.1 243.1 534.3 243.3 535.5C243.6 536.7 243.4 538.5 242.5 539.5C241.6 540.5 239.9 541.2 238.0 541.5C236.1 541.8 232.7 541.6 231.0 541.3C229.3 541.0 228.6 540.2 228.0 539.5C227.4 538.8 227.2 538.0 227.5 537.0Z"/>
<ellipse class="pul" cx="235.5" cy="536.8" rx="3.5" ry="1.6"/>
<path class="pu" d="M186.0 546.5C186.2 545.3 187.5 543.4 189.0 542.5C190.5 541.6 193.0 541.2 195.0 541.0C197.0 540.8 199.6 540.9 201.0 541.5C202.4 542.1 203.2 543.3 203.2 544.5C203.2 545.7 202.5 547.6 201.0 548.5C199.5 549.4 196.2 549.6 194.0 549.8C191.8 550.0 189.3 550.0 188.0 549.5C186.7 549.0 185.8 547.7 186.0 546.5Z"/>
<ellipse class="pul" cx="195.0" cy="545.5" rx="4.0" ry="1.5"/>
<ellipse class="pu" cx="224.4" cy="549.7" rx="5.4" ry="3.5"/>
<ellipse class="pul" cx="224.4" cy="549.7" rx="2.5" ry="1.2"/>
<path class="puo" d="M234.0 554.0C234.3 553.4 236.5 552.9 238.0 552.8C239.5 552.7 241.6 553.0 243.0 553.5C244.4 554.0 246.5 554.7 246.7 555.5C246.9 556.3 245.1 558.0 244.0 558.5C242.9 559.0 241.3 558.9 240.0 558.6C238.7 558.3 237.0 557.3 236.0 556.5C235.0 555.7 233.7 554.6 234.0 554.0Z"/>
<ellipse class="pu" cx="375.8" cy="555.6" rx="5.3" ry="5.9" transform="rotate(20 375.8 555.6)"/>
<ellipse class="pul" cx="375.8" cy="555.6" rx="1.8" ry="2.2"/>
<ellipse class="pu" cx="473.5" cy="538.0" rx="4.7" ry="6.0" transform="rotate(15 473.5 538.0)"/>
<ellipse class="pul" cx="473.5" cy="538.0" rx="1.6" ry="2.5"/>
<path class="pu" d="M419.0 537.0C419.9 536.1 422.6 534.9 424.0 534.8C425.4 534.7 426.5 535.5 427.5 536.5C428.5 537.5 428.8 539.8 430.0 541.0C431.2 542.2 433.0 543.2 435.0 544.0C437.0 544.8 440.5 545.1 442.0 546.0C443.5 546.9 444.4 548.2 444.2 549.5C444.0 550.8 442.2 552.6 441.0 553.5C439.8 554.4 438.2 555.0 437.0 554.7C435.8 554.4 435.5 552.3 434.0 551.5C432.5 550.7 430.2 550.3 428.0 550.0C425.8 549.7 422.6 550.2 421.0 549.5C419.4 548.8 418.9 547.1 418.5 545.5C418.1 543.9 418.4 541.4 418.5 540.0C418.6 538.6 418.1 537.9 419.0 537.0Z"/>
<ellipse class="pul" cx="426.0" cy="545.0" rx="4.0" ry="1.5"/>
<ellipse class="pu" cx="415.0" cy="535.5" rx="1.6" ry="1.4"/>
<path class="gr" d="M797.8 538.0C798.2 536.8 799.0 535.2 800.0 534.5C801.0 533.8 802.9 533.2 804.0 533.5C805.1 533.8 805.8 534.8 806.5 536.0C807.2 537.2 807.1 539.8 808.0 541.0C808.9 542.2 810.8 542.2 812.0 543.0C813.2 543.8 815.0 544.9 815.2 546.0C815.5 547.1 814.5 548.8 813.5 549.5C812.5 550.2 810.4 550.2 809.0 550.0C807.6 549.8 806.5 548.8 805.0 548.0C803.5 547.2 801.2 546.1 800.0 545.0C798.8 543.9 798.2 542.7 797.8 541.5C797.4 540.3 797.4 539.2 797.8 538.0Z"/>
<ellipse class="grl" cx="806.0" cy="543.0" rx="2.5" ry="1.2"/>
<ellipse class="gr" cx="976.0" cy="535.8" rx="5.0" ry="3.9" transform="rotate(-10 976.0 535.8)"/>
<ellipse class="grl" cx="976.0" cy="535.8" rx="1.3" ry="0.9"/>
<ellipse class="gr" cx="933.2" cy="550.7" rx="5.8" ry="5.7"/>
<ellipse class="grl" cx="933.2" cy="550.7" rx="1.3" ry="0.9"/>
<ellipse class="gr" cx="891.5" cy="556.0" rx="5.5" ry="5.2"/>
<ellipse class="grl" cx="891.5" cy="556.0" rx="1.2" ry="1.2"/>
<text x="143.4" y="527.4" font-size="8.6" textLength="62.6" lengthAdjust="spacingAndGlyphs" stroke="#1a1a1a" stroke-width="0.3">I74(N,H)–F73(C′)</text>
<text x="217.4" y="520.9" font-size="8.6" textLength="66.6" lengthAdjust="spacingAndGlyphs" stroke="#1a1a1a" stroke-width="0.3">A82(N,H)–V81(C′)</text>
<text x="99.1" y="546.9" font-size="8.6" textLength="55.5" lengthAdjust="spacingAndGlyphs" stroke="#1a1a1a" stroke-width="0.3">I8(N,H)–V7(C′)</text>
<text x="129.7" y="572.9" font-size="8.6" textLength="63.5" lengthAdjust="spacingAndGlyphs" stroke="#1a1a1a" stroke-width="0.3">L84(N,H)–I83(C′)</text>
<text x="205.4" y="586.6" font-size="8.6" textLength="68.3" lengthAdjust="spacingAndGlyphs" stroke="#1a1a1a" stroke-width="0.3">W54(N,H)–T53(C′)</text>
<text x="303.3" y="525.1" font-size="8.6" textLength="70.1" lengthAdjust="spacingAndGlyphs" stroke="#1a1a1a" stroke-width="0.3">W54(N,H)–T53(Cα)</text>
<text x="372.8" y="510.6" font-size="8.6" textLength="70.1" lengthAdjust="spacingAndGlyphs" stroke="#1a1a1a" stroke-width="0.3">A82(N,H)–V81(Cα)</text>
<text x="487.3" y="526.0" font-size="8.6" textLength="67.3" lengthAdjust="spacingAndGlyphs" stroke="#1a1a1a" stroke-width="0.3">I74(N,H)–F73(Cα)</text>
<text x="379.5" y="584.9" font-size="8.6" textLength="57.7" lengthAdjust="spacingAndGlyphs" stroke="#1a1a1a" stroke-width="0.3">I8(N,H)–V7(Cα)</text>
<text x="449.9" y="582.0" font-size="8.6" textLength="65.8" lengthAdjust="spacingAndGlyphs" stroke="#1a1a1a" stroke-width="0.3">L84(N,H)–I83(Cα)</text>
<text x="719.5" y="524.6" font-size="8.6" textLength="45.5" lengthAdjust="spacingAndGlyphs" stroke="#1a1a1a" stroke-width="0.3">I74(N,H,Cα)</text>
<text x="847.7" y="519.6" font-size="8.6" textLength="50.6" lengthAdjust="spacingAndGlyphs" stroke="#1a1a1a" stroke-width="0.3">W54(N,H,Cα)</text>
<text x="946.7" y="519.6" font-size="8.6" textLength="47.6" lengthAdjust="spacingAndGlyphs" stroke="#1a1a1a" stroke-width="0.3">A82(N,H,Cα)</text>
<text x="812.7" y="585.0" font-size="8.6" textLength="40.6" lengthAdjust="spacingAndGlyphs" stroke="#1a1a1a" stroke-width="0.3">I8(N,H,Cα)</text>
<text x="925.7" y="595.6" font-size="8.6" textLength="46.6" lengthAdjust="spacingAndGlyphs" stroke="#1a1a1a" stroke-width="0.3">L84(N,H,Cα)</text>
<text x="65.0" y="472.9" font-size="14" font-weight="bold" textLength="71.0" lengthAdjust="spacingAndGlyphs">HN(CO)CX</text>
<text x="305.2" y="472.9" font-size="14" font-weight="bold" textLength="73.5" lengthAdjust="spacingAndGlyphs">HN(CO)CX</text>
<text x="683.0" y="472.9" font-size="14" font-weight="bold" textLength="42.8" lengthAdjust="spacingAndGlyphs">HNCA</text>
<text x="928.6" y="467.4" font-size="11" font-weight="bold" textLength="83.2" lengthAdjust="spacingAndGlyphs">δ<tspan font-size="7.5" dy="4">15N</tspan><tspan dy="-4">=128.3 ppm</tspan></text>
<text x="398.4" y="674.8" font-size="19" font-weight="bold" textLength="216.3" lengthAdjust="spacingAndGlyphs"><tspan font-size="11" dy="-7">13</tspan><tspan dy="7">C Chemical shift (ppm)</tspan></text>
<g transform="translate(16.3,672) rotate(-90)">
<text x="0.0" y="0.0" font-size="19" font-weight="bold" textLength="218.3" lengthAdjust="spacingAndGlyphs"><tspan font-size="11" dy="-7">15</tspan><tspan dy="7">N Chemical shift (ppm)</tspan></text>
</g>
<rect x="1017.2" y="549.5" width="1.6" height="5" fill="#333"/>
<text x="1022.0" y="681.4" font-size="26" font-family="Liberation Serif" fill="#111">(e)</text>
</svg>
</body></html>
